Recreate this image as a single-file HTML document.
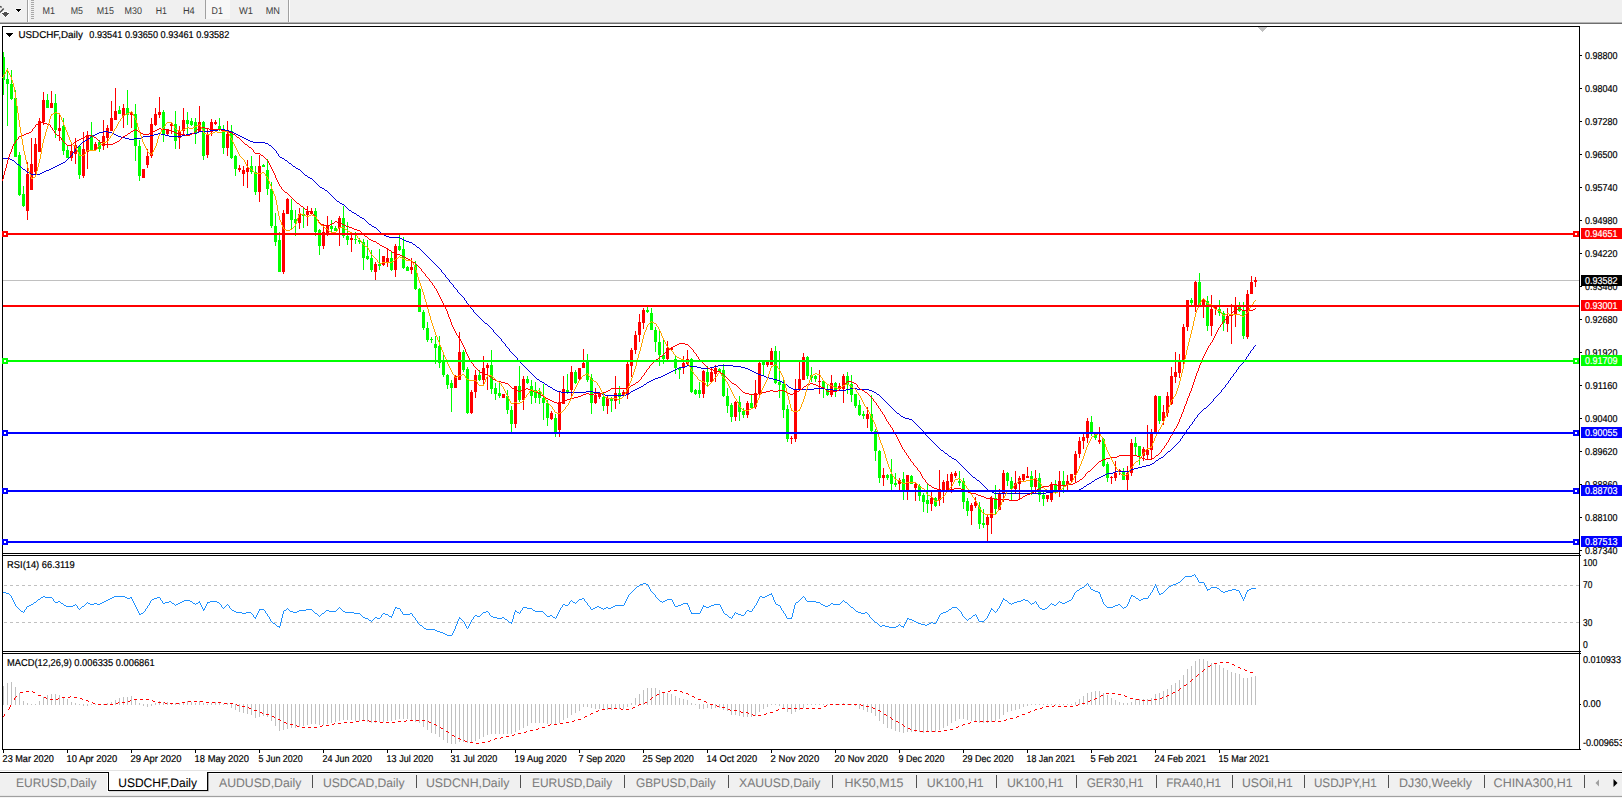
<!DOCTYPE html>
<html><head><meta charset="utf-8"><title>USDCHF,Daily</title>
<style>html,body{margin:0;padding:0;background:#fff;width:1622px;height:798px;overflow:hidden}</style></head>
<body>
<svg width="1622" height="798" viewBox="0 0 1622 798" style="position:absolute;left:0;top:0">
<rect width="1622" height="798" fill="#fff"/>
<g shape-rendering="crispEdges">
<rect x="0" y="0" width="1622" height="22" fill="#f0f0f0"/>
<rect x="0" y="22" width="1622" height="1" fill="#b4b4b4"/>
<rect x="0" y="23" width="1622" height="1" fill="#6e6e6e"/>
<rect x="27" y="0" width="1" height="22" fill="#a0a0a0"/><rect x="28" y="0" width="1" height="22" fill="#fff"/>
<rect x="31" y="0" width="3" height="1" fill="#a8a8a8"/>
<rect x="31" y="2" width="3" height="1" fill="#a8a8a8"/>
<rect x="31" y="4" width="3" height="1" fill="#a8a8a8"/>
<rect x="31" y="6" width="3" height="1" fill="#a8a8a8"/>
<rect x="31" y="8" width="3" height="1" fill="#a8a8a8"/>
<rect x="31" y="10" width="3" height="1" fill="#a8a8a8"/>
<rect x="31" y="12" width="3" height="1" fill="#a8a8a8"/>
<rect x="31" y="14" width="3" height="1" fill="#a8a8a8"/>
<rect x="31" y="16" width="3" height="1" fill="#a8a8a8"/>
<rect x="31" y="18" width="3" height="1" fill="#a8a8a8"/>
<rect x="205" y="0" width="25" height="19" fill="#f7f7f7"/>
<rect x="205" y="0" width="1" height="19" fill="#a0a0a0"/>
<rect x="288" y="0" width="1" height="22" fill="#a0a0a0"/><rect x="289" y="0" width="1" height="22" fill="#fff"/>
<rect x="15" y="9" width="7" height="1" fill="#fafafa"/>
<rect x="16" y="10" width="5" height="1" fill="#fafafa"/>
<rect x="17" y="11" width="3" height="1" fill="#fafafa"/>
<rect x="18" y="12" width="1" height="1" fill="#fafafa"/>
<rect x="16" y="8" width="5" height="1" fill="#fafafa"/>
<rect x="16" y="9" width="5" height="1" fill="#000"/>
<rect x="17" y="10" width="3" height="1" fill="#000"/>
<rect x="18" y="11" width="1" height="1" fill="#000"/>
</g>
<path d="M0 12.6 L3.7 8.6" stroke="#4a4a4a" stroke-width="1.5" fill="none"/><path d="M0 6.4 L1.7 7.4" stroke="#4a4a4a" stroke-width="1.4" fill="none"/>
<g shape-rendering="crispEdges">
<rect x="3" y="11" width="5" height="1" fill="#fbfbfb"/>
<rect x="1" y="12" width="9" height="1" fill="#fbfbfb"/>
<rect x="2" y="14" width="7" height="1" fill="#fbfbfb"/>
<rect x="3" y="15" width="5" height="1" fill="#fbfbfb"/>
<rect x="4" y="16" width="3" height="1" fill="#fbfbfb"/>
<rect x="5" y="17" width="1" height="1" fill="#fbfbfb"/>
<rect x="4" y="12" width="3" height="1" fill="#505050"/>
<rect x="2" y="13" width="7" height="1" fill="#505050"/>
<rect x="3" y="14" width="5" height="1" fill="#505050"/>
<rect x="4" y="15" width="3" height="1" fill="#505050"/>
<rect x="5" y="16" width="1" height="1" fill="#505050"/>
</g>
<text transform="translate(42.5,14) skewX(0.05)" font-family="Liberation Sans, sans-serif" font-size="9.8" fill="#3c3c3c" textLength="12.5" lengthAdjust="spacingAndGlyphs">M1</text>
<text transform="translate(70.7,14) skewX(0.05)" font-family="Liberation Sans, sans-serif" font-size="9.8" fill="#3c3c3c" textLength="12.3" lengthAdjust="spacingAndGlyphs">M5</text>
<text transform="translate(96.7,14) skewX(0.05)" font-family="Liberation Sans, sans-serif" font-size="9.8" fill="#3c3c3c" textLength="17.3" lengthAdjust="spacingAndGlyphs">M15</text>
<text transform="translate(124.6,14) skewX(0.05)" font-family="Liberation Sans, sans-serif" font-size="9.8" fill="#3c3c3c" textLength="17.4" lengthAdjust="spacingAndGlyphs">M30</text>
<text transform="translate(155.8,14) skewX(0.05)" font-family="Liberation Sans, sans-serif" font-size="9.8" fill="#3c3c3c" textLength="11.2" lengthAdjust="spacingAndGlyphs">H1</text>
<text transform="translate(182.9,14) skewX(0.05)" font-family="Liberation Sans, sans-serif" font-size="9.8" fill="#3c3c3c" textLength="11.8" lengthAdjust="spacingAndGlyphs">H4</text>
<text transform="translate(211.5,14) skewX(0.05)" font-family="Liberation Sans, sans-serif" font-size="9.8" fill="#3c3c3c" textLength="11.3" lengthAdjust="spacingAndGlyphs">D1</text>
<text transform="translate(239,14) skewX(0.05)" font-family="Liberation Sans, sans-serif" font-size="9.8" fill="#3c3c3c" textLength="14.0" lengthAdjust="spacingAndGlyphs">W1</text>
<text transform="translate(265.7,14) skewX(0.05)" font-family="Liberation Sans, sans-serif" font-size="9.8" fill="#3c3c3c" textLength="14.3" lengthAdjust="spacingAndGlyphs">MN</text>
<g shape-rendering="crispEdges" fill="#000">
<rect x="2" y="26" width="1578" height="1"/>
<rect x="2" y="26" width="1" height="724"/>
<rect x="1579" y="26" width="1" height="724"/>
<rect x="2" y="553" width="1577" height="1"/>
<rect x="2" y="555" width="1577" height="1"/>
<rect x="2" y="651" width="1577" height="1"/>
<rect x="2" y="653" width="1577" height="1"/>
<rect x="2" y="749" width="1577" height="1"/>
</g>
<rect x="3" y="280" width="1576" height="1" fill="#c0c0c0" shape-rendering="crispEdges"/>
<g shape-rendering="crispEdges">
<rect x="3" y="52" width="1" height="43" fill="#00ff00"/>
<rect x="3" y="57" width="2" height="23" fill="#00ff00"/>
<rect x="7" y="68" width="1" height="58" fill="#00ff00"/>
<rect x="6" y="79" width="3" height="5" fill="#00ff00"/>
<rect x="11" y="70" width="1" height="30" fill="#00ff00"/>
<rect x="10" y="84" width="3" height="15" fill="#00ff00"/>
<rect x="15" y="90" width="1" height="67" fill="#00ff00"/>
<rect x="14" y="98" width="3" height="59" fill="#00ff00"/>
<rect x="19" y="152" width="1" height="44" fill="#00ff00"/>
<rect x="18" y="155" width="3" height="40" fill="#00ff00"/>
<rect x="23" y="186" width="1" height="21" fill="#00ff00"/>
<rect x="22" y="194" width="3" height="12" fill="#00ff00"/>
<rect x="27" y="162" width="1" height="58" fill="#ff0000"/>
<rect x="26" y="174" width="3" height="37" fill="#ff0000"/>
<rect x="31" y="138" width="1" height="52" fill="#ff0000"/>
<rect x="30" y="164" width="3" height="26" fill="#ff0000"/>
<rect x="35" y="138" width="1" height="38" fill="#ff0000"/>
<rect x="34" y="144" width="3" height="28" fill="#ff0000"/>
<rect x="39" y="118" width="1" height="34" fill="#ff0000"/>
<rect x="38" y="121" width="3" height="31" fill="#ff0000"/>
<rect x="43" y="92" width="1" height="33" fill="#ff0000"/>
<rect x="42" y="100" width="3" height="22" fill="#ff0000"/>
<rect x="47" y="94" width="1" height="14" fill="#00ff00"/>
<rect x="46" y="100" width="3" height="8" fill="#00ff00"/>
<rect x="51" y="91" width="1" height="17" fill="#ff0000"/>
<rect x="50" y="103" width="3" height="5" fill="#ff0000"/>
<rect x="55" y="94" width="1" height="44" fill="#00ff00"/>
<rect x="54" y="103" width="3" height="27" fill="#00ff00"/>
<rect x="59" y="115" width="1" height="26" fill="#ff0000"/>
<rect x="58" y="128" width="3" height="3" fill="#ff0000"/>
<rect x="63" y="118" width="1" height="37" fill="#00ff00"/>
<rect x="62" y="126" width="3" height="25" fill="#00ff00"/>
<rect x="67" y="146" width="1" height="12" fill="#00ff00"/>
<rect x="66" y="150" width="3" height="8" fill="#00ff00"/>
<rect x="71" y="144" width="1" height="17" fill="#ff0000"/>
<rect x="70" y="151" width="3" height="7" fill="#ff0000"/>
<rect x="75" y="138" width="1" height="26" fill="#ff0000"/>
<rect x="74" y="145" width="3" height="9" fill="#ff0000"/>
<rect x="79" y="146" width="1" height="33" fill="#00ff00"/>
<rect x="78" y="146" width="3" height="29" fill="#00ff00"/>
<rect x="83" y="132" width="1" height="46" fill="#ff0000"/>
<rect x="82" y="149" width="3" height="27" fill="#ff0000"/>
<rect x="87" y="131" width="1" height="38" fill="#ff0000"/>
<rect x="86" y="135" width="3" height="17" fill="#ff0000"/>
<rect x="91" y="122" width="1" height="29" fill="#00ff00"/>
<rect x="90" y="135" width="3" height="15" fill="#00ff00"/>
<rect x="95" y="142" width="1" height="9" fill="#ff0000"/>
<rect x="94" y="144" width="3" height="6" fill="#ff0000"/>
<rect x="99" y="140" width="1" height="12" fill="#00ff00"/>
<rect x="98" y="142" width="3" height="7" fill="#00ff00"/>
<rect x="103" y="120" width="1" height="30" fill="#ff0000"/>
<rect x="102" y="136" width="3" height="10" fill="#ff0000"/>
<rect x="107" y="125" width="1" height="23" fill="#ff0000"/>
<rect x="106" y="128" width="3" height="10" fill="#ff0000"/>
<rect x="111" y="101" width="1" height="30" fill="#ff0000"/>
<rect x="110" y="118" width="3" height="13" fill="#ff0000"/>
<rect x="115" y="88" width="1" height="32" fill="#ff0000"/>
<rect x="114" y="111" width="3" height="9" fill="#ff0000"/>
<rect x="119" y="106" width="1" height="8" fill="#00ff00"/>
<rect x="118" y="110" width="3" height="4" fill="#00ff00"/>
<rect x="123" y="104" width="1" height="24" fill="#ff0000"/>
<rect x="122" y="108" width="3" height="8" fill="#ff0000"/>
<rect x="127" y="90" width="1" height="35" fill="#00ff00"/>
<rect x="126" y="108" width="3" height="7" fill="#00ff00"/>
<rect x="131" y="111" width="1" height="17" fill="#ff0000"/>
<rect x="130" y="112" width="3" height="3" fill="#ff0000"/>
<rect x="135" y="104" width="1" height="57" fill="#00ff00"/>
<rect x="134" y="114" width="3" height="32" fill="#00ff00"/>
<rect x="139" y="140" width="1" height="41" fill="#00ff00"/>
<rect x="138" y="146" width="3" height="30" fill="#00ff00"/>
<rect x="143" y="169" width="1" height="9" fill="#ff0000"/>
<rect x="142" y="169" width="3" height="9" fill="#ff0000"/>
<rect x="147" y="149" width="1" height="19" fill="#ff0000"/>
<rect x="146" y="156" width="3" height="9" fill="#ff0000"/>
<rect x="151" y="118" width="1" height="40" fill="#ff0000"/>
<rect x="150" y="124" width="3" height="32" fill="#ff0000"/>
<rect x="155" y="108" width="1" height="18" fill="#ff0000"/>
<rect x="154" y="114" width="3" height="11" fill="#ff0000"/>
<rect x="159" y="97" width="1" height="21" fill="#ff0000"/>
<rect x="158" y="112" width="3" height="3" fill="#ff0000"/>
<rect x="163" y="110" width="1" height="32" fill="#00ff00"/>
<rect x="162" y="112" width="3" height="22" fill="#00ff00"/>
<rect x="167" y="129" width="1" height="6" fill="#ff0000"/>
<rect x="166" y="130" width="3" height="4" fill="#ff0000"/>
<rect x="171" y="122" width="1" height="12" fill="#ff0000"/>
<rect x="170" y="124" width="3" height="2" fill="#ff0000"/>
<rect x="175" y="111" width="1" height="38" fill="#00ff00"/>
<rect x="174" y="124" width="3" height="17" fill="#00ff00"/>
<rect x="179" y="126" width="1" height="23" fill="#ff0000"/>
<rect x="178" y="131" width="3" height="7" fill="#ff0000"/>
<rect x="183" y="108" width="1" height="28" fill="#ff0000"/>
<rect x="182" y="120" width="3" height="11" fill="#ff0000"/>
<rect x="187" y="112" width="1" height="24" fill="#00ff00"/>
<rect x="186" y="120" width="3" height="4" fill="#00ff00"/>
<rect x="191" y="118" width="1" height="8" fill="#00ff00"/>
<rect x="190" y="121" width="3" height="4" fill="#00ff00"/>
<rect x="195" y="118" width="1" height="26" fill="#00ff00"/>
<rect x="194" y="122" width="3" height="12" fill="#00ff00"/>
<rect x="199" y="106" width="1" height="26" fill="#ff0000"/>
<rect x="198" y="122" width="3" height="10" fill="#ff0000"/>
<rect x="203" y="121" width="1" height="39" fill="#00ff00"/>
<rect x="202" y="122" width="3" height="34" fill="#00ff00"/>
<rect x="207" y="128" width="1" height="30" fill="#ff0000"/>
<rect x="206" y="134" width="3" height="21" fill="#ff0000"/>
<rect x="211" y="119" width="1" height="17" fill="#ff0000"/>
<rect x="210" y="122" width="3" height="10" fill="#ff0000"/>
<rect x="215" y="120" width="1" height="5" fill="#ff0000"/>
<rect x="214" y="122" width="3" height="2" fill="#ff0000"/>
<rect x="219" y="118" width="1" height="13" fill="#00ff00"/>
<rect x="218" y="126" width="3" height="4" fill="#00ff00"/>
<rect x="223" y="125" width="1" height="29" fill="#00ff00"/>
<rect x="222" y="131" width="3" height="17" fill="#00ff00"/>
<rect x="227" y="121" width="1" height="35" fill="#ff0000"/>
<rect x="226" y="134" width="3" height="14" fill="#ff0000"/>
<rect x="231" y="125" width="1" height="34" fill="#00ff00"/>
<rect x="230" y="131" width="3" height="27" fill="#00ff00"/>
<rect x="235" y="155" width="1" height="21" fill="#00ff00"/>
<rect x="234" y="156" width="3" height="13" fill="#00ff00"/>
<rect x="239" y="165" width="1" height="7" fill="#ff0000"/>
<rect x="238" y="168" width="3" height="2" fill="#ff0000"/>
<rect x="243" y="166" width="1" height="20" fill="#ff0000"/>
<rect x="242" y="170" width="3" height="4" fill="#ff0000"/>
<rect x="247" y="160" width="1" height="28" fill="#ff0000"/>
<rect x="246" y="168" width="3" height="4" fill="#ff0000"/>
<rect x="251" y="156" width="1" height="18" fill="#00ff00"/>
<rect x="250" y="166" width="3" height="6" fill="#00ff00"/>
<rect x="255" y="166" width="1" height="29" fill="#00ff00"/>
<rect x="254" y="172" width="3" height="20" fill="#00ff00"/>
<rect x="259" y="155" width="1" height="47" fill="#ff0000"/>
<rect x="258" y="166" width="3" height="26" fill="#ff0000"/>
<rect x="263" y="164" width="1" height="3" fill="#00ff00"/>
<rect x="262" y="165" width="3" height="2" fill="#00ff00"/>
<rect x="267" y="159" width="1" height="36" fill="#00ff00"/>
<rect x="266" y="170" width="3" height="19" fill="#00ff00"/>
<rect x="271" y="182" width="1" height="46" fill="#00ff00"/>
<rect x="270" y="189" width="3" height="37" fill="#00ff00"/>
<rect x="275" y="213" width="1" height="33" fill="#00ff00"/>
<rect x="274" y="226" width="3" height="16" fill="#00ff00"/>
<rect x="279" y="232" width="1" height="40" fill="#00ff00"/>
<rect x="278" y="240" width="3" height="32" fill="#00ff00"/>
<rect x="283" y="210" width="1" height="64" fill="#ff0000"/>
<rect x="282" y="213" width="3" height="59" fill="#ff0000"/>
<rect x="287" y="198" width="1" height="16" fill="#ff0000"/>
<rect x="286" y="199" width="3" height="15" fill="#ff0000"/>
<rect x="291" y="199" width="1" height="30" fill="#00ff00"/>
<rect x="290" y="210" width="3" height="10" fill="#00ff00"/>
<rect x="295" y="210" width="1" height="26" fill="#00ff00"/>
<rect x="294" y="219" width="3" height="4" fill="#00ff00"/>
<rect x="299" y="208" width="1" height="21" fill="#ff0000"/>
<rect x="298" y="214" width="3" height="9" fill="#ff0000"/>
<rect x="303" y="208" width="1" height="20" fill="#00ff00"/>
<rect x="302" y="214" width="3" height="2" fill="#00ff00"/>
<rect x="307" y="206" width="1" height="20" fill="#ff0000"/>
<rect x="306" y="211" width="3" height="4" fill="#ff0000"/>
<rect x="311" y="208" width="1" height="6" fill="#ff0000"/>
<rect x="310" y="211" width="3" height="3" fill="#ff0000"/>
<rect x="315" y="208" width="1" height="28" fill="#00ff00"/>
<rect x="314" y="211" width="3" height="21" fill="#00ff00"/>
<rect x="319" y="229" width="1" height="26" fill="#00ff00"/>
<rect x="318" y="230" width="3" height="16" fill="#00ff00"/>
<rect x="323" y="224" width="1" height="25" fill="#ff0000"/>
<rect x="322" y="232" width="3" height="14" fill="#ff0000"/>
<rect x="327" y="216" width="1" height="20" fill="#ff0000"/>
<rect x="326" y="226" width="3" height="7" fill="#ff0000"/>
<rect x="331" y="220" width="1" height="12" fill="#00ff00"/>
<rect x="330" y="226" width="3" height="3" fill="#00ff00"/>
<rect x="335" y="226" width="1" height="5" fill="#00ff00"/>
<rect x="334" y="228" width="3" height="3" fill="#00ff00"/>
<rect x="339" y="216" width="1" height="30" fill="#ff0000"/>
<rect x="338" y="218" width="3" height="10" fill="#ff0000"/>
<rect x="343" y="206" width="1" height="32" fill="#00ff00"/>
<rect x="342" y="218" width="3" height="18" fill="#00ff00"/>
<rect x="347" y="222" width="1" height="23" fill="#00ff00"/>
<rect x="346" y="236" width="3" height="4" fill="#00ff00"/>
<rect x="351" y="233" width="1" height="19" fill="#ff0000"/>
<rect x="350" y="238" width="3" height="2" fill="#ff0000"/>
<rect x="355" y="232" width="1" height="12" fill="#00ff00"/>
<rect x="354" y="239" width="3" height="1" fill="#00ff00"/>
<rect x="359" y="238" width="1" height="6" fill="#00ff00"/>
<rect x="358" y="240" width="3" height="2" fill="#00ff00"/>
<rect x="363" y="239" width="1" height="31" fill="#00ff00"/>
<rect x="362" y="242" width="3" height="16" fill="#00ff00"/>
<rect x="367" y="240" width="1" height="20" fill="#00ff00"/>
<rect x="366" y="256" width="3" height="3" fill="#00ff00"/>
<rect x="371" y="250" width="1" height="22" fill="#00ff00"/>
<rect x="370" y="258" width="3" height="12" fill="#00ff00"/>
<rect x="375" y="262" width="1" height="18" fill="#ff0000"/>
<rect x="374" y="264" width="3" height="8" fill="#ff0000"/>
<rect x="379" y="249" width="1" height="21" fill="#00ff00"/>
<rect x="378" y="264" width="3" height="2" fill="#00ff00"/>
<rect x="383" y="256" width="1" height="10" fill="#ff0000"/>
<rect x="382" y="256" width="3" height="9" fill="#ff0000"/>
<rect x="387" y="248" width="1" height="19" fill="#ff0000"/>
<rect x="386" y="258" width="3" height="4" fill="#ff0000"/>
<rect x="391" y="252" width="1" height="19" fill="#00ff00"/>
<rect x="390" y="258" width="3" height="12" fill="#00ff00"/>
<rect x="395" y="244" width="1" height="33" fill="#ff0000"/>
<rect x="394" y="246" width="3" height="24" fill="#ff0000"/>
<rect x="399" y="235" width="1" height="16" fill="#00ff00"/>
<rect x="398" y="246" width="3" height="4" fill="#00ff00"/>
<rect x="403" y="237" width="1" height="32" fill="#00ff00"/>
<rect x="402" y="249" width="3" height="19" fill="#00ff00"/>
<rect x="407" y="266" width="1" height="5" fill="#00ff00"/>
<rect x="406" y="267" width="3" height="4" fill="#00ff00"/>
<rect x="411" y="258" width="1" height="16" fill="#ff0000"/>
<rect x="410" y="267" width="3" height="3" fill="#ff0000"/>
<rect x="415" y="261" width="1" height="29" fill="#00ff00"/>
<rect x="414" y="265" width="3" height="24" fill="#00ff00"/>
<rect x="419" y="288" width="1" height="24" fill="#00ff00"/>
<rect x="418" y="289" width="3" height="23" fill="#00ff00"/>
<rect x="423" y="310" width="1" height="20" fill="#00ff00"/>
<rect x="422" y="312" width="3" height="16" fill="#00ff00"/>
<rect x="427" y="322" width="1" height="20" fill="#00ff00"/>
<rect x="426" y="328" width="3" height="12" fill="#00ff00"/>
<rect x="431" y="337" width="1" height="6" fill="#00ff00"/>
<rect x="430" y="339" width="3" height="1" fill="#00ff00"/>
<rect x="435" y="336" width="1" height="28" fill="#00ff00"/>
<rect x="434" y="344" width="3" height="4" fill="#00ff00"/>
<rect x="439" y="336" width="1" height="32" fill="#00ff00"/>
<rect x="438" y="346" width="3" height="17" fill="#00ff00"/>
<rect x="443" y="355" width="1" height="22" fill="#00ff00"/>
<rect x="442" y="362" width="3" height="13" fill="#00ff00"/>
<rect x="447" y="374" width="1" height="15" fill="#00ff00"/>
<rect x="446" y="375" width="3" height="10" fill="#00ff00"/>
<rect x="451" y="380" width="1" height="32" fill="#00ff00"/>
<rect x="450" y="383" width="3" height="5" fill="#00ff00"/>
<rect x="455" y="375" width="1" height="13" fill="#ff0000"/>
<rect x="454" y="376" width="3" height="12" fill="#ff0000"/>
<rect x="459" y="332" width="1" height="48" fill="#ff0000"/>
<rect x="458" y="352" width="3" height="28" fill="#ff0000"/>
<rect x="463" y="350" width="1" height="22" fill="#00ff00"/>
<rect x="462" y="352" width="3" height="18" fill="#00ff00"/>
<rect x="467" y="367" width="1" height="47" fill="#00ff00"/>
<rect x="466" y="369" width="3" height="44" fill="#00ff00"/>
<rect x="471" y="390" width="1" height="24" fill="#ff0000"/>
<rect x="470" y="392" width="3" height="21" fill="#ff0000"/>
<rect x="475" y="370" width="1" height="28" fill="#ff0000"/>
<rect x="474" y="375" width="3" height="17" fill="#ff0000"/>
<rect x="479" y="370" width="1" height="11" fill="#00ff00"/>
<rect x="478" y="375" width="3" height="5" fill="#00ff00"/>
<rect x="483" y="356" width="1" height="29" fill="#ff0000"/>
<rect x="482" y="368" width="3" height="12" fill="#ff0000"/>
<rect x="487" y="363" width="1" height="27" fill="#ff0000"/>
<rect x="486" y="365" width="3" height="3" fill="#ff0000"/>
<rect x="491" y="350" width="1" height="44" fill="#00ff00"/>
<rect x="490" y="365" width="3" height="24" fill="#00ff00"/>
<rect x="495" y="383" width="1" height="17" fill="#00ff00"/>
<rect x="494" y="388" width="3" height="6" fill="#00ff00"/>
<rect x="499" y="383" width="1" height="15" fill="#00ff00"/>
<rect x="498" y="393" width="3" height="3" fill="#00ff00"/>
<rect x="503" y="394" width="1" height="4" fill="#ff0000"/>
<rect x="502" y="394" width="3" height="4" fill="#ff0000"/>
<rect x="507" y="390" width="1" height="24" fill="#00ff00"/>
<rect x="506" y="396" width="3" height="14" fill="#00ff00"/>
<rect x="511" y="406" width="1" height="26" fill="#00ff00"/>
<rect x="510" y="410" width="3" height="14" fill="#00ff00"/>
<rect x="515" y="386" width="1" height="42" fill="#ff0000"/>
<rect x="514" y="386" width="3" height="38" fill="#ff0000"/>
<rect x="519" y="366" width="1" height="36" fill="#00ff00"/>
<rect x="518" y="386" width="3" height="14" fill="#00ff00"/>
<rect x="523" y="376" width="1" height="34" fill="#ff0000"/>
<rect x="522" y="379" width="3" height="21" fill="#ff0000"/>
<rect x="527" y="376" width="1" height="8" fill="#00ff00"/>
<rect x="526" y="379" width="3" height="4" fill="#00ff00"/>
<rect x="531" y="380" width="1" height="24" fill="#00ff00"/>
<rect x="530" y="386" width="3" height="10" fill="#00ff00"/>
<rect x="535" y="382" width="1" height="21" fill="#00ff00"/>
<rect x="534" y="390" width="3" height="8" fill="#00ff00"/>
<rect x="539" y="388" width="1" height="16" fill="#00ff00"/>
<rect x="538" y="392" width="3" height="6" fill="#00ff00"/>
<rect x="543" y="384" width="1" height="36" fill="#00ff00"/>
<rect x="542" y="398" width="3" height="5" fill="#00ff00"/>
<rect x="547" y="400" width="1" height="26" fill="#00ff00"/>
<rect x="546" y="403" width="3" height="15" fill="#00ff00"/>
<rect x="551" y="411" width="1" height="9" fill="#ff0000"/>
<rect x="550" y="413" width="3" height="6" fill="#ff0000"/>
<rect x="555" y="414" width="1" height="23" fill="#00ff00"/>
<rect x="554" y="418" width="3" height="14" fill="#00ff00"/>
<rect x="559" y="392" width="1" height="45" fill="#ff0000"/>
<rect x="558" y="402" width="3" height="28" fill="#ff0000"/>
<rect x="563" y="376" width="1" height="28" fill="#ff0000"/>
<rect x="562" y="389" width="3" height="15" fill="#ff0000"/>
<rect x="567" y="374" width="1" height="20" fill="#00ff00"/>
<rect x="566" y="390" width="3" height="3" fill="#00ff00"/>
<rect x="571" y="366" width="1" height="32" fill="#ff0000"/>
<rect x="570" y="372" width="3" height="18" fill="#ff0000"/>
<rect x="575" y="370" width="1" height="14" fill="#00ff00"/>
<rect x="574" y="372" width="3" height="11" fill="#00ff00"/>
<rect x="579" y="368" width="1" height="12" fill="#ff0000"/>
<rect x="578" y="368" width="3" height="11" fill="#ff0000"/>
<rect x="583" y="349" width="1" height="19" fill="#ff0000"/>
<rect x="582" y="363" width="3" height="5" fill="#ff0000"/>
<rect x="587" y="354" width="1" height="28" fill="#00ff00"/>
<rect x="586" y="362" width="3" height="18" fill="#00ff00"/>
<rect x="591" y="374" width="1" height="40" fill="#00ff00"/>
<rect x="590" y="378" width="3" height="25" fill="#00ff00"/>
<rect x="595" y="388" width="1" height="16" fill="#ff0000"/>
<rect x="594" y="395" width="3" height="8" fill="#ff0000"/>
<rect x="599" y="392" width="1" height="7" fill="#ff0000"/>
<rect x="598" y="393" width="3" height="4" fill="#ff0000"/>
<rect x="603" y="393" width="1" height="18" fill="#00ff00"/>
<rect x="602" y="397" width="3" height="9" fill="#00ff00"/>
<rect x="607" y="396" width="1" height="18" fill="#ff0000"/>
<rect x="606" y="398" width="3" height="8" fill="#ff0000"/>
<rect x="611" y="397" width="1" height="15" fill="#00ff00"/>
<rect x="610" y="399" width="3" height="2" fill="#00ff00"/>
<rect x="615" y="376" width="1" height="33" fill="#ff0000"/>
<rect x="614" y="393" width="3" height="8" fill="#ff0000"/>
<rect x="619" y="386" width="1" height="18" fill="#00ff00"/>
<rect x="618" y="393" width="3" height="4" fill="#00ff00"/>
<rect x="623" y="390" width="1" height="7" fill="#ff0000"/>
<rect x="622" y="392" width="3" height="4" fill="#ff0000"/>
<rect x="627" y="362" width="1" height="37" fill="#ff0000"/>
<rect x="626" y="364" width="3" height="31" fill="#ff0000"/>
<rect x="631" y="348" width="1" height="29" fill="#ff0000"/>
<rect x="630" y="350" width="3" height="16" fill="#ff0000"/>
<rect x="635" y="331" width="1" height="23" fill="#ff0000"/>
<rect x="634" y="335" width="3" height="15" fill="#ff0000"/>
<rect x="639" y="314" width="1" height="28" fill="#ff0000"/>
<rect x="638" y="322" width="3" height="13" fill="#ff0000"/>
<rect x="643" y="308" width="1" height="21" fill="#ff0000"/>
<rect x="642" y="310" width="3" height="13" fill="#ff0000"/>
<rect x="647" y="307" width="1" height="6" fill="#00ff00"/>
<rect x="646" y="310" width="3" height="2" fill="#00ff00"/>
<rect x="651" y="308" width="1" height="22" fill="#00ff00"/>
<rect x="650" y="313" width="3" height="17" fill="#00ff00"/>
<rect x="655" y="327" width="1" height="25" fill="#00ff00"/>
<rect x="654" y="330" width="3" height="12" fill="#00ff00"/>
<rect x="659" y="330" width="1" height="36" fill="#00ff00"/>
<rect x="658" y="342" width="3" height="13" fill="#00ff00"/>
<rect x="663" y="339" width="1" height="25" fill="#00ff00"/>
<rect x="662" y="355" width="3" height="4" fill="#00ff00"/>
<rect x="667" y="341" width="1" height="19" fill="#ff0000"/>
<rect x="666" y="348" width="3" height="11" fill="#ff0000"/>
<rect x="671" y="347" width="1" height="3" fill="#ff0000"/>
<rect x="670" y="348" width="3" height="2" fill="#ff0000"/>
<rect x="675" y="356" width="1" height="18" fill="#00ff00"/>
<rect x="674" y="359" width="3" height="9" fill="#00ff00"/>
<rect x="679" y="367" width="1" height="12" fill="#00ff00"/>
<rect x="678" y="368" width="3" height="2" fill="#00ff00"/>
<rect x="683" y="356" width="1" height="18" fill="#ff0000"/>
<rect x="682" y="363" width="3" height="5" fill="#ff0000"/>
<rect x="687" y="350" width="1" height="16" fill="#ff0000"/>
<rect x="686" y="359" width="3" height="5" fill="#ff0000"/>
<rect x="691" y="358" width="1" height="35" fill="#00ff00"/>
<rect x="690" y="359" width="3" height="33" fill="#00ff00"/>
<rect x="695" y="389" width="1" height="6" fill="#00ff00"/>
<rect x="694" y="390" width="3" height="4" fill="#00ff00"/>
<rect x="699" y="382" width="1" height="16" fill="#00ff00"/>
<rect x="698" y="390" width="3" height="4" fill="#00ff00"/>
<rect x="703" y="370" width="1" height="28" fill="#ff0000"/>
<rect x="702" y="371" width="3" height="23" fill="#ff0000"/>
<rect x="707" y="366" width="1" height="21" fill="#00ff00"/>
<rect x="706" y="372" width="3" height="10" fill="#00ff00"/>
<rect x="711" y="367" width="1" height="15" fill="#ff0000"/>
<rect x="710" y="372" width="3" height="10" fill="#ff0000"/>
<rect x="715" y="365" width="1" height="17" fill="#ff0000"/>
<rect x="714" y="368" width="3" height="6" fill="#ff0000"/>
<rect x="719" y="368" width="1" height="4" fill="#00ff00"/>
<rect x="718" y="369" width="3" height="3" fill="#00ff00"/>
<rect x="723" y="364" width="1" height="33" fill="#00ff00"/>
<rect x="722" y="370" width="3" height="26" fill="#00ff00"/>
<rect x="727" y="388" width="1" height="25" fill="#00ff00"/>
<rect x="726" y="396" width="3" height="10" fill="#00ff00"/>
<rect x="731" y="403" width="1" height="19" fill="#00ff00"/>
<rect x="730" y="405" width="3" height="12" fill="#00ff00"/>
<rect x="735" y="401" width="1" height="20" fill="#ff0000"/>
<rect x="734" y="402" width="3" height="15" fill="#ff0000"/>
<rect x="739" y="396" width="1" height="25" fill="#00ff00"/>
<rect x="738" y="402" width="3" height="10" fill="#00ff00"/>
<rect x="743" y="408" width="1" height="10" fill="#00ff00"/>
<rect x="742" y="411" width="3" height="4" fill="#00ff00"/>
<rect x="747" y="401" width="1" height="17" fill="#ff0000"/>
<rect x="746" y="403" width="3" height="12" fill="#ff0000"/>
<rect x="751" y="395" width="1" height="14" fill="#00ff00"/>
<rect x="750" y="403" width="3" height="5" fill="#00ff00"/>
<rect x="755" y="380" width="1" height="29" fill="#ff0000"/>
<rect x="754" y="393" width="3" height="14" fill="#ff0000"/>
<rect x="759" y="362" width="1" height="33" fill="#ff0000"/>
<rect x="758" y="363" width="3" height="31" fill="#ff0000"/>
<rect x="763" y="361" width="1" height="14" fill="#00ff00"/>
<rect x="762" y="362" width="3" height="3" fill="#00ff00"/>
<rect x="767" y="361" width="1" height="6" fill="#ff0000"/>
<rect x="766" y="362" width="3" height="3" fill="#ff0000"/>
<rect x="771" y="348" width="1" height="17" fill="#ff0000"/>
<rect x="770" y="351" width="3" height="14" fill="#ff0000"/>
<rect x="775" y="346" width="1" height="38" fill="#00ff00"/>
<rect x="774" y="351" width="3" height="32" fill="#00ff00"/>
<rect x="779" y="351" width="1" height="47" fill="#00ff00"/>
<rect x="778" y="382" width="3" height="3" fill="#00ff00"/>
<rect x="783" y="380" width="1" height="38" fill="#00ff00"/>
<rect x="782" y="384" width="3" height="26" fill="#00ff00"/>
<rect x="787" y="405" width="1" height="37" fill="#00ff00"/>
<rect x="786" y="409" width="3" height="30" fill="#00ff00"/>
<rect x="791" y="436" width="1" height="8" fill="#ff0000"/>
<rect x="790" y="438" width="3" height="1" fill="#ff0000"/>
<rect x="795" y="379" width="1" height="63" fill="#ff0000"/>
<rect x="794" y="389" width="3" height="50" fill="#ff0000"/>
<rect x="799" y="362" width="1" height="27" fill="#ff0000"/>
<rect x="798" y="379" width="3" height="10" fill="#ff0000"/>
<rect x="803" y="353" width="1" height="27" fill="#ff0000"/>
<rect x="802" y="357" width="3" height="23" fill="#ff0000"/>
<rect x="807" y="356" width="1" height="23" fill="#00ff00"/>
<rect x="806" y="357" width="3" height="19" fill="#00ff00"/>
<rect x="811" y="367" width="1" height="15" fill="#00ff00"/>
<rect x="810" y="375" width="3" height="3" fill="#00ff00"/>
<rect x="815" y="375" width="1" height="7" fill="#00ff00"/>
<rect x="814" y="376" width="3" height="3" fill="#00ff00"/>
<rect x="819" y="370" width="1" height="24" fill="#ff0000"/>
<rect x="818" y="381" width="3" height="1" fill="#ff0000"/>
<rect x="823" y="380" width="1" height="18" fill="#00ff00"/>
<rect x="822" y="381" width="3" height="8" fill="#00ff00"/>
<rect x="827" y="385" width="1" height="11" fill="#00ff00"/>
<rect x="826" y="390" width="3" height="5" fill="#00ff00"/>
<rect x="831" y="375" width="1" height="22" fill="#ff0000"/>
<rect x="830" y="383" width="3" height="12" fill="#ff0000"/>
<rect x="835" y="382" width="1" height="15" fill="#00ff00"/>
<rect x="834" y="383" width="3" height="7" fill="#00ff00"/>
<rect x="839" y="383" width="1" height="7" fill="#ff0000"/>
<rect x="838" y="386" width="3" height="3" fill="#ff0000"/>
<rect x="843" y="374" width="1" height="29" fill="#ff0000"/>
<rect x="842" y="376" width="3" height="13" fill="#ff0000"/>
<rect x="847" y="372" width="1" height="22" fill="#00ff00"/>
<rect x="846" y="376" width="3" height="9" fill="#00ff00"/>
<rect x="851" y="375" width="1" height="27" fill="#00ff00"/>
<rect x="850" y="384" width="3" height="11" fill="#00ff00"/>
<rect x="855" y="394" width="1" height="14" fill="#00ff00"/>
<rect x="854" y="394" width="3" height="12" fill="#00ff00"/>
<rect x="859" y="400" width="1" height="16" fill="#00ff00"/>
<rect x="858" y="405" width="3" height="10" fill="#00ff00"/>
<rect x="863" y="411" width="1" height="8" fill="#00ff00"/>
<rect x="862" y="414" width="3" height="2" fill="#00ff00"/>
<rect x="867" y="407" width="1" height="21" fill="#ff0000"/>
<rect x="866" y="414" width="3" height="5" fill="#ff0000"/>
<rect x="871" y="395" width="1" height="37" fill="#00ff00"/>
<rect x="870" y="414" width="3" height="17" fill="#00ff00"/>
<rect x="875" y="429" width="1" height="32" fill="#00ff00"/>
<rect x="874" y="431" width="3" height="20" fill="#00ff00"/>
<rect x="879" y="450" width="1" height="33" fill="#00ff00"/>
<rect x="878" y="451" width="3" height="27" fill="#00ff00"/>
<rect x="883" y="468" width="1" height="18" fill="#ff0000"/>
<rect x="882" y="475" width="3" height="3" fill="#ff0000"/>
<rect x="887" y="474" width="1" height="6" fill="#00ff00"/>
<rect x="886" y="475" width="3" height="3" fill="#00ff00"/>
<rect x="891" y="459" width="1" height="31" fill="#00ff00"/>
<rect x="890" y="474" width="3" height="10" fill="#00ff00"/>
<rect x="895" y="473" width="1" height="14" fill="#00ff00"/>
<rect x="894" y="483" width="3" height="2" fill="#00ff00"/>
<rect x="899" y="478" width="1" height="12" fill="#ff0000"/>
<rect x="898" y="480" width="3" height="4" fill="#ff0000"/>
<rect x="903" y="472" width="1" height="28" fill="#00ff00"/>
<rect x="902" y="479" width="3" height="12" fill="#00ff00"/>
<rect x="907" y="475" width="1" height="25" fill="#ff0000"/>
<rect x="906" y="475" width="3" height="17" fill="#ff0000"/>
<rect x="911" y="475" width="1" height="9" fill="#00ff00"/>
<rect x="910" y="476" width="3" height="8" fill="#00ff00"/>
<rect x="915" y="482" width="1" height="19" fill="#ff0000"/>
<rect x="914" y="484" width="3" height="4" fill="#ff0000"/>
<rect x="919" y="484" width="1" height="17" fill="#00ff00"/>
<rect x="918" y="486" width="3" height="10" fill="#00ff00"/>
<rect x="923" y="493" width="1" height="19" fill="#00ff00"/>
<rect x="922" y="495" width="3" height="7" fill="#00ff00"/>
<rect x="927" y="483" width="1" height="30" fill="#00ff00"/>
<rect x="926" y="500" width="3" height="4" fill="#00ff00"/>
<rect x="931" y="492" width="1" height="19" fill="#ff0000"/>
<rect x="930" y="498" width="3" height="6" fill="#ff0000"/>
<rect x="935" y="497" width="1" height="10" fill="#00ff00"/>
<rect x="934" y="498" width="3" height="8" fill="#00ff00"/>
<rect x="939" y="470" width="1" height="36" fill="#ff0000"/>
<rect x="938" y="490" width="3" height="10" fill="#ff0000"/>
<rect x="943" y="480" width="1" height="23" fill="#ff0000"/>
<rect x="942" y="482" width="3" height="10" fill="#ff0000"/>
<rect x="947" y="474" width="1" height="18" fill="#ff0000"/>
<rect x="946" y="481" width="3" height="9" fill="#ff0000"/>
<rect x="951" y="472" width="1" height="21" fill="#ff0000"/>
<rect x="950" y="474" width="3" height="8" fill="#ff0000"/>
<rect x="955" y="471" width="1" height="7" fill="#ff0000"/>
<rect x="954" y="473" width="3" height="3" fill="#ff0000"/>
<rect x="959" y="471" width="1" height="15" fill="#00ff00"/>
<rect x="958" y="481" width="3" height="2" fill="#00ff00"/>
<rect x="963" y="478" width="1" height="31" fill="#00ff00"/>
<rect x="962" y="481" width="3" height="21" fill="#00ff00"/>
<rect x="967" y="498" width="1" height="18" fill="#00ff00"/>
<rect x="966" y="501" width="3" height="10" fill="#00ff00"/>
<rect x="971" y="503" width="1" height="22" fill="#ff0000"/>
<rect x="970" y="505" width="3" height="6" fill="#ff0000"/>
<rect x="975" y="497" width="1" height="11" fill="#ff0000"/>
<rect x="974" y="502" width="3" height="4" fill="#ff0000"/>
<rect x="979" y="502" width="1" height="27" fill="#00ff00"/>
<rect x="978" y="507" width="3" height="17" fill="#00ff00"/>
<rect x="983" y="509" width="1" height="19" fill="#00ff00"/>
<rect x="982" y="523" width="3" height="2" fill="#00ff00"/>
<rect x="987" y="515" width="1" height="26" fill="#ff0000"/>
<rect x="986" y="517" width="3" height="8" fill="#ff0000"/>
<rect x="991" y="496" width="1" height="38" fill="#ff0000"/>
<rect x="990" y="498" width="3" height="20" fill="#ff0000"/>
<rect x="995" y="485" width="1" height="29" fill="#00ff00"/>
<rect x="994" y="498" width="3" height="11" fill="#00ff00"/>
<rect x="999" y="489" width="1" height="21" fill="#ff0000"/>
<rect x="998" y="494" width="3" height="16" fill="#ff0000"/>
<rect x="1003" y="470" width="1" height="32" fill="#ff0000"/>
<rect x="1002" y="473" width="3" height="21" fill="#ff0000"/>
<rect x="1007" y="472" width="1" height="14" fill="#00ff00"/>
<rect x="1006" y="473" width="3" height="8" fill="#00ff00"/>
<rect x="1011" y="477" width="1" height="23" fill="#00ff00"/>
<rect x="1010" y="481" width="3" height="8" fill="#00ff00"/>
<rect x="1015" y="471" width="1" height="23" fill="#ff0000"/>
<rect x="1014" y="483" width="3" height="6" fill="#ff0000"/>
<rect x="1019" y="476" width="1" height="23" fill="#ff0000"/>
<rect x="1018" y="478" width="3" height="6" fill="#ff0000"/>
<rect x="1023" y="474" width="1" height="7" fill="#ff0000"/>
<rect x="1022" y="474" width="3" height="6" fill="#ff0000"/>
<rect x="1027" y="467" width="1" height="11" fill="#ff0000"/>
<rect x="1026" y="476" width="3" height="2" fill="#ff0000"/>
<rect x="1031" y="471" width="1" height="24" fill="#00ff00"/>
<rect x="1030" y="476" width="3" height="11" fill="#00ff00"/>
<rect x="1035" y="470" width="1" height="23" fill="#ff0000"/>
<rect x="1034" y="478" width="3" height="9" fill="#ff0000"/>
<rect x="1039" y="473" width="1" height="29" fill="#00ff00"/>
<rect x="1038" y="478" width="3" height="17" fill="#00ff00"/>
<rect x="1043" y="491" width="1" height="15" fill="#00ff00"/>
<rect x="1042" y="495" width="3" height="4" fill="#00ff00"/>
<rect x="1047" y="495" width="1" height="7" fill="#ff0000"/>
<rect x="1046" y="495" width="3" height="4" fill="#ff0000"/>
<rect x="1051" y="482" width="1" height="20" fill="#ff0000"/>
<rect x="1050" y="484" width="3" height="16" fill="#ff0000"/>
<rect x="1055" y="480" width="1" height="14" fill="#00ff00"/>
<rect x="1054" y="484" width="3" height="7" fill="#00ff00"/>
<rect x="1059" y="471" width="1" height="26" fill="#ff0000"/>
<rect x="1058" y="481" width="3" height="9" fill="#ff0000"/>
<rect x="1063" y="471" width="1" height="22" fill="#00ff00"/>
<rect x="1062" y="481" width="3" height="4" fill="#00ff00"/>
<rect x="1067" y="475" width="1" height="15" fill="#ff0000"/>
<rect x="1066" y="481" width="3" height="4" fill="#ff0000"/>
<rect x="1071" y="474" width="1" height="9" fill="#ff0000"/>
<rect x="1070" y="474" width="3" height="7" fill="#ff0000"/>
<rect x="1075" y="451" width="1" height="31" fill="#ff0000"/>
<rect x="1074" y="454" width="3" height="21" fill="#ff0000"/>
<rect x="1079" y="437" width="1" height="21" fill="#ff0000"/>
<rect x="1078" y="441" width="3" height="13" fill="#ff0000"/>
<rect x="1083" y="433" width="1" height="16" fill="#ff0000"/>
<rect x="1082" y="437" width="3" height="4" fill="#ff0000"/>
<rect x="1087" y="418" width="1" height="25" fill="#ff0000"/>
<rect x="1086" y="421" width="3" height="17" fill="#ff0000"/>
<rect x="1091" y="416" width="1" height="20" fill="#00ff00"/>
<rect x="1090" y="422" width="3" height="12" fill="#00ff00"/>
<rect x="1095" y="434" width="1" height="6" fill="#00ff00"/>
<rect x="1094" y="434" width="3" height="4" fill="#00ff00"/>
<rect x="1099" y="427" width="1" height="17" fill="#ff0000"/>
<rect x="1098" y="440" width="3" height="2" fill="#ff0000"/>
<rect x="1103" y="438" width="1" height="29" fill="#00ff00"/>
<rect x="1102" y="439" width="3" height="27" fill="#00ff00"/>
<rect x="1107" y="462" width="1" height="20" fill="#00ff00"/>
<rect x="1106" y="464" width="3" height="14" fill="#00ff00"/>
<rect x="1111" y="476" width="1" height="8" fill="#ff0000"/>
<rect x="1110" y="477" width="3" height="1" fill="#ff0000"/>
<rect x="1115" y="461" width="1" height="20" fill="#ff0000"/>
<rect x="1114" y="473" width="3" height="5" fill="#ff0000"/>
<rect x="1119" y="469" width="1" height="6" fill="#ff0000"/>
<rect x="1118" y="470" width="3" height="2" fill="#ff0000"/>
<rect x="1123" y="468" width="1" height="12" fill="#00ff00"/>
<rect x="1122" y="472" width="3" height="8" fill="#00ff00"/>
<rect x="1127" y="466" width="1" height="24" fill="#ff0000"/>
<rect x="1126" y="473" width="3" height="7" fill="#ff0000"/>
<rect x="1131" y="439" width="1" height="37" fill="#ff0000"/>
<rect x="1130" y="443" width="3" height="30" fill="#ff0000"/>
<rect x="1135" y="437" width="1" height="18" fill="#00ff00"/>
<rect x="1134" y="443" width="3" height="4" fill="#00ff00"/>
<rect x="1139" y="446" width="1" height="19" fill="#00ff00"/>
<rect x="1138" y="446" width="3" height="10" fill="#00ff00"/>
<rect x="1143" y="447" width="1" height="14" fill="#ff0000"/>
<rect x="1142" y="449" width="3" height="7" fill="#ff0000"/>
<rect x="1147" y="425" width="1" height="34" fill="#ff0000"/>
<rect x="1146" y="450" width="3" height="5" fill="#ff0000"/>
<rect x="1151" y="429" width="1" height="31" fill="#ff0000"/>
<rect x="1150" y="434" width="3" height="16" fill="#ff0000"/>
<rect x="1155" y="395" width="1" height="39" fill="#ff0000"/>
<rect x="1154" y="396" width="3" height="38" fill="#ff0000"/>
<rect x="1159" y="396" width="1" height="28" fill="#00ff00"/>
<rect x="1158" y="396" width="3" height="25" fill="#00ff00"/>
<rect x="1163" y="405" width="1" height="20" fill="#ff0000"/>
<rect x="1162" y="412" width="3" height="9" fill="#ff0000"/>
<rect x="1167" y="392" width="1" height="25" fill="#ff0000"/>
<rect x="1166" y="396" width="3" height="17" fill="#ff0000"/>
<rect x="1171" y="367" width="1" height="38" fill="#ff0000"/>
<rect x="1170" y="376" width="3" height="28" fill="#ff0000"/>
<rect x="1175" y="352" width="1" height="31" fill="#ff0000"/>
<rect x="1174" y="372" width="3" height="5" fill="#ff0000"/>
<rect x="1179" y="354" width="1" height="24" fill="#ff0000"/>
<rect x="1178" y="362" width="3" height="11" fill="#ff0000"/>
<rect x="1183" y="324" width="1" height="40" fill="#ff0000"/>
<rect x="1182" y="327" width="3" height="35" fill="#ff0000"/>
<rect x="1187" y="300" width="1" height="31" fill="#ff0000"/>
<rect x="1186" y="300" width="3" height="27" fill="#ff0000"/>
<rect x="1191" y="298" width="1" height="7" fill="#00ff00"/>
<rect x="1190" y="300" width="3" height="3" fill="#00ff00"/>
<rect x="1195" y="281" width="1" height="31" fill="#ff0000"/>
<rect x="1194" y="282" width="3" height="24" fill="#ff0000"/>
<rect x="1199" y="273" width="1" height="34" fill="#00ff00"/>
<rect x="1198" y="282" width="3" height="24" fill="#00ff00"/>
<rect x="1203" y="298" width="1" height="20" fill="#ff0000"/>
<rect x="1202" y="300" width="3" height="6" fill="#ff0000"/>
<rect x="1207" y="296" width="1" height="35" fill="#00ff00"/>
<rect x="1206" y="301" width="3" height="25" fill="#00ff00"/>
<rect x="1211" y="295" width="1" height="41" fill="#ff0000"/>
<rect x="1210" y="309" width="3" height="17" fill="#ff0000"/>
<rect x="1215" y="306" width="1" height="9" fill="#ff0000"/>
<rect x="1214" y="307" width="3" height="2" fill="#ff0000"/>
<rect x="1219" y="300" width="1" height="16" fill="#00ff00"/>
<rect x="1218" y="309" width="3" height="4" fill="#00ff00"/>
<rect x="1223" y="311" width="1" height="20" fill="#00ff00"/>
<rect x="1222" y="313" width="3" height="10" fill="#00ff00"/>
<rect x="1227" y="308" width="1" height="24" fill="#ff0000"/>
<rect x="1226" y="316" width="3" height="8" fill="#ff0000"/>
<rect x="1231" y="304" width="1" height="40" fill="#ff0000"/>
<rect x="1230" y="315" width="3" height="1" fill="#ff0000"/>
<rect x="1235" y="297" width="1" height="30" fill="#ff0000"/>
<rect x="1234" y="306" width="3" height="9" fill="#ff0000"/>
<rect x="1239" y="302" width="1" height="10" fill="#00ff00"/>
<rect x="1238" y="307" width="3" height="4" fill="#00ff00"/>
<rect x="1243" y="302" width="1" height="37" fill="#00ff00"/>
<rect x="1242" y="310" width="3" height="26" fill="#00ff00"/>
<rect x="1247" y="290" width="1" height="49" fill="#ff0000"/>
<rect x="1246" y="294" width="3" height="43" fill="#ff0000"/>
<rect x="1251" y="276" width="1" height="18" fill="#ff0000"/>
<rect x="1250" y="282" width="3" height="12" fill="#ff0000"/>
<rect x="1255" y="277" width="1" height="10" fill="#ff0000"/>
<rect x="1254" y="280" width="3" height="2" fill="#ff0000"/>
</g>
<path d="M218 129.5h7M210 130.5h8M225 130.5h4M103 131.5h5M199 131.5h11M229 131.5h3M99 132.5h4M108 132.5h4M197 132.5h2M232 132.5h2M97 133.5h2M112 133.5h2M158 133.5h3M190 133.5h7M234 133.5h2M95 134.5h2M114 134.5h2M154 134.5h4M161 134.5h4M186 134.5h4M236 134.5h2M93 135.5h2M116 135.5h2M150 135.5h4M165 135.5h4M182 135.5h4M238 135.5h2M91 136.5h2M118 136.5h3M143 136.5h7M169 136.5h13M240 136.5h2M90 137.5h1M121 137.5h4M141 137.5h2M242 137.5h2M88 138.5h2M125 138.5h4M134 138.5h7M244 138.5h2M87 139.5h1M129 139.5h5M246 139.5h2M85 140.5h2M248 140.5h2M83 141.5h2M250 141.5h3M82 142.5h1M253 142.5h12M81 143.5h1M265 143.5h3M80 144.5h1M268 144.5h1M79 145.5h1M269 145.5h2M78 146.5h1M271 146.5h1M77 147.5h1M272 147.5h1M76 148.5h1M273 148.5h1M75 149.5h1M274 149.5h1M75 150.5h1M275 150.5h1M74 151.5h1M276 151.5h1M73 152.5h1M276 152.5h1M72 153.5h1M277 153.5h1M72 154.5h1M278 154.5h1M71 155.5h1M278 155.5h1M70 156.5h1M279 156.5h1M69 157.5h1M280 157.5h2M3 158.5h7M68 158.5h1M282 158.5h2M10 159.5h2M67 159.5h1M284 159.5h1M12 160.5h2M66 160.5h1M285 160.5h2M14 161.5h1M65 161.5h1M287 161.5h1M15 162.5h1M63 162.5h2M288 162.5h1M16 163.5h1M61 163.5h2M289 163.5h2M17 164.5h2M59 164.5h2M291 164.5h1M19 165.5h1M57 165.5h2M292 165.5h1M20 166.5h1M55 166.5h2M293 166.5h2M21 167.5h1M53 167.5h2M295 167.5h1M22 168.5h1M51 168.5h2M296 168.5h2M23 169.5h2M49 169.5h2M298 169.5h2M25 170.5h1M46 170.5h3M300 170.5h1M26 171.5h1M44 171.5h2M301 171.5h1M27 172.5h2M42 172.5h2M302 172.5h1M29 173.5h2M40 173.5h2M303 173.5h1M31 174.5h9M304 174.5h1M305 175.5h2M307 176.5h1M308 177.5h2M310 178.5h2M312 179.5h1M313 180.5h1M314 181.5h1M315 182.5h1M316 183.5h1M317 184.5h1M318 185.5h1M319 186.5h1M320 187.5h2M322 188.5h2M324 189.5h1M325 190.5h2M327 191.5h1M328 192.5h1M329 193.5h1M330 194.5h1M331 195.5h1M332 196.5h1M333 197.5h1M334 198.5h1M335 199.5h1M336 200.5h1M337 201.5h2M339 202.5h1M340 203.5h2M342 204.5h2M344 205.5h1M345 206.5h1M346 207.5h1M347 208.5h1M348 209.5h1M349 210.5h2M351 211.5h1M352 212.5h2M354 213.5h2M356 214.5h1M357 215.5h2M359 216.5h1M360 217.5h2M362 218.5h2M364 219.5h1M365 220.5h1M366 221.5h1M367 222.5h1M368 223.5h1M369 224.5h2M371 225.5h1M372 226.5h2M374 227.5h2M376 228.5h1M377 229.5h1M378 230.5h1M379 231.5h1M380 232.5h1M381 233.5h2M383 234.5h1M384 235.5h2M386 236.5h3M389 237.5h11M400 238.5h2M402 239.5h2M404 240.5h2M406 241.5h3M409 242.5h3M412 243.5h1M413 244.5h2M415 245.5h1M416 246.5h1M417 247.5h2M419 248.5h1M420 249.5h1M421 250.5h1M422 251.5h1M423 252.5h1M424 253.5h1M425 254.5h1M426 255.5h1M427 256.5h1M428 257.5h1M429 258.5h1M430 259.5h1M431 260.5h1M432 261.5h1M433 262.5h1M434 263.5h1M435 264.5h1M436 265.5h1M437 266.5h1M438 267.5h1M439 268.5h1M440 269.5h1M441 270.5h1M441 271.5h1M442 272.5h1M443 273.5h1M444 274.5h1M445 275.5h1M445 276.5h1M446 277.5h1M447 278.5h1M448 279.5h1M449 280.5h1M449 281.5h1M450 282.5h1M451 283.5h1M452 284.5h1M453 285.5h1M453 286.5h1M454 287.5h1M455 288.5h1M456 289.5h1M457 290.5h1M457 291.5h1M458 292.5h1M459 293.5h1M460 294.5h1M461 295.5h1M462 296.5h1M463 297.5h1M464 298.5h1M464 299.5h1M465 300.5h1M466 301.5h1M466 302.5h1M467 303.5h1M468 304.5h1M469 305.5h1M469 306.5h1M470 307.5h1M471 308.5h1M472 309.5h1M473 310.5h1M473 311.5h1M474 312.5h1M475 313.5h1M476 314.5h1M477 315.5h1M478 316.5h1M479 317.5h1M480 318.5h1M481 319.5h1M482 320.5h1M483 321.5h1M484 322.5h1M485 323.5h2M487 324.5h1M488 325.5h1M489 326.5h1M490 327.5h1M491 328.5h1M492 329.5h1M493 330.5h1M493 331.5h1M494 332.5h1M495 333.5h1M496 334.5h1M497 335.5h1M498 336.5h1M499 337.5h1M500 338.5h1M501 339.5h1M501 340.5h1M502 341.5h1M503 342.5h1M504 343.5h1M505 344.5h1M505 345.5h1M1255 345.5h1M506 346.5h1M1254 346.5h1M507 347.5h1M1253 347.5h1M508 348.5h1M1253 348.5h1M509 349.5h1M1252 349.5h1M509 350.5h1M1251 350.5h1M510 351.5h1M1250 351.5h1M511 352.5h1M1250 352.5h1M512 353.5h1M1249 353.5h1M513 354.5h1M1248 354.5h1M514 355.5h1M1248 355.5h1M515 356.5h1M1247 356.5h1M516 357.5h1M1246 357.5h1M517 358.5h1M1246 358.5h1M517 359.5h1M1245 359.5h1M518 360.5h1M1244 360.5h1M519 361.5h1M1244 361.5h1M520 362.5h1M1243 362.5h1M521 363.5h1M1242 363.5h1M522 364.5h1M1241 364.5h1M523 365.5h1M687 365.5h2M718 365.5h15M1240 365.5h1M524 366.5h1M685 366.5h2M689 366.5h8M714 366.5h4M733 366.5h8M1239 366.5h1M525 367.5h1M679 367.5h6M697 367.5h4M710 367.5h4M741 367.5h4M1238 367.5h1M526 368.5h1M677 368.5h2M701 368.5h9M745 368.5h3M1238 368.5h1M527 369.5h1M675 369.5h2M748 369.5h2M1237 369.5h1M528 370.5h1M673 370.5h2M750 370.5h2M1236 370.5h1M529 371.5h1M671 371.5h2M752 371.5h2M1236 371.5h1M530 372.5h1M669 372.5h2M754 372.5h2M1235 372.5h1M531 373.5h1M667 373.5h2M756 373.5h2M1234 373.5h1M532 374.5h1M665 374.5h2M758 374.5h3M1233 374.5h1M533 375.5h1M663 375.5h2M761 375.5h3M1233 375.5h1M534 376.5h1M661 376.5h2M764 376.5h2M1232 376.5h1M535 377.5h1M658 377.5h3M766 377.5h3M1231 377.5h1M536 378.5h1M655 378.5h3M769 378.5h4M1230 378.5h1M537 379.5h2M653 379.5h2M773 379.5h4M1230 379.5h1M539 380.5h1M651 380.5h2M777 380.5h3M1229 380.5h1M540 381.5h2M649 381.5h2M780 381.5h2M1228 381.5h1M542 382.5h2M647 382.5h2M782 382.5h2M1228 382.5h1M544 383.5h1M646 383.5h1M784 383.5h1M1227 383.5h1M545 384.5h2M644 384.5h2M785 384.5h2M1226 384.5h1M547 385.5h1M643 385.5h1M787 385.5h1M1225 385.5h1M548 386.5h2M641 386.5h2M788 386.5h1M1225 386.5h1M550 387.5h2M639 387.5h2M789 387.5h2M1224 387.5h1M552 388.5h1M637 388.5h2M791 388.5h2M814 388.5h11M850 388.5h7M1223 388.5h1M553 389.5h2M635 389.5h2M793 389.5h21M825 389.5h8M846 389.5h4M857 389.5h12M1222 389.5h1M555 390.5h2M633 390.5h2M833 390.5h13M869 390.5h3M1221 390.5h1M557 391.5h4M586 391.5h7M631 391.5h2M872 391.5h2M1221 391.5h1M561 392.5h25M593 392.5h7M630 392.5h1M874 392.5h2M1220 392.5h1M600 393.5h2M628 393.5h2M876 393.5h1M1219 393.5h1M602 394.5h3M626 394.5h2M877 394.5h2M1218 394.5h1M605 395.5h21M879 395.5h1M1217 395.5h1M880 396.5h1M1216 396.5h1M881 397.5h1M1215 397.5h1M882 398.5h1M1214 398.5h1M883 399.5h1M1213 399.5h1M884 400.5h1M1213 400.5h1M885 401.5h1M1212 401.5h1M886 402.5h1M1211 402.5h1M887 403.5h1M1210 403.5h1M888 404.5h1M1209 404.5h1M889 405.5h1M1208 405.5h1M890 406.5h1M1207 406.5h1M891 407.5h1M1206 407.5h1M892 408.5h1M1204 408.5h2M893 409.5h1M1203 409.5h1M894 410.5h1M1202 410.5h1M895 411.5h1M1201 411.5h1M896 412.5h1M1200 412.5h1M897 413.5h2M1199 413.5h1M899 414.5h1M1198 414.5h1M900 415.5h1M1197 415.5h1M901 416.5h2M1197 416.5h1M903 417.5h2M1196 417.5h1M905 418.5h4M1195 418.5h1M909 419.5h3M1194 419.5h1M912 420.5h1M1194 420.5h1M913 421.5h1M1193 421.5h1M914 422.5h1M1192 422.5h1M915 423.5h1M1192 423.5h1M916 424.5h1M1191 424.5h1M917 425.5h1M1190 425.5h1M918 426.5h1M1189 426.5h1M919 427.5h1M1189 427.5h1M920 428.5h1M1188 428.5h1M921 429.5h1M1187 429.5h1M922 430.5h1M1186 430.5h1M923 431.5h1M1186 431.5h1M924 432.5h1M1185 432.5h1M925 433.5h1M1184 433.5h1M925 434.5h1M1184 434.5h1M926 435.5h1M1183 435.5h1M927 436.5h1M1182 436.5h1M928 437.5h1M1182 437.5h1M929 438.5h1M1181 438.5h1M930 439.5h1M1180 439.5h1M931 440.5h1M1180 440.5h1M932 441.5h1M1179 441.5h1M933 442.5h1M1178 442.5h1M934 443.5h1M1177 443.5h1M935 444.5h1M1176 444.5h1M936 445.5h1M1175 445.5h1M937 446.5h1M1174 446.5h1M938 447.5h1M1173 447.5h1M939 448.5h1M1172 448.5h1M940 449.5h1M1171 449.5h1M941 450.5h2M1170 450.5h1M943 451.5h1M1168 451.5h2M944 452.5h1M1167 452.5h1M945 453.5h2M1166 453.5h1M947 454.5h1M1165 454.5h1M948 455.5h1M1164 455.5h1M949 456.5h2M1163 456.5h1M951 457.5h1M1161 457.5h2M952 458.5h2M1159 458.5h2M954 459.5h2M1158 459.5h1M956 460.5h1M1156 460.5h2M957 461.5h1M1155 461.5h1M958 462.5h1M1154 462.5h1M959 463.5h1M1152 463.5h2M960 464.5h1M1150 464.5h2M961 465.5h1M1146 465.5h4M962 466.5h1M1142 466.5h4M963 467.5h1M1138 467.5h4M964 468.5h1M1134 468.5h4M965 469.5h1M1131 469.5h3M966 470.5h1M1129 470.5h2M967 471.5h1M1115 471.5h14M968 472.5h1M1113 472.5h2M969 473.5h1M1107 473.5h6M970 474.5h1M1105 474.5h2M971 475.5h1M1103 475.5h2M972 476.5h1M1101 476.5h2M973 477.5h2M1099 477.5h2M975 478.5h1M1097 478.5h2M976 479.5h1M1095 479.5h2M977 480.5h2M1094 480.5h1M979 481.5h1M1092 481.5h2M980 482.5h1M1091 482.5h1M981 483.5h1M1089 483.5h2M982 484.5h1M1087 484.5h2M983 485.5h1M1086 485.5h1M984 486.5h1M1084 486.5h2M985 487.5h1M1083 487.5h1M986 488.5h1M1081 488.5h2M987 489.5h1M1079 489.5h2M988 490.5h2M1077 490.5h2M990 491.5h2M1054 491.5h23M992 492.5h2M1046 492.5h8M994 493.5h52" stroke="#0000dc" stroke-width="1" fill="none" shape-rendering="crispEdges"/>
<path d="M40 122.5h3M38 123.5h2M43 123.5h4M36 124.5h2M47 124.5h3M35 125.5h1M50 125.5h1M35 126.5h1M50 126.5h1M34 127.5h1M51 127.5h1M199 127.5h6M33 128.5h1M52 128.5h1M159 128.5h2M198 128.5h1M205 128.5h4M32 129.5h1M52 129.5h1M135 129.5h1M157 129.5h2M161 129.5h8M197 129.5h1M209 129.5h12M32 130.5h1M53 130.5h1M133 130.5h2M136 130.5h2M155 130.5h2M169 130.5h3M196 130.5h1M221 130.5h4M31 131.5h1M54 131.5h1M131 131.5h2M138 131.5h2M153 131.5h2M172 131.5h2M195 131.5h1M225 131.5h4M29 132.5h2M54 132.5h1M130 132.5h1M140 132.5h1M151 132.5h2M174 132.5h2M194 132.5h1M229 132.5h3M26 133.5h3M55 133.5h1M128 133.5h2M141 133.5h2M149 133.5h2M176 133.5h2M192 133.5h2M232 133.5h1M24 134.5h2M56 134.5h1M127 134.5h1M143 134.5h6M178 134.5h7M190 134.5h2M233 134.5h2M21 135.5h3M57 135.5h2M87 135.5h5M125 135.5h2M185 135.5h5M235 135.5h1M19 136.5h2M59 136.5h1M85 136.5h2M92 136.5h2M123 136.5h2M236 136.5h1M18 137.5h1M60 137.5h1M83 137.5h2M94 137.5h2M122 137.5h1M237 137.5h2M18 138.5h1M61 138.5h1M81 138.5h2M96 138.5h1M121 138.5h1M239 138.5h1M17 139.5h1M61 139.5h1M79 139.5h2M97 139.5h1M120 139.5h1M240 139.5h1M16 140.5h1M62 140.5h1M77 140.5h2M98 140.5h1M119 140.5h1M241 140.5h1M15 141.5h1M63 141.5h1M75 141.5h2M99 141.5h1M117 141.5h2M242 141.5h1M15 142.5h1M64 142.5h1M74 142.5h1M100 142.5h2M115 142.5h2M243 142.5h1M14 143.5h1M65 143.5h1M73 143.5h1M102 143.5h3M113 143.5h2M244 143.5h1M13 144.5h1M66 144.5h1M72 144.5h1M105 144.5h8M245 144.5h2M13 145.5h1M67 145.5h5M247 145.5h1M12 146.5h1M248 146.5h1M12 147.5h1M249 147.5h2M12 148.5h1M251 148.5h1M11 149.5h1M252 149.5h1M11 150.5h1M253 150.5h1M11 151.5h1M253 151.5h1M10 152.5h1M254 152.5h1M10 153.5h1M255 153.5h5M9 154.5h1M260 154.5h1M9 155.5h1M261 155.5h2M9 156.5h1M263 156.5h1M8 157.5h1M264 157.5h1M8 158.5h1M265 158.5h1M8 159.5h1M266 159.5h1M7 160.5h1M267 160.5h1M7 161.5h1M268 161.5h1M7 162.5h1M268 162.5h1M7 163.5h1M269 163.5h1M6 164.5h1M269 164.5h1M6 165.5h1M270 165.5h1M6 166.5h1M270 166.5h1M6 167.5h1M271 167.5h1M5 168.5h1M271 168.5h1M5 169.5h1M272 169.5h1M5 170.5h1M272 170.5h1M4 171.5h1M273 171.5h1M4 172.5h1M273 172.5h1M4 173.5h1M274 173.5h1M4 174.5h1M274 174.5h1M3 175.5h1M275 175.5h1M3 176.5h1M275 176.5h1M3 177.5h1M275 177.5h1M3 178.5h1M276 178.5h1M2 179.5h1M276 179.5h1M2 180.5h1M277 180.5h1M277 181.5h1M278 182.5h1M278 183.5h1M279 184.5h1M279 185.5h1M280 186.5h1M281 187.5h1M281 188.5h1M282 189.5h1M283 190.5h1M284 191.5h1M285 192.5h2M287 193.5h1M288 194.5h1M289 195.5h1M290 196.5h1M291 197.5h1M292 198.5h1M293 199.5h1M294 200.5h1M295 201.5h1M296 202.5h1M297 203.5h2M299 204.5h1M300 205.5h1M301 206.5h2M303 207.5h1M304 208.5h1M305 209.5h2M307 210.5h1M308 211.5h2M310 212.5h2M312 213.5h1M313 214.5h1M314 215.5h1M315 216.5h1M316 217.5h1M316 218.5h1M317 219.5h1M318 220.5h1M318 221.5h1M335 221.5h2M319 222.5h1M334 222.5h1M337 222.5h3M320 223.5h1M332 223.5h2M340 223.5h2M321 224.5h2M330 224.5h2M342 224.5h2M323 225.5h7M344 225.5h2M346 226.5h3M349 227.5h3M352 228.5h2M354 229.5h3M357 230.5h3M360 231.5h1M361 232.5h1M362 233.5h1M363 234.5h1M364 235.5h1M365 236.5h2M367 237.5h1M368 238.5h1M369 239.5h2M371 240.5h2M373 241.5h3M376 242.5h1M377 243.5h2M379 244.5h1M380 245.5h2M382 246.5h2M384 247.5h2M386 248.5h2M388 249.5h1M389 250.5h2M391 251.5h1M392 252.5h2M394 253.5h3M397 254.5h3M400 255.5h2M402 256.5h2M404 257.5h2M406 258.5h2M408 259.5h2M410 260.5h2M412 261.5h1M413 262.5h2M415 263.5h1M416 264.5h1M417 265.5h1M418 266.5h1M419 267.5h1M420 268.5h1M421 269.5h1M421 270.5h1M422 271.5h1M423 272.5h1M424 273.5h1M425 274.5h1M425 275.5h1M426 276.5h1M427 277.5h1M428 278.5h1M429 279.5h1M429 280.5h1M430 281.5h1M431 282.5h1M432 283.5h1M432 284.5h1M433 285.5h1M434 286.5h1M434 287.5h1M435 288.5h1M436 289.5h1M436 290.5h1M437 291.5h1M437 292.5h1M438 293.5h1M438 294.5h1M439 295.5h1M439 296.5h1M440 297.5h1M440 298.5h1M441 299.5h1M441 300.5h1M442 301.5h1M442 302.5h1M443 303.5h1M443 304.5h1M444 305.5h1M444 306.5h1M445 307.5h1M445 308.5h1M1238 308.5h2M1255 308.5h1M446 309.5h1M1235 309.5h3M1240 309.5h2M1253 309.5h2M446 310.5h1M1234 310.5h1M1242 310.5h11M447 311.5h1M1233 311.5h1M447 312.5h1M1232 312.5h1M447 313.5h1M1231 313.5h1M448 314.5h1M1230 314.5h1M448 315.5h1M1229 315.5h1M448 316.5h1M1228 316.5h1M449 317.5h1M1227 317.5h1M449 318.5h1M1226 318.5h1M450 319.5h1M1225 319.5h1M450 320.5h1M1224 320.5h1M450 321.5h1M1223 321.5h1M451 322.5h1M1222 322.5h1M451 323.5h1M1222 323.5h1M451 324.5h1M1221 324.5h1M452 325.5h1M1220 325.5h1M452 326.5h1M1220 326.5h1M453 327.5h1M1219 327.5h1M453 328.5h1M1218 328.5h1M454 329.5h1M1218 329.5h1M454 330.5h1M1217 330.5h1M455 331.5h1M1217 331.5h1M455 332.5h1M1216 332.5h1M456 333.5h1M1216 333.5h1M456 334.5h1M1215 334.5h1M457 335.5h1M1215 335.5h1M458 336.5h1M1214 336.5h1M458 337.5h1M1214 337.5h1M459 338.5h1M1213 338.5h1M460 339.5h1M1213 339.5h1M460 340.5h1M1212 340.5h1M461 341.5h1M1212 341.5h1M461 342.5h1M1211 342.5h1M462 343.5h1M679 343.5h6M1210 343.5h1M462 344.5h1M677 344.5h2M685 344.5h3M1210 344.5h1M463 345.5h1M675 345.5h2M688 345.5h1M1209 345.5h1M463 346.5h1M673 346.5h2M689 346.5h1M1208 346.5h1M464 347.5h1M671 347.5h2M690 347.5h1M1208 347.5h1M464 348.5h1M670 348.5h1M691 348.5h1M1207 348.5h1M465 349.5h1M668 349.5h2M692 349.5h1M1207 349.5h1M465 350.5h1M667 350.5h1M693 350.5h1M1206 350.5h1M465 351.5h1M666 351.5h1M693 351.5h1M1206 351.5h1M466 352.5h1M665 352.5h1M694 352.5h1M1205 352.5h1M466 353.5h1M664 353.5h1M695 353.5h1M1205 353.5h1M467 354.5h1M663 354.5h1M696 354.5h1M1204 354.5h1M467 355.5h1M662 355.5h1M696 355.5h1M1204 355.5h1M468 356.5h1M660 356.5h2M697 356.5h1M1203 356.5h1M468 357.5h1M659 357.5h1M698 357.5h1M1203 357.5h1M469 358.5h1M658 358.5h1M698 358.5h1M1202 358.5h1M469 359.5h1M656 359.5h2M699 359.5h1M1202 359.5h1M470 360.5h1M655 360.5h1M700 360.5h1M1201 360.5h1M470 361.5h1M654 361.5h1M701 361.5h1M1201 361.5h1M471 362.5h1M653 362.5h1M702 362.5h1M1201 362.5h1M472 363.5h1M652 363.5h1M703 363.5h1M1200 363.5h1M473 364.5h1M651 364.5h1M704 364.5h1M1200 364.5h1M473 365.5h1M650 365.5h1M705 365.5h1M1199 365.5h1M474 366.5h1M649 366.5h1M706 366.5h1M1199 366.5h1M475 367.5h1M649 367.5h1M707 367.5h1M1199 367.5h1M476 368.5h1M648 368.5h1M708 368.5h2M1198 368.5h1M477 369.5h1M647 369.5h1M710 369.5h3M1198 369.5h1M478 370.5h1M646 370.5h1M713 370.5h4M1198 370.5h1M479 371.5h1M646 371.5h1M717 371.5h3M1197 371.5h1M480 372.5h2M645 372.5h1M720 372.5h1M1197 372.5h1M482 373.5h3M644 373.5h1M721 373.5h2M1196 373.5h1M485 374.5h3M644 374.5h1M723 374.5h1M1196 374.5h1M488 375.5h1M643 375.5h1M724 375.5h1M1196 375.5h1M489 376.5h2M642 376.5h1M725 376.5h1M1195 376.5h1M491 377.5h1M641 377.5h1M726 377.5h1M1195 377.5h1M492 378.5h1M641 378.5h1M727 378.5h1M1195 378.5h1M493 379.5h2M640 379.5h1M728 379.5h1M1194 379.5h1M495 380.5h2M639 380.5h1M729 380.5h1M1194 380.5h1M497 381.5h4M638 381.5h1M730 381.5h1M847 381.5h5M1194 381.5h1M501 382.5h4M636 382.5h2M731 382.5h1M846 382.5h1M852 382.5h2M1193 382.5h1M505 383.5h3M635 383.5h1M732 383.5h2M810 383.5h3M845 383.5h1M854 383.5h2M1193 383.5h1M508 384.5h1M633 384.5h2M734 384.5h2M807 384.5h3M813 384.5h3M844 384.5h1M856 384.5h1M1193 384.5h1M509 385.5h1M631 385.5h2M736 385.5h1M806 385.5h1M816 385.5h2M843 385.5h1M857 385.5h1M1192 385.5h1M510 386.5h1M630 386.5h1M737 386.5h1M804 386.5h2M818 386.5h3M842 386.5h1M857 386.5h1M1192 386.5h1M511 387.5h1M628 387.5h2M738 387.5h1M803 387.5h1M821 387.5h3M841 387.5h1M858 387.5h1M1192 387.5h1M512 388.5h2M526 388.5h2M611 388.5h17M739 388.5h1M802 388.5h1M824 388.5h1M840 388.5h1M859 388.5h1M1191 388.5h1M514 389.5h2M523 389.5h3M528 389.5h2M610 389.5h1M740 389.5h1M800 389.5h2M825 389.5h1M839 389.5h1M860 389.5h2M1191 389.5h1M516 390.5h2M521 390.5h2M530 390.5h3M608 390.5h2M741 390.5h1M770 390.5h3M778 390.5h6M799 390.5h1M826 390.5h1M837 390.5h2M862 390.5h2M1191 390.5h1M518 391.5h3M533 391.5h3M606 391.5h2M742 391.5h1M766 391.5h4M773 391.5h5M784 391.5h2M797 391.5h2M827 391.5h10M864 391.5h1M1190 391.5h1M536 392.5h2M602 392.5h4M743 392.5h2M762 392.5h4M786 392.5h2M795 392.5h2M865 392.5h2M1190 392.5h1M538 393.5h2M586 393.5h3M594 393.5h8M745 393.5h4M758 393.5h4M788 393.5h2M793 393.5h2M867 393.5h1M1189 393.5h1M540 394.5h1M583 394.5h3M589 394.5h5M749 394.5h9M790 394.5h3M868 394.5h1M1189 394.5h1M541 395.5h2M581 395.5h2M869 395.5h1M1189 395.5h1M543 396.5h1M578 396.5h3M870 396.5h1M1188 396.5h1M544 397.5h2M574 397.5h4M871 397.5h1M1188 397.5h1M546 398.5h2M570 398.5h4M872 398.5h1M1187 398.5h1M548 399.5h2M567 399.5h3M873 399.5h1M1187 399.5h1M550 400.5h2M565 400.5h2M873 400.5h1M1187 400.5h1M552 401.5h2M563 401.5h2M874 401.5h1M1186 401.5h1M554 402.5h3M561 402.5h2M875 402.5h1M1186 402.5h1M557 403.5h4M876 403.5h1M1186 403.5h1M876 404.5h1M1185 404.5h1M877 405.5h1M1185 405.5h1M878 406.5h1M1184 406.5h1M878 407.5h1M1184 407.5h1M879 408.5h1M1184 408.5h1M880 409.5h1M1183 409.5h1M880 410.5h1M1183 410.5h1M881 411.5h1M1183 411.5h1M882 412.5h1M1182 412.5h1M882 413.5h1M1182 413.5h1M883 414.5h1M1181 414.5h1M884 415.5h1M1181 415.5h1M884 416.5h1M1181 416.5h1M885 417.5h1M1180 417.5h1M885 418.5h1M1180 418.5h1M886 419.5h1M1179 419.5h1M886 420.5h1M1179 420.5h1M887 421.5h1M1179 421.5h1M888 422.5h1M1178 422.5h1M888 423.5h1M1178 423.5h1M889 424.5h1M1177 424.5h1M890 425.5h1M1177 425.5h1M890 426.5h1M1176 426.5h1M891 427.5h1M1176 427.5h1M892 428.5h1M1175 428.5h1M892 429.5h1M1174 429.5h1M893 430.5h1M1174 430.5h1M893 431.5h1M1173 431.5h1M894 432.5h1M1173 432.5h1M894 433.5h1M1172 433.5h1M895 434.5h1M1172 434.5h1M896 435.5h1M1171 435.5h1M896 436.5h1M1170 436.5h1M897 437.5h1M1170 437.5h1M897 438.5h1M1169 438.5h1M898 439.5h1M1169 439.5h1M898 440.5h1M1168 440.5h1M899 441.5h1M1168 441.5h1M899 442.5h1M1167 442.5h1M900 443.5h1M1166 443.5h1M900 444.5h1M1166 444.5h1M901 445.5h1M1165 445.5h1M901 446.5h1M1164 446.5h1M902 447.5h1M1164 447.5h1M902 448.5h1M1163 448.5h1M903 449.5h1M1162 449.5h1M904 450.5h1M1161 450.5h1M904 451.5h1M1161 451.5h1M905 452.5h1M1160 452.5h1M906 453.5h1M1159 453.5h1M906 454.5h1M1130 454.5h3M1158 454.5h1M907 455.5h1M1119 455.5h11M1133 455.5h4M1156 455.5h2M908 456.5h1M1117 456.5h2M1137 456.5h3M1155 456.5h1M908 457.5h1M1110 457.5h7M1140 457.5h2M1154 457.5h1M909 458.5h1M1106 458.5h4M1142 458.5h3M1152 458.5h2M910 459.5h1M1103 459.5h3M1145 459.5h7M910 460.5h1M1101 460.5h2M911 461.5h1M1099 461.5h2M912 462.5h1M1098 462.5h1M913 463.5h1M1097 463.5h1M913 464.5h1M1096 464.5h1M914 465.5h1M1095 465.5h1M915 466.5h1M1094 466.5h1M916 467.5h1M1093 467.5h1M917 468.5h1M1092 468.5h1M917 469.5h1M1091 469.5h1M918 470.5h1M1090 470.5h1M919 471.5h1M1088 471.5h2M920 472.5h1M1087 472.5h1M920 473.5h1M1086 473.5h1M921 474.5h1M1085 474.5h1M921 475.5h1M1085 475.5h1M922 476.5h1M1084 476.5h1M922 477.5h1M1083 477.5h1M923 478.5h1M1082 478.5h1M924 479.5h1M1080 479.5h2M925 480.5h1M1079 480.5h1M925 481.5h1M1077 481.5h2M926 482.5h1M1075 482.5h2M927 483.5h1M1073 483.5h2M928 484.5h1M1051 484.5h6M1066 484.5h7M929 485.5h2M1049 485.5h2M1057 485.5h9M931 486.5h1M1043 486.5h6M932 487.5h2M1041 487.5h2M934 488.5h3M954 488.5h7M1039 488.5h2M937 489.5h4M946 489.5h8M961 489.5h3M1037 489.5h2M941 490.5h5M964 490.5h2M1035 490.5h2M966 491.5h2M1034 491.5h1M968 492.5h2M1032 492.5h2M970 493.5h6M1030 493.5h2M976 494.5h2M1027 494.5h3M978 495.5h3M1025 495.5h2M981 496.5h3M1023 496.5h2M984 497.5h2M990 497.5h2M1022 497.5h1M986 498.5h4M992 498.5h2M1020 498.5h2M994 499.5h15M1018 499.5h2M1009 500.5h9" stroke="#ff0000" stroke-width="1" fill="none" shape-rendering="crispEdges"/>
<path d="M7 69.5h1M6 70.5h2M6 71.5h1M8 71.5h1M5 72.5h1M8 72.5h1M5 73.5h1M9 73.5h1M4 74.5h1M9 74.5h1M3 75.5h1M10 75.5h1M3 76.5h1M10 76.5h1M2 77.5h1M11 77.5h1M11 78.5h1M11 79.5h1M12 80.5h1M12 81.5h1M12 82.5h1M13 83.5h1M13 84.5h1M13 85.5h1M13 86.5h1M14 87.5h1M14 88.5h1M14 89.5h1M14 90.5h1M14 91.5h1M15 92.5h1M15 93.5h1M15 94.5h1M15 95.5h1M15 96.5h1M15 97.5h1M15 98.5h1M16 99.5h1M16 100.5h1M16 101.5h1M16 102.5h1M16 103.5h1M16 104.5h1M16 105.5h1M17 106.5h1M17 107.5h1M17 108.5h1M17 109.5h1M17 110.5h1M17 111.5h1M131 111.5h1M17 112.5h1M55 112.5h2M129 112.5h2M132 112.5h1M18 113.5h1M53 113.5h2M57 113.5h3M127 113.5h2M132 113.5h1M18 114.5h1M51 114.5h2M59 114.5h1M125 114.5h2M133 114.5h1M18 115.5h1M51 115.5h1M60 115.5h1M123 115.5h2M133 115.5h1M18 116.5h1M50 116.5h1M60 116.5h1M122 116.5h1M134 116.5h1M18 117.5h1M50 117.5h1M61 117.5h1M122 117.5h1M134 117.5h1M18 118.5h1M50 118.5h1M61 118.5h1M121 118.5h1M135 118.5h1M18 119.5h1M49 119.5h1M61 119.5h1M120 119.5h1M135 119.5h1M19 120.5h1M49 120.5h1M62 120.5h1M120 120.5h1M136 120.5h1M19 121.5h1M49 121.5h1M62 121.5h1M119 121.5h1M136 121.5h1M19 122.5h1M49 122.5h1M63 122.5h1M118 122.5h1M136 122.5h1M167 122.5h5M19 123.5h1M48 123.5h1M63 123.5h1M118 123.5h1M137 123.5h1M166 123.5h1M172 123.5h1M19 124.5h1M48 124.5h1M63 124.5h1M117 124.5h1M137 124.5h1M165 124.5h1M172 124.5h1M199 124.5h1M19 125.5h1M48 125.5h1M64 125.5h1M117 125.5h1M137 125.5h1M165 125.5h1M173 125.5h1M197 125.5h2M200 125.5h1M19 126.5h1M47 126.5h1M64 126.5h1M116 126.5h1M137 126.5h1M164 126.5h1M174 126.5h1M195 126.5h2M200 126.5h1M20 127.5h1M47 127.5h1M65 127.5h1M116 127.5h1M138 127.5h1M163 127.5h1M174 127.5h1M187 127.5h2M193 127.5h2M201 127.5h1M20 128.5h1M47 128.5h1M65 128.5h1M115 128.5h1M138 128.5h1M162 128.5h1M175 128.5h1M185 128.5h2M189 128.5h4M201 128.5h1M20 129.5h1M46 129.5h1M65 129.5h1M114 129.5h1M138 129.5h1M162 129.5h1M176 129.5h1M183 129.5h2M202 129.5h1M20 130.5h1M46 130.5h1M66 130.5h1M114 130.5h1M139 130.5h1M161 130.5h1M177 130.5h2M181 130.5h2M202 130.5h1M20 131.5h1M46 131.5h1M66 131.5h1M113 131.5h1M139 131.5h1M161 131.5h1M179 131.5h2M203 131.5h1M215 131.5h2M222 131.5h6M20 132.5h1M45 132.5h1M67 132.5h1M113 132.5h1M139 132.5h1M160 132.5h1M203 132.5h1M213 132.5h2M217 132.5h5M228 132.5h1M21 133.5h1M45 133.5h1M67 133.5h1M112 133.5h1M140 133.5h1M160 133.5h1M204 133.5h2M210 133.5h3M228 133.5h1M21 134.5h1M45 134.5h1M67 134.5h1M112 134.5h1M140 134.5h1M159 134.5h1M206 134.5h4M229 134.5h1M21 135.5h1M45 135.5h1M68 135.5h1M111 135.5h1M140 135.5h1M159 135.5h1M229 135.5h1M21 136.5h1M44 136.5h1M68 136.5h1M110 136.5h1M141 136.5h1M158 136.5h1M230 136.5h1M21 137.5h1M44 137.5h1M69 137.5h1M110 137.5h1M141 137.5h1M158 137.5h1M230 137.5h1M21 138.5h1M44 138.5h1M69 138.5h1M109 138.5h1M141 138.5h1M158 138.5h1M231 138.5h1M22 139.5h1M43 139.5h1M69 139.5h1M108 139.5h1M142 139.5h1M157 139.5h1M231 139.5h1M22 140.5h1M43 140.5h1M70 140.5h1M108 140.5h1M142 140.5h1M157 140.5h1M232 140.5h1M22 141.5h1M43 141.5h1M70 141.5h1M106 141.5h2M142 141.5h1M157 141.5h1M232 141.5h1M22 142.5h1M43 142.5h1M71 142.5h1M103 142.5h3M143 142.5h1M157 142.5h1M233 142.5h1M22 143.5h1M42 143.5h1M71 143.5h1M102 143.5h1M143 143.5h1M156 143.5h1M233 143.5h1M22 144.5h1M42 144.5h1M72 144.5h1M100 144.5h2M144 144.5h1M156 144.5h1M234 144.5h1M23 145.5h1M42 145.5h1M73 145.5h2M99 145.5h1M144 145.5h1M156 145.5h1M234 145.5h1M23 146.5h1M42 146.5h1M75 146.5h1M98 146.5h1M145 146.5h1M155 146.5h1M235 146.5h1M23 147.5h1M42 147.5h1M75 147.5h1M97 147.5h1M145 147.5h1M155 147.5h1M235 147.5h1M23 148.5h1M41 148.5h1M76 148.5h1M97 148.5h1M146 148.5h1M154 148.5h1M236 148.5h1M23 149.5h1M41 149.5h1M76 149.5h1M96 149.5h1M146 149.5h1M154 149.5h1M236 149.5h1M23 150.5h1M41 150.5h1M77 150.5h1M87 150.5h9M147 150.5h1M153 150.5h1M237 150.5h1M24 151.5h1M41 151.5h1M77 151.5h1M86 151.5h1M147 151.5h1M153 151.5h1M237 151.5h1M24 152.5h1M41 152.5h1M78 152.5h1M85 152.5h1M148 152.5h1M152 152.5h1M238 152.5h1M24 153.5h1M41 153.5h1M78 153.5h1M85 153.5h1M149 153.5h2M152 153.5h1M238 153.5h1M24 154.5h1M40 154.5h1M79 154.5h1M84 154.5h1M151 154.5h1M239 154.5h1M25 155.5h1M40 155.5h1M79 155.5h5M239 155.5h1M25 156.5h1M40 156.5h1M240 156.5h1M25 157.5h1M40 157.5h1M241 157.5h1M25 158.5h1M40 158.5h1M242 158.5h1M25 159.5h1M39 159.5h1M243 159.5h1M26 160.5h1M39 160.5h1M244 160.5h1M26 161.5h1M39 161.5h1M244 161.5h1M26 162.5h1M39 162.5h1M245 162.5h1M26 163.5h1M38 163.5h1M245 163.5h1M27 164.5h1M38 164.5h1M246 164.5h1M27 165.5h1M38 165.5h1M246 165.5h1M27 166.5h1M38 166.5h1M247 166.5h1M27 167.5h1M37 167.5h1M248 167.5h1M28 168.5h1M37 168.5h1M249 168.5h2M28 169.5h1M37 169.5h1M251 169.5h1M28 170.5h1M37 170.5h1M252 170.5h1M29 171.5h1M36 171.5h1M253 171.5h1M29 172.5h1M36 172.5h1M254 172.5h1M262 172.5h2M29 173.5h1M36 173.5h1M255 173.5h7M264 173.5h1M30 174.5h1M36 174.5h1M265 174.5h1M30 175.5h1M35 175.5h1M265 175.5h1M30 176.5h1M35 176.5h1M266 176.5h1M31 177.5h1M33 177.5h2M267 177.5h1M31 178.5h2M267 178.5h1M268 179.5h1M268 180.5h1M269 181.5h1M269 182.5h1M269 183.5h1M270 184.5h1M270 185.5h1M271 186.5h1M271 187.5h1M271 188.5h1M272 189.5h1M272 190.5h1M273 191.5h1M273 192.5h1M273 193.5h1M274 194.5h1M274 195.5h1M275 196.5h1M275 197.5h1M275 198.5h1M275 199.5h1M276 200.5h1M276 201.5h1M276 202.5h1M276 203.5h1M276 204.5h1M277 205.5h1M277 206.5h1M277 207.5h1M277 208.5h1M277 209.5h1M277 210.5h1M278 211.5h1M278 212.5h1M278 213.5h1M299 213.5h2M278 214.5h1M299 214.5h1M301 214.5h3M311 214.5h1M278 215.5h1M298 215.5h1M304 215.5h2M309 215.5h2M312 215.5h2M279 216.5h1M298 216.5h1M306 216.5h3M314 216.5h2M279 217.5h1M298 217.5h1M316 217.5h1M279 218.5h1M297 218.5h1M316 218.5h1M279 219.5h1M297 219.5h1M317 219.5h1M280 220.5h1M297 220.5h1M317 220.5h1M280 221.5h1M296 221.5h1M318 221.5h1M281 222.5h1M296 222.5h1M318 222.5h1M281 223.5h1M296 223.5h1M319 223.5h1M281 224.5h1M295 224.5h1M320 224.5h1M282 225.5h1M295 225.5h1M321 225.5h2M282 226.5h1M294 226.5h1M323 226.5h1M283 227.5h1M293 227.5h1M324 227.5h1M339 227.5h5M283 228.5h1M292 228.5h1M325 228.5h2M338 228.5h1M344 228.5h1M284 229.5h2M290 229.5h2M327 229.5h1M337 229.5h1M345 229.5h2M286 230.5h4M328 230.5h1M337 230.5h1M347 230.5h1M329 231.5h2M336 231.5h1M348 231.5h2M331 232.5h5M350 232.5h2M352 233.5h2M354 234.5h2M356 235.5h1M357 236.5h1M357 237.5h1M358 238.5h1M359 239.5h1M360 240.5h1M361 241.5h1M361 242.5h1M362 243.5h1M363 244.5h1M364 245.5h1M365 246.5h2M367 247.5h1M368 248.5h1M368 249.5h1M369 250.5h1M369 251.5h1M370 252.5h1M370 253.5h1M371 254.5h1M372 255.5h1M373 256.5h1M399 256.5h1M374 257.5h1M398 257.5h1M400 257.5h2M375 258.5h1M396 258.5h2M402 258.5h2M376 259.5h1M395 259.5h1M404 259.5h2M377 260.5h1M394 260.5h1M406 260.5h6M377 261.5h1M392 261.5h2M412 261.5h1M378 262.5h1M382 262.5h10M412 262.5h1M379 263.5h3M413 263.5h1M413 264.5h1M414 265.5h1M414 266.5h1M415 267.5h1M415 268.5h1M415 269.5h1M416 270.5h1M416 271.5h1M416 272.5h1M417 273.5h1M417 274.5h1M417 275.5h1M417 276.5h1M418 277.5h1M418 278.5h1M418 279.5h1M419 280.5h1M419 281.5h1M419 282.5h1M420 283.5h1M420 284.5h1M420 285.5h1M421 286.5h1M421 287.5h1M421 288.5h1M422 289.5h1M422 290.5h1M422 291.5h1M423 292.5h1M423 293.5h1M423 294.5h1M424 295.5h1M424 296.5h1M424 297.5h1M424 298.5h1M1203 298.5h1M425 299.5h1M1202 299.5h1M1204 299.5h1M425 300.5h1M1201 300.5h1M1205 300.5h1M1255 300.5h1M425 301.5h1M1201 301.5h1M1205 301.5h1M1254 301.5h1M426 302.5h1M1200 302.5h1M1206 302.5h1M1253 302.5h1M426 303.5h1M1199 303.5h1M1207 303.5h2M1253 303.5h1M426 304.5h1M1199 304.5h1M1209 304.5h3M1252 304.5h1M426 305.5h1M1198 305.5h1M1212 305.5h1M1251 305.5h1M427 306.5h1M1198 306.5h1M1213 306.5h1M1250 306.5h1M427 307.5h1M1198 307.5h1M1213 307.5h1M1250 307.5h1M427 308.5h1M1197 308.5h1M1214 308.5h1M1249 308.5h1M428 309.5h1M1197 309.5h1M1215 309.5h2M1249 309.5h1M428 310.5h1M1196 310.5h1M1217 310.5h3M1248 310.5h1M428 311.5h1M1196 311.5h1M1220 311.5h1M1248 311.5h1M428 312.5h1M1196 312.5h1M1221 312.5h1M1247 312.5h1M429 313.5h1M1195 313.5h1M1221 313.5h1M1227 313.5h2M1246 313.5h1M429 314.5h1M1195 314.5h1M1222 314.5h1M1225 314.5h2M1229 314.5h11M1245 314.5h1M429 315.5h1M1195 315.5h1M1223 315.5h2M1240 315.5h2M1244 315.5h1M430 316.5h1M1195 316.5h1M1242 316.5h2M430 317.5h1M1194 317.5h1M430 318.5h1M1194 318.5h1M430 319.5h1M1194 319.5h1M431 320.5h1M1194 320.5h1M431 321.5h1M651 321.5h1M1193 321.5h1M431 322.5h1M650 322.5h1M652 322.5h2M1193 322.5h1M432 323.5h1M649 323.5h1M654 323.5h2M1193 323.5h1M432 324.5h1M648 324.5h1M656 324.5h1M1193 324.5h1M432 325.5h1M647 325.5h1M656 325.5h1M1193 325.5h1M433 326.5h1M647 326.5h1M657 326.5h1M1192 326.5h1M433 327.5h1M646 327.5h1M658 327.5h1M1192 327.5h1M433 328.5h1M646 328.5h1M658 328.5h1M1192 328.5h1M434 329.5h1M646 329.5h1M659 329.5h1M1192 329.5h1M434 330.5h1M645 330.5h1M659 330.5h1M1191 330.5h1M434 331.5h1M645 331.5h1M660 331.5h1M1191 331.5h1M435 332.5h1M644 332.5h1M660 332.5h1M1191 332.5h1M435 333.5h1M644 333.5h1M661 333.5h1M1191 333.5h1M435 334.5h1M644 334.5h1M661 334.5h1M1190 334.5h1M436 335.5h1M643 335.5h1M661 335.5h1M1190 335.5h1M436 336.5h1M643 336.5h1M662 336.5h1M1190 336.5h1M437 337.5h1M643 337.5h1M662 337.5h1M1190 337.5h1M437 338.5h1M643 338.5h1M663 338.5h1M1189 338.5h1M437 339.5h1M642 339.5h1M663 339.5h1M1189 339.5h1M438 340.5h1M642 340.5h1M664 340.5h1M1189 340.5h1M438 341.5h1M642 341.5h1M664 341.5h1M1189 341.5h1M439 342.5h1M642 342.5h1M665 342.5h1M1188 342.5h1M439 343.5h1M641 343.5h1M665 343.5h1M1188 343.5h1M439 344.5h1M641 344.5h1M666 344.5h1M1188 344.5h1M440 345.5h1M641 345.5h1M666 345.5h1M1188 345.5h1M440 346.5h1M641 346.5h1M667 346.5h1M1187 346.5h1M441 347.5h1M640 347.5h1M668 347.5h1M1187 347.5h1M441 348.5h1M640 348.5h1M669 348.5h1M1187 348.5h1M441 349.5h1M640 349.5h1M670 349.5h1M1187 349.5h1M442 350.5h1M640 350.5h1M671 350.5h1M1186 350.5h1M442 351.5h1M639 351.5h1M672 351.5h1M1186 351.5h1M443 352.5h1M639 352.5h1M673 352.5h1M1186 352.5h1M443 353.5h1M639 353.5h1M673 353.5h1M1186 353.5h1M443 354.5h1M638 354.5h1M674 354.5h1M1186 354.5h1M444 355.5h1M638 355.5h1M675 355.5h1M1185 355.5h1M444 356.5h1M638 356.5h1M676 356.5h1M1185 356.5h1M445 357.5h1M638 357.5h1M677 357.5h2M1185 357.5h1M445 358.5h1M637 358.5h1M679 358.5h2M1185 358.5h1M446 359.5h1M637 359.5h1M681 359.5h3M1184 359.5h1M446 360.5h1M637 360.5h1M684 360.5h2M1184 360.5h1M447 361.5h1M637 361.5h1M686 361.5h2M1184 361.5h1M447 362.5h1M636 362.5h1M687 362.5h1M1184 362.5h1M447 363.5h1M636 363.5h1M688 363.5h1M1184 363.5h1M448 364.5h1M636 364.5h1M688 364.5h1M775 364.5h1M1183 364.5h1M448 365.5h1M636 365.5h1M689 365.5h1M773 365.5h2M776 365.5h1M1183 365.5h1M449 366.5h1M635 366.5h1M689 366.5h1M771 366.5h2M777 366.5h1M1183 366.5h1M449 367.5h1M635 367.5h1M690 367.5h1M771 367.5h1M777 367.5h1M1183 367.5h1M450 368.5h1M635 368.5h1M690 368.5h1M770 368.5h1M778 368.5h1M1183 368.5h1M450 369.5h1M634 369.5h1M691 369.5h1M770 369.5h1M779 369.5h1M1182 369.5h1M451 370.5h1M634 370.5h1M691 370.5h1M770 370.5h1M779 370.5h1M1182 370.5h1M451 371.5h1M634 371.5h1M692 371.5h1M769 371.5h1M780 371.5h1M1182 371.5h1M452 372.5h1M633 372.5h1M693 372.5h1M719 372.5h1M769 372.5h1M780 372.5h1M1182 372.5h1M452 373.5h1M587 373.5h1M633 373.5h1M693 373.5h1M718 373.5h1M720 373.5h1M769 373.5h1M781 373.5h1M815 373.5h2M1181 373.5h1M453 374.5h1M462 374.5h2M585 374.5h2M588 374.5h1M633 374.5h1M694 374.5h1M717 374.5h1M721 374.5h1M768 374.5h1M781 374.5h1M813 374.5h2M817 374.5h3M1181 374.5h1M454 375.5h1M459 375.5h3M464 375.5h1M487 375.5h5M583 375.5h2M588 375.5h1M632 375.5h1M695 375.5h1M717 375.5h1M721 375.5h1M768 375.5h1M782 375.5h1M811 375.5h2M820 375.5h1M1181 375.5h1M454 376.5h1M457 376.5h2M465 376.5h1M487 376.5h1M492 376.5h1M582 376.5h1M589 376.5h1M632 376.5h1M696 376.5h1M716 376.5h1M722 376.5h1M768 376.5h1M782 376.5h1M811 376.5h1M820 376.5h1M1181 376.5h1M455 377.5h2M465 377.5h1M486 377.5h1M493 377.5h1M581 377.5h1M590 377.5h1M632 377.5h1M697 377.5h1M715 377.5h1M723 377.5h1M767 377.5h1M783 377.5h1M810 377.5h1M821 377.5h1M1180 377.5h1M466 378.5h1M486 378.5h1M494 378.5h1M581 378.5h1M590 378.5h1M631 378.5h1M697 378.5h1M714 378.5h1M724 378.5h1M767 378.5h1M783 378.5h1M810 378.5h1M822 378.5h1M1180 378.5h1M467 379.5h2M485 379.5h1M495 379.5h1M580 379.5h1M591 379.5h1M631 379.5h1M698 379.5h1M713 379.5h1M725 379.5h1M767 379.5h1M783 379.5h1M810 379.5h1M822 379.5h1M1180 379.5h1M469 380.5h7M485 380.5h1M496 380.5h1M579 380.5h1M592 380.5h2M631 380.5h1M699 380.5h2M713 380.5h1M725 380.5h1M766 380.5h1M784 380.5h1M809 380.5h1M823 380.5h1M1180 380.5h1M476 381.5h1M485 381.5h1M497 381.5h2M578 381.5h1M594 381.5h2M630 381.5h1M701 381.5h3M712 381.5h1M726 381.5h1M766 381.5h1M784 381.5h1M809 381.5h1M824 381.5h1M1179 381.5h1M477 382.5h1M484 382.5h1M499 382.5h1M578 382.5h1M596 382.5h1M630 382.5h1M704 382.5h1M711 382.5h1M727 382.5h1M765 382.5h1M784 382.5h1M809 382.5h1M825 382.5h1M1179 382.5h1M477 383.5h1M484 383.5h1M500 383.5h1M577 383.5h1M597 383.5h1M629 383.5h1M705 383.5h1M710 383.5h1M727 383.5h1M765 383.5h1M784 383.5h1M808 383.5h1M826 383.5h1M847 383.5h1M1179 383.5h1M478 384.5h1M483 384.5h1M501 384.5h1M577 384.5h1M597 384.5h1M629 384.5h1M705 384.5h1M709 384.5h1M728 384.5h1M764 384.5h1M785 384.5h1M808 384.5h1M827 384.5h2M845 384.5h2M848 384.5h1M1179 384.5h1M479 385.5h5M501 385.5h1M576 385.5h1M598 385.5h1M629 385.5h1M706 385.5h1M708 385.5h1M728 385.5h1M764 385.5h1M785 385.5h1M808 385.5h1M829 385.5h3M843 385.5h2M849 385.5h2M1178 385.5h1M502 386.5h1M576 386.5h1M599 386.5h1M628 386.5h1M707 386.5h1M729 386.5h1M763 386.5h1M785 386.5h1M807 386.5h1M832 386.5h2M842 386.5h1M851 386.5h1M1178 386.5h1M503 387.5h1M575 387.5h1M599 387.5h1M628 387.5h1M729 387.5h1M763 387.5h1M785 387.5h1M807 387.5h1M834 387.5h3M840 387.5h2M852 387.5h1M1178 387.5h1M503 388.5h1M575 388.5h1M600 388.5h1M627 388.5h1M730 388.5h1M762 388.5h1M786 388.5h1M807 388.5h1M837 388.5h3M853 388.5h2M1177 388.5h1M504 389.5h1M531 389.5h1M574 389.5h1M600 389.5h1M627 389.5h1M730 389.5h1M762 389.5h1M786 389.5h1M806 389.5h1M855 389.5h1M1177 389.5h1M504 390.5h1M530 390.5h1M532 390.5h2M538 390.5h2M574 390.5h1M601 390.5h1M626 390.5h1M731 390.5h1M761 390.5h1M786 390.5h1M806 390.5h1M856 390.5h1M1177 390.5h1M505 391.5h1M529 391.5h1M534 391.5h4M540 391.5h1M573 391.5h1M601 391.5h1M626 391.5h1M731 391.5h1M761 391.5h1M786 391.5h1M806 391.5h1M856 391.5h1M1176 391.5h1M505 392.5h1M529 392.5h1M541 392.5h1M573 392.5h1M602 392.5h1M625 392.5h1M732 392.5h1M761 392.5h1M787 392.5h1M805 392.5h1M857 392.5h1M1176 392.5h1M506 393.5h1M528 393.5h1M541 393.5h1M573 393.5h1M602 393.5h1M625 393.5h1M732 393.5h1M760 393.5h1M787 393.5h1M805 393.5h1M858 393.5h1M1176 393.5h1M506 394.5h1M527 394.5h1M542 394.5h1M572 394.5h1M603 394.5h1M624 394.5h1M733 394.5h1M760 394.5h1M787 394.5h1M805 394.5h1M858 394.5h1M1175 394.5h1M507 395.5h1M526 395.5h1M543 395.5h1M572 395.5h1M603 395.5h1M624 395.5h1M733 395.5h1M759 395.5h1M787 395.5h1M805 395.5h1M859 395.5h1M1175 395.5h1M507 396.5h1M526 396.5h1M544 396.5h1M571 396.5h1M604 396.5h1M623 396.5h1M734 396.5h1M759 396.5h1M788 396.5h1M804 396.5h1M860 396.5h1M1174 396.5h1M508 397.5h1M525 397.5h1M544 397.5h1M571 397.5h1M605 397.5h2M622 397.5h1M734 397.5h1M759 397.5h1M788 397.5h1M804 397.5h1M860 397.5h1M1173 397.5h1M508 398.5h1M524 398.5h1M545 398.5h1M571 398.5h1M607 398.5h10M620 398.5h2M735 398.5h1M758 398.5h1M788 398.5h1M804 398.5h1M861 398.5h1M1173 398.5h1M509 399.5h1M524 399.5h1M545 399.5h1M570 399.5h1M617 399.5h3M736 399.5h1M758 399.5h1M788 399.5h1M803 399.5h1M861 399.5h1M1172 399.5h1M509 400.5h1M523 400.5h1M546 400.5h1M570 400.5h1M736 400.5h1M757 400.5h1M789 400.5h1M803 400.5h1M862 400.5h1M1171 400.5h1M510 401.5h1M522 401.5h1M546 401.5h1M569 401.5h1M737 401.5h1M757 401.5h1M789 401.5h1M803 401.5h1M862 401.5h1M1171 401.5h1M510 402.5h1M514 402.5h3M520 402.5h2M547 402.5h1M569 402.5h1M737 402.5h1M757 402.5h1M789 402.5h1M802 402.5h1M863 402.5h1M1170 402.5h1M511 403.5h3M517 403.5h3M548 403.5h1M568 403.5h1M738 403.5h1M756 403.5h1M789 403.5h1M802 403.5h1M863 403.5h1M1170 403.5h1M549 404.5h1M568 404.5h1M738 404.5h1M756 404.5h1M790 404.5h1M801 404.5h1M864 404.5h1M1170 404.5h1M550 405.5h1M567 405.5h1M739 405.5h1M755 405.5h1M790 405.5h1M801 405.5h1M864 405.5h1M1169 405.5h1M551 406.5h1M566 406.5h1M739 406.5h1M755 406.5h1M790 406.5h1M801 406.5h1M865 406.5h1M1169 406.5h1M552 407.5h1M565 407.5h1M740 407.5h1M753 407.5h2M790 407.5h1M800 407.5h1M866 407.5h1M1168 407.5h1M552 408.5h1M565 408.5h1M741 408.5h1M751 408.5h2M791 408.5h1M800 408.5h1M866 408.5h1M1168 408.5h1M553 409.5h1M564 409.5h1M742 409.5h1M749 409.5h2M791 409.5h1M799 409.5h1M867 409.5h1M1168 409.5h1M554 410.5h1M563 410.5h1M743 410.5h6M791 410.5h2M798 410.5h2M868 410.5h1M1167 410.5h1M554 411.5h1M562 411.5h1M793 411.5h5M868 411.5h1M1167 411.5h1M555 412.5h2M560 412.5h2M869 412.5h1M1167 412.5h1M557 413.5h3M869 413.5h1M1166 413.5h1M870 414.5h1M1166 414.5h1M870 415.5h1M1166 415.5h1M871 416.5h1M1165 416.5h1M871 417.5h1M1165 417.5h1M872 418.5h1M1164 418.5h1M872 419.5h1M1164 419.5h1M873 420.5h1M1164 420.5h1M873 421.5h1M1163 421.5h1M874 422.5h1M1163 422.5h1M874 423.5h1M1162 423.5h1M875 424.5h1M1162 424.5h1M875 425.5h1M1161 425.5h1M875 426.5h1M1161 426.5h1M876 427.5h1M1160 427.5h1M876 428.5h1M1160 428.5h1M876 429.5h1M1159 429.5h1M877 430.5h1M1158 430.5h1M877 431.5h1M1158 431.5h1M877 432.5h1M1157 432.5h1M877 433.5h1M1098 433.5h2M1157 433.5h1M878 434.5h1M1095 434.5h3M1100 434.5h1M1156 434.5h1M878 435.5h1M1094 435.5h1M1100 435.5h1M1156 435.5h1M878 436.5h1M1092 436.5h2M1101 436.5h1M1155 436.5h1M879 437.5h1M1091 437.5h1M1102 437.5h1M1155 437.5h1M879 438.5h1M1091 438.5h1M1102 438.5h1M1154 438.5h1M879 439.5h1M1090 439.5h1M1103 439.5h1M1154 439.5h1M880 440.5h1M1090 440.5h1M1103 440.5h1M1154 440.5h1M880 441.5h1M1089 441.5h1M1104 441.5h1M1153 441.5h1M880 442.5h1M1089 442.5h1M1104 442.5h1M1153 442.5h1M881 443.5h1M1088 443.5h1M1104 443.5h1M1152 443.5h1M881 444.5h1M1088 444.5h1M1105 444.5h1M1152 444.5h1M882 445.5h1M1087 445.5h1M1105 445.5h1M1152 445.5h1M882 446.5h1M1087 446.5h1M1105 446.5h1M1151 446.5h1M882 447.5h1M1086 447.5h1M1106 447.5h1M1150 447.5h2M883 448.5h1M1086 448.5h1M1106 448.5h1M1147 448.5h3M883 449.5h1M1086 449.5h1M1106 449.5h1M1146 449.5h1M883 450.5h1M1085 450.5h1M1107 450.5h1M1145 450.5h1M884 451.5h1M1085 451.5h1M1107 451.5h1M1145 451.5h1M884 452.5h1M1085 452.5h1M1108 452.5h1M1144 452.5h1M884 453.5h1M1084 453.5h1M1108 453.5h1M1143 453.5h1M885 454.5h1M1084 454.5h1M1109 454.5h1M1142 454.5h1M885 455.5h1M1084 455.5h1M1109 455.5h1M1142 455.5h1M885 456.5h1M1083 456.5h1M1110 456.5h1M1141 456.5h1M885 457.5h1M1083 457.5h1M1110 457.5h1M1140 457.5h1M886 458.5h1M1083 458.5h1M1111 458.5h1M1140 458.5h1M886 459.5h1M1082 459.5h1M1111 459.5h1M1139 459.5h1M886 460.5h1M1082 460.5h1M1112 460.5h1M1138 460.5h1M887 461.5h1M1081 461.5h1M1112 461.5h1M1136 461.5h2M887 462.5h1M1081 462.5h1M1113 462.5h1M1135 462.5h1M887 463.5h1M1081 463.5h1M1113 463.5h1M1134 463.5h1M888 464.5h1M1080 464.5h1M1114 464.5h1M1133 464.5h1M888 465.5h1M1080 465.5h1M1114 465.5h1M1133 465.5h1M888 466.5h1M1079 466.5h1M1115 466.5h1M1132 466.5h1M889 467.5h1M1079 467.5h1M1116 467.5h1M1131 467.5h1M889 468.5h1M1079 468.5h1M1116 468.5h1M1130 468.5h1M890 469.5h1M1078 469.5h1M1117 469.5h1M1130 469.5h1M890 470.5h1M1078 470.5h1M1118 470.5h1M1129 470.5h1M890 471.5h1M1077 471.5h1M1118 471.5h1M1129 471.5h1M891 472.5h1M1077 472.5h1M1119 472.5h1M1128 472.5h1M891 473.5h1M1076 473.5h1M1120 473.5h1M1128 473.5h1M892 474.5h1M1076 474.5h1M1121 474.5h2M1126 474.5h2M892 475.5h1M1075 475.5h1M1123 475.5h3M893 476.5h1M1074 476.5h1M894 477.5h1M1074 477.5h1M894 478.5h1M958 478.5h2M1034 478.5h2M1073 478.5h1M895 479.5h2M955 479.5h3M960 479.5h1M1030 479.5h4M1036 479.5h1M1073 479.5h1M897 480.5h3M954 480.5h1M961 480.5h1M1019 480.5h2M1026 480.5h4M1037 480.5h1M1072 480.5h1M900 481.5h1M954 481.5h1M962 481.5h1M1018 481.5h1M1021 481.5h5M1038 481.5h1M1072 481.5h1M901 482.5h2M906 482.5h10M953 482.5h1M963 482.5h1M1017 482.5h1M1039 482.5h1M1071 482.5h1M903 483.5h3M916 483.5h1M953 483.5h1M964 483.5h1M1016 483.5h1M1040 483.5h1M1069 483.5h2M917 484.5h1M952 484.5h1M964 484.5h1M1015 484.5h1M1041 484.5h1M1067 484.5h2M918 485.5h1M952 485.5h1M965 485.5h1M1014 485.5h1M1041 485.5h1M1066 485.5h1M919 486.5h1M951 486.5h1M966 486.5h1M1013 486.5h1M1042 486.5h1M1064 486.5h2M920 487.5h2M950 487.5h1M966 487.5h1M1013 487.5h1M1043 487.5h1M1063 487.5h1M922 488.5h2M949 488.5h1M967 488.5h1M1012 488.5h1M1044 488.5h1M1062 488.5h1M924 489.5h1M949 489.5h1M968 489.5h1M1011 489.5h1M1045 489.5h2M1060 489.5h2M924 490.5h1M948 490.5h1M968 490.5h1M1009 490.5h2M1047 490.5h5M1059 490.5h1M925 491.5h1M947 491.5h1M969 491.5h1M1007 491.5h2M1052 491.5h1M1058 491.5h1M926 492.5h1M946 492.5h1M970 492.5h1M1006 492.5h1M1053 492.5h2M1056 492.5h2M926 493.5h1M945 493.5h1M970 493.5h1M1006 493.5h1M1055 493.5h1M927 494.5h1M945 494.5h1M971 494.5h1M1005 494.5h1M928 495.5h2M944 495.5h1M972 495.5h1M1005 495.5h1M930 496.5h2M943 496.5h1M972 496.5h1M1004 496.5h1M932 497.5h1M942 497.5h1M973 497.5h1M1004 497.5h1M933 498.5h1M940 498.5h2M974 498.5h1M1003 498.5h1M933 499.5h1M939 499.5h1M974 499.5h1M1003 499.5h1M934 500.5h1M937 500.5h2M975 500.5h1M1002 500.5h1M935 501.5h2M976 501.5h1M1002 501.5h1M976 502.5h1M1001 502.5h1M977 503.5h1M1001 503.5h1M977 504.5h1M1001 504.5h1M978 505.5h1M1000 505.5h1M978 506.5h1M1000 506.5h1M979 507.5h1M999 507.5h1M979 508.5h1M999 508.5h1M980 509.5h1M998 509.5h1M981 510.5h1M998 510.5h1M981 511.5h1M997 511.5h1M982 512.5h1M996 512.5h1M983 513.5h2M990 513.5h3M996 513.5h1M985 514.5h5M993 514.5h3" stroke="#ffa500" stroke-width="1" fill="none" shape-rendering="crispEdges"/>
<g shape-rendering="crispEdges">
<rect x="3" y="233" width="1576" height="2" fill="#ff0000"/>
<rect x="3" y="305" width="1576" height="2" fill="#ff0000"/>
<rect x="3" y="360" width="1576" height="2" fill="#00ff00"/>
<rect x="3" y="432" width="1576" height="2" fill="#0000ff"/>
<rect x="3" y="490" width="1576" height="2" fill="#0000ff"/>
<rect x="3" y="541" width="1576" height="2" fill="#0000ff"/>
</g>
<g shape-rendering="crispEdges">
<rect x="2" y="231" width="6" height="6" fill="#ff0000"/><rect x="4" y="233" width="2" height="2" fill="#fff"/>
<rect x="1573" y="231" width="6" height="6" fill="#ff0000"/><rect x="1575" y="233" width="2" height="2" fill="#fff"/>
<rect x="2" y="358" width="6" height="6" fill="#00ff00"/><rect x="4" y="360" width="2" height="2" fill="#fff"/>
<rect x="1573" y="358" width="6" height="6" fill="#00ff00"/><rect x="1575" y="360" width="2" height="2" fill="#fff"/>
<rect x="2" y="430" width="6" height="6" fill="#0000ff"/><rect x="4" y="432" width="2" height="2" fill="#fff"/>
<rect x="1573" y="430" width="6" height="6" fill="#0000ff"/><rect x="1575" y="432" width="2" height="2" fill="#fff"/>
<rect x="2" y="488" width="6" height="6" fill="#0000ff"/><rect x="4" y="490" width="2" height="2" fill="#fff"/>
<rect x="1573" y="488" width="6" height="6" fill="#0000ff"/><rect x="1575" y="490" width="2" height="2" fill="#fff"/>
<rect x="2" y="539" width="6" height="6" fill="#0000ff"/><rect x="4" y="541" width="2" height="2" fill="#fff"/>
<rect x="1573" y="539" width="6" height="6" fill="#0000ff"/><rect x="1575" y="541" width="2" height="2" fill="#fff"/>
</g>
<path d="M4 585.5h3M10 585.5h3M16 585.5h3M22 585.5h3M28 585.5h3M34 585.5h3M40 585.5h3M46 585.5h3M52 585.5h3M58 585.5h3M64 585.5h3M70 585.5h3M76 585.5h3M82 585.5h3M88 585.5h3M94 585.5h3M100 585.5h3M106 585.5h3M112 585.5h3M118 585.5h3M124 585.5h3M130 585.5h3M136 585.5h3M142 585.5h3M148 585.5h3M154 585.5h3M160 585.5h3M166 585.5h3M172 585.5h3M178 585.5h3M184 585.5h3M190 585.5h3M196 585.5h3M202 585.5h3M208 585.5h3M214 585.5h3M220 585.5h3M226 585.5h3M232 585.5h3M238 585.5h3M244 585.5h3M250 585.5h3M256 585.5h3M262 585.5h3M268 585.5h3M274 585.5h3M280 585.5h3M286 585.5h3M292 585.5h3M298 585.5h3M304 585.5h3M310 585.5h3M316 585.5h3M322 585.5h3M328 585.5h3M334 585.5h3M340 585.5h3M346 585.5h3M352 585.5h3M358 585.5h3M364 585.5h3M370 585.5h3M376 585.5h3M382 585.5h3M388 585.5h3M394 585.5h3M400 585.5h3M406 585.5h3M412 585.5h3M418 585.5h3M424 585.5h3M430 585.5h3M436 585.5h3M442 585.5h3M448 585.5h3M454 585.5h3M460 585.5h3M466 585.5h3M472 585.5h3M478 585.5h3M484 585.5h3M490 585.5h3M496 585.5h3M502 585.5h3M508 585.5h3M514 585.5h3M520 585.5h3M526 585.5h3M532 585.5h3M538 585.5h3M544 585.5h3M550 585.5h3M556 585.5h3M562 585.5h3M568 585.5h3M574 585.5h3M580 585.5h3M586 585.5h3M592 585.5h3M598 585.5h3M604 585.5h3M610 585.5h3M616 585.5h3M622 585.5h3M628 585.5h3M634 585.5h3M640 585.5h3M646 585.5h3M652 585.5h3M658 585.5h3M664 585.5h3M670 585.5h3M676 585.5h3M682 585.5h3M688 585.5h3M694 585.5h3M700 585.5h3M706 585.5h3M712 585.5h3M718 585.5h3M724 585.5h3M730 585.5h3M736 585.5h3M742 585.5h3M748 585.5h3M754 585.5h3M760 585.5h3M766 585.5h3M772 585.5h3M778 585.5h3M784 585.5h3M790 585.5h3M796 585.5h3M802 585.5h3M808 585.5h3M814 585.5h3M820 585.5h3M826 585.5h3M832 585.5h3M838 585.5h3M844 585.5h3M850 585.5h3M856 585.5h3M862 585.5h3M868 585.5h3M874 585.5h3M880 585.5h3M886 585.5h3M892 585.5h3M898 585.5h3M904 585.5h3M910 585.5h3M916 585.5h3M922 585.5h3M928 585.5h3M934 585.5h3M940 585.5h3M946 585.5h3M952 585.5h3M958 585.5h3M964 585.5h3M970 585.5h3M976 585.5h3M982 585.5h3M988 585.5h3M994 585.5h3M1000 585.5h3M1006 585.5h3M1012 585.5h3M1018 585.5h3M1024 585.5h3M1030 585.5h3M1036 585.5h3M1042 585.5h3M1048 585.5h3M1054 585.5h3M1060 585.5h3M1066 585.5h3M1072 585.5h3M1078 585.5h3M1084 585.5h3M1090 585.5h3M1096 585.5h3M1102 585.5h3M1108 585.5h3M1114 585.5h3M1120 585.5h3M1126 585.5h3M1132 585.5h3M1138 585.5h3M1144 585.5h3M1150 585.5h3M1156 585.5h3M1162 585.5h3M1168 585.5h3M1174 585.5h3M1180 585.5h3M1186 585.5h3M1192 585.5h3M1198 585.5h3M1204 585.5h3M1210 585.5h3M1216 585.5h3M1222 585.5h3M1228 585.5h3M1234 585.5h3M1240 585.5h3M1246 585.5h3M1252 585.5h3M1258 585.5h3M1264 585.5h3M1270 585.5h3M1276 585.5h3M1282 585.5h3M1288 585.5h3M1294 585.5h3M1300 585.5h3M1306 585.5h3M1312 585.5h3M1318 585.5h3M1324 585.5h3M1330 585.5h3M1336 585.5h3M1342 585.5h3M1348 585.5h3M1354 585.5h3M1360 585.5h3M1366 585.5h3M1372 585.5h3M1378 585.5h3M1384 585.5h3M1390 585.5h3M1396 585.5h3M1402 585.5h3M1408 585.5h3M1414 585.5h3M1420 585.5h3M1426 585.5h3M1432 585.5h3M1438 585.5h3M1444 585.5h3M1450 585.5h3M1456 585.5h3M1462 585.5h3M1468 585.5h3M1474 585.5h3M1480 585.5h3M1486 585.5h3M1492 585.5h3M1498 585.5h3M1504 585.5h3M1510 585.5h3M1516 585.5h3M1522 585.5h3M1528 585.5h3M1534 585.5h3M1540 585.5h3M1546 585.5h3M1552 585.5h3M1558 585.5h3M1564 585.5h3M1570 585.5h3M1576 585.5h3" stroke="#c0c0c0" stroke-width="1" fill="none" shape-rendering="crispEdges"/>
<path d="M4 622.5h3M10 622.5h3M16 622.5h3M22 622.5h3M28 622.5h3M34 622.5h3M40 622.5h3M46 622.5h3M52 622.5h3M58 622.5h3M64 622.5h3M70 622.5h3M76 622.5h3M82 622.5h3M88 622.5h3M94 622.5h3M100 622.5h3M106 622.5h3M112 622.5h3M118 622.5h3M124 622.5h3M130 622.5h3M136 622.5h3M142 622.5h3M148 622.5h3M154 622.5h3M160 622.5h3M166 622.5h3M172 622.5h3M178 622.5h3M184 622.5h3M190 622.5h3M196 622.5h3M202 622.5h3M208 622.5h3M214 622.5h3M220 622.5h3M226 622.5h3M232 622.5h3M238 622.5h3M244 622.5h3M250 622.5h3M256 622.5h3M262 622.5h3M268 622.5h3M274 622.5h3M280 622.5h3M286 622.5h3M292 622.5h3M298 622.5h3M304 622.5h3M310 622.5h3M316 622.5h3M322 622.5h3M328 622.5h3M334 622.5h3M340 622.5h3M346 622.5h3M352 622.5h3M358 622.5h3M364 622.5h3M370 622.5h3M376 622.5h3M382 622.5h3M388 622.5h3M394 622.5h3M400 622.5h3M406 622.5h3M412 622.5h3M418 622.5h3M424 622.5h3M430 622.5h3M436 622.5h3M442 622.5h3M448 622.5h3M454 622.5h3M460 622.5h3M466 622.5h3M472 622.5h3M478 622.5h3M484 622.5h3M490 622.5h3M496 622.5h3M502 622.5h3M508 622.5h3M514 622.5h3M520 622.5h3M526 622.5h3M532 622.5h3M538 622.5h3M544 622.5h3M550 622.5h3M556 622.5h3M562 622.5h3M568 622.5h3M574 622.5h3M580 622.5h3M586 622.5h3M592 622.5h3M598 622.5h3M604 622.5h3M610 622.5h3M616 622.5h3M622 622.5h3M628 622.5h3M634 622.5h3M640 622.5h3M646 622.5h3M652 622.5h3M658 622.5h3M664 622.5h3M670 622.5h3M676 622.5h3M682 622.5h3M688 622.5h3M694 622.5h3M700 622.5h3M706 622.5h3M712 622.5h3M718 622.5h3M724 622.5h3M730 622.5h3M736 622.5h3M742 622.5h3M748 622.5h3M754 622.5h3M760 622.5h3M766 622.5h3M772 622.5h3M778 622.5h3M784 622.5h3M790 622.5h3M796 622.5h3M802 622.5h3M808 622.5h3M814 622.5h3M820 622.5h3M826 622.5h3M832 622.5h3M838 622.5h3M844 622.5h3M850 622.5h3M856 622.5h3M862 622.5h3M868 622.5h3M874 622.5h3M880 622.5h3M886 622.5h3M892 622.5h3M898 622.5h3M904 622.5h3M910 622.5h3M916 622.5h3M922 622.5h3M928 622.5h3M934 622.5h3M940 622.5h3M946 622.5h3M952 622.5h3M958 622.5h3M964 622.5h3M970 622.5h3M976 622.5h3M982 622.5h3M988 622.5h3M994 622.5h3M1000 622.5h3M1006 622.5h3M1012 622.5h3M1018 622.5h3M1024 622.5h3M1030 622.5h3M1036 622.5h3M1042 622.5h3M1048 622.5h3M1054 622.5h3M1060 622.5h3M1066 622.5h3M1072 622.5h3M1078 622.5h3M1084 622.5h3M1090 622.5h3M1096 622.5h3M1102 622.5h3M1108 622.5h3M1114 622.5h3M1120 622.5h3M1126 622.5h3M1132 622.5h3M1138 622.5h3M1144 622.5h3M1150 622.5h3M1156 622.5h3M1162 622.5h3M1168 622.5h3M1174 622.5h3M1180 622.5h3M1186 622.5h3M1192 622.5h3M1198 622.5h3M1204 622.5h3M1210 622.5h3M1216 622.5h3M1222 622.5h3M1228 622.5h3M1234 622.5h3M1240 622.5h3M1246 622.5h3M1252 622.5h3M1258 622.5h3M1264 622.5h3M1270 622.5h3M1276 622.5h3M1282 622.5h3M1288 622.5h3M1294 622.5h3M1300 622.5h3M1306 622.5h3M1312 622.5h3M1318 622.5h3M1324 622.5h3M1330 622.5h3M1336 622.5h3M1342 622.5h3M1348 622.5h3M1354 622.5h3M1360 622.5h3M1366 622.5h3M1372 622.5h3M1378 622.5h3M1384 622.5h3M1390 622.5h3M1396 622.5h3M1402 622.5h3M1408 622.5h3M1414 622.5h3M1420 622.5h3M1426 622.5h3M1432 622.5h3M1438 622.5h3M1444 622.5h3M1450 622.5h3M1456 622.5h3M1462 622.5h3M1468 622.5h3M1474 622.5h3M1480 622.5h3M1486 622.5h3M1492 622.5h3M1498 622.5h3M1504 622.5h3M1510 622.5h3M1516 622.5h3M1522 622.5h3M1528 622.5h3M1534 622.5h3M1540 622.5h3M1546 622.5h3M1552 622.5h3M1558 622.5h3M1564 622.5h3M1570 622.5h3M1576 622.5h3" stroke="#c0c0c0" stroke-width="1" fill="none" shape-rendering="crispEdges"/>
<path d="M1194 574.5h1M1192 575.5h2M1195 575.5h1M1185 576.5h7M1195 576.5h1M1184 577.5h1M1196 577.5h1M1183 578.5h1M1197 578.5h1M1182 579.5h1M1197 579.5h1M1181 580.5h1M1198 580.5h1M1180 581.5h1M1198 581.5h1M1178 582.5h2M1199 582.5h5M643 583.5h3M1087 583.5h1M1176 583.5h2M1204 583.5h1M640 584.5h3M646 584.5h2M1086 584.5h1M1088 584.5h1M1155 584.5h1M1173 584.5h3M1204 584.5h1M639 585.5h1M648 585.5h1M1085 585.5h1M1088 585.5h1M1155 585.5h1M1171 585.5h2M1205 585.5h1M637 586.5h2M648 586.5h1M1084 586.5h1M1089 586.5h1M1154 586.5h1M1156 586.5h1M1169 586.5h2M1205 586.5h1M636 587.5h1M649 587.5h1M1082 587.5h2M1090 587.5h1M1154 587.5h1M1156 587.5h1M1168 587.5h1M1206 587.5h1M1211 587.5h6M635 588.5h1M649 588.5h1M1080 588.5h2M1090 588.5h1M1153 588.5h1M1157 588.5h1M1167 588.5h1M1206 588.5h1M1210 588.5h1M1217 588.5h2M1251 588.5h5M634 589.5h1M650 589.5h1M1079 589.5h1M1091 589.5h2M1153 589.5h1M1157 589.5h1M1166 589.5h1M1207 589.5h3M1219 589.5h1M1232 589.5h4M1249 589.5h2M633 590.5h1M650 590.5h1M1077 590.5h2M1093 590.5h2M1152 590.5h1M1157 590.5h1M1165 590.5h1M1207 590.5h1M1220 590.5h1M1228 590.5h4M1236 590.5h3M1247 590.5h2M632 591.5h1M651 591.5h1M1076 591.5h1M1095 591.5h3M1152 591.5h1M1158 591.5h1M1164 591.5h1M1221 591.5h2M1225 591.5h3M1239 591.5h1M1247 591.5h1M3 592.5h3M631 592.5h1M652 592.5h1M1075 592.5h1M1098 592.5h2M1151 592.5h1M1158 592.5h1M1163 592.5h1M1223 592.5h2M1239 592.5h1M1246 592.5h1M6 593.5h3M630 593.5h1M653 593.5h1M771 593.5h1M1074 593.5h1M1099 593.5h1M1150 593.5h1M1159 593.5h1M1161 593.5h2M1240 593.5h1M1246 593.5h1M9 594.5h1M629 594.5h1M654 594.5h1M769 594.5h3M1074 594.5h1M1100 594.5h1M1150 594.5h1M1159 594.5h2M1240 594.5h1M1245 594.5h1M10 595.5h1M628 595.5h1M655 595.5h1M767 595.5h2M772 595.5h1M1073 595.5h1M1100 595.5h1M1131 595.5h2M1149 595.5h1M1241 595.5h1M1245 595.5h1M11 596.5h1M43 596.5h2M114 596.5h11M628 596.5h1M655 596.5h1M760 596.5h2M765 596.5h2M772 596.5h1M803 596.5h1M1073 596.5h1M1100 596.5h1M1131 596.5h1M1133 596.5h2M1148 596.5h1M1241 596.5h1M1245 596.5h1M11 597.5h1M41 597.5h2M45 597.5h7M112 597.5h2M125 597.5h2M130 597.5h2M157 597.5h3M627 597.5h1M656 597.5h1M759 597.5h1M762 597.5h3M773 597.5h1M802 597.5h1M804 597.5h1M1072 597.5h1M1101 597.5h1M1130 597.5h1M1135 597.5h1M1148 597.5h1M1242 597.5h1M1244 597.5h1M12 598.5h1M40 598.5h1M52 598.5h1M110 598.5h2M127 598.5h3M131 598.5h1M154 598.5h3M160 598.5h1M582 598.5h2M627 598.5h1M657 598.5h1M759 598.5h1M773 598.5h1M801 598.5h1M805 598.5h1M1003 598.5h1M1072 598.5h1M1101 598.5h1M1130 598.5h1M1136 598.5h2M1143 598.5h5M1242 598.5h1M1244 598.5h1M12 599.5h1M38 599.5h2M53 599.5h1M108 599.5h2M132 599.5h1M152 599.5h2M160 599.5h1M579 599.5h3M584 599.5h1M626 599.5h1M658 599.5h1M667 599.5h5M758 599.5h1M773 599.5h1M800 599.5h1M805 599.5h1M1003 599.5h2M1023 599.5h2M1071 599.5h1M1102 599.5h1M1129 599.5h1M1138 599.5h1M1141 599.5h2M1243 599.5h1M13 600.5h1M37 600.5h1M53 600.5h1M106 600.5h2M132 600.5h1M151 600.5h1M161 600.5h1M184 600.5h6M571 600.5h1M578 600.5h1M584 600.5h1M626 600.5h1M659 600.5h1M665 600.5h2M672 600.5h1M758 600.5h1M774 600.5h1M799 600.5h1M806 600.5h1M843 600.5h1M1002 600.5h1M1005 600.5h2M1021 600.5h2M1025 600.5h3M1069 600.5h2M1102 600.5h1M1129 600.5h1M1139 600.5h2M1243 600.5h1M13 601.5h1M36 601.5h1M54 601.5h1M58 601.5h2M104 601.5h2M133 601.5h1M150 601.5h1M162 601.5h1M169 601.5h2M182 601.5h2M190 601.5h2M199 601.5h1M210 601.5h7M570 601.5h1M572 601.5h1M577 601.5h1M585 601.5h1M625 601.5h1M660 601.5h2M663 601.5h2M672 601.5h1M757 601.5h1M774 601.5h1M798 601.5h1M807 601.5h9M842 601.5h1M844 601.5h1M1002 601.5h1M1007 601.5h1M1017 601.5h4M1028 601.5h1M1035 601.5h1M1059 601.5h1M1067 601.5h2M1102 601.5h1M1129 601.5h1M14 602.5h1M34 602.5h2M55 602.5h3M60 602.5h1M87 602.5h1M102 602.5h2M133 602.5h1M150 602.5h1M162 602.5h1M165 602.5h4M171 602.5h1M180 602.5h2M192 602.5h1M198 602.5h2M207 602.5h3M217 602.5h2M569 602.5h1M573 602.5h2M576 602.5h1M586 602.5h1M625 602.5h1M662 602.5h1M673 602.5h1M757 602.5h1M775 602.5h1M796 602.5h2M816 602.5h4M841 602.5h1M845 602.5h2M1001 602.5h1M1008 602.5h1M1014 602.5h3M1029 602.5h1M1034 602.5h1M1036 602.5h1M1058 602.5h1M1060 602.5h2M1065 602.5h2M1103 602.5h1M1128 602.5h1M14 603.5h1M33 603.5h1M61 603.5h2M86 603.5h1M88 603.5h2M94 603.5h3M100 603.5h2M134 603.5h1M149 603.5h1M163 603.5h2M172 603.5h2M178 603.5h2M193 603.5h2M196 603.5h2M200 603.5h1M207 603.5h1M219 603.5h1M569 603.5h1M575 603.5h1M587 603.5h1M624 603.5h1M673 603.5h1M683 603.5h5M756 603.5h1M775 603.5h1M795 603.5h1M820 603.5h1M831 603.5h2M840 603.5h1M847 603.5h1M1001 603.5h1M1009 603.5h2M1012 603.5h2M1030 603.5h1M1032 603.5h2M1036 603.5h1M1051 603.5h1M1057 603.5h1M1062 603.5h3M1103 603.5h1M1128 603.5h1M15 604.5h1M31 604.5h2M63 604.5h1M75 604.5h1M85 604.5h1M90 604.5h4M97 604.5h3M134 604.5h1M149 604.5h1M174 604.5h1M176 604.5h2M195 604.5h1M200 604.5h1M206 604.5h1M220 604.5h1M227 604.5h1M563 604.5h2M568 604.5h1M587 604.5h1M624 604.5h1M674 604.5h1M681 604.5h2M687 604.5h1M714 604.5h6M756 604.5h1M776 604.5h2M795 604.5h1M821 604.5h2M830 604.5h1M833 604.5h7M848 604.5h1M1000 604.5h1M1011 604.5h1M1031 604.5h1M1037 604.5h1M1050 604.5h1M1052 604.5h2M1056 604.5h1M1104 604.5h1M1118 604.5h2M1127 604.5h1M15 605.5h1M29 605.5h2M64 605.5h2M73 605.5h2M76 605.5h1M84 605.5h1M135 605.5h1M148 605.5h1M175 605.5h1M201 605.5h1M206 605.5h1M221 605.5h1M226 605.5h1M228 605.5h1M562 605.5h1M565 605.5h3M588 605.5h1M615 605.5h9M674 605.5h1M678 605.5h3M688 605.5h1M703 605.5h1M711 605.5h3M720 605.5h1M755 605.5h1M778 605.5h2M794 605.5h1M823 605.5h2M828 605.5h2M849 605.5h1M1000 605.5h1M1038 605.5h1M1049 605.5h1M1054 605.5h2M1105 605.5h1M1115 605.5h3M1120 605.5h1M1127 605.5h1M16 606.5h1M27 606.5h2M66 606.5h7M77 606.5h1M82 606.5h2M135 606.5h1M147 606.5h1M201 606.5h1M205 606.5h1M221 606.5h1M225 606.5h1M229 606.5h1M562 606.5h1M589 606.5h1M597 606.5h2M613 606.5h2M675 606.5h3M688 606.5h1M703 606.5h3M709 606.5h2M720 606.5h1M754 606.5h1M780 606.5h1M794 606.5h1M825 606.5h3M850 606.5h1M999 606.5h1M1038 606.5h1M1048 606.5h1M1106 606.5h1M1113 606.5h2M1121 606.5h1M1126 606.5h1M17 607.5h1M26 607.5h1M77 607.5h1M81 607.5h1M136 607.5h1M147 607.5h1M202 607.5h1M205 607.5h1M222 607.5h1M224 607.5h1M229 607.5h1M339 607.5h1M395 607.5h2M523 607.5h4M561 607.5h1M590 607.5h1M595 607.5h2M599 607.5h2M606 607.5h2M611 607.5h2M689 607.5h1M702 607.5h1M706 607.5h3M721 607.5h1M754 607.5h1M780 607.5h1M794 607.5h1M851 607.5h2M952 607.5h5M999 607.5h1M1039 607.5h1M1047 607.5h1M1107 607.5h6M1122 607.5h1M1124 607.5h2M18 608.5h1M26 608.5h1M78 608.5h1M80 608.5h1M136 608.5h1M146 608.5h1M202 608.5h1M204 608.5h1M223 608.5h1M230 608.5h1M287 608.5h1M338 608.5h1M340 608.5h1M395 608.5h1M397 608.5h3M522 608.5h1M527 608.5h5M560 608.5h1M590 608.5h1M593 608.5h2M601 608.5h2M604 608.5h2M608 608.5h3M689 608.5h1M702 608.5h1M721 608.5h1M753 608.5h1M781 608.5h1M794 608.5h1M853 608.5h1M951 608.5h1M957 608.5h1M991 608.5h1M998 608.5h1M1040 608.5h2M1045 608.5h2M1123 608.5h1M19 609.5h1M25 609.5h1M79 609.5h1M137 609.5h1M145 609.5h1M203 609.5h2M231 609.5h1M259 609.5h5M286 609.5h1M288 609.5h1M306 609.5h6M337 609.5h1M341 609.5h1M394 609.5h1M400 609.5h1M522 609.5h1M532 609.5h1M560 609.5h1M591 609.5h2M603 609.5h1M689 609.5h1M701 609.5h1M722 609.5h1M752 609.5h1M781 609.5h1M793 609.5h1M854 609.5h1M949 609.5h2M958 609.5h1M991 609.5h2M997 609.5h1M1042 609.5h3M20 610.5h1M24 610.5h1M137 610.5h1M145 610.5h1M203 610.5h1M232 610.5h2M259 610.5h1M264 610.5h1M284 610.5h2M289 610.5h1M299 610.5h7M312 610.5h1M326 610.5h3M336 610.5h1M342 610.5h1M394 610.5h1M400 610.5h1M515 610.5h1M521 610.5h1M533 610.5h2M559 610.5h1M690 610.5h1M701 610.5h1M722 610.5h1M747 610.5h2M752 610.5h1M782 610.5h1M793 610.5h1M855 610.5h1M948 610.5h1M959 610.5h1M990 610.5h1M993 610.5h1M997 610.5h1M21 611.5h2M24 611.5h1M138 611.5h1M144 611.5h1M234 611.5h2M258 611.5h1M265 611.5h1M283 611.5h1M290 611.5h3M297 611.5h2M313 611.5h1M325 611.5h1M329 611.5h7M343 611.5h2M393 611.5h1M401 611.5h1M486 611.5h2M515 611.5h2M520 611.5h1M535 611.5h8M559 611.5h1M690 611.5h1M700 611.5h1M723 611.5h1M746 611.5h1M749 611.5h3M783 611.5h1M793 611.5h1M856 611.5h2M946 611.5h2M960 611.5h1M990 611.5h1M994 611.5h1M996 611.5h1M23 612.5h1M138 612.5h1M143 612.5h1M236 612.5h6M246 612.5h5M258 612.5h1M265 612.5h1M283 612.5h1M293 612.5h4M314 612.5h1M324 612.5h1M345 612.5h9M393 612.5h1M402 612.5h1M483 612.5h3M488 612.5h1M514 612.5h1M517 612.5h2M520 612.5h1M543 612.5h1M558 612.5h1M691 612.5h1M700 612.5h1M723 612.5h1M735 612.5h1M745 612.5h1M783 612.5h1M793 612.5h1M858 612.5h3M865 612.5h2M943 612.5h3M961 612.5h1M989 612.5h1M995 612.5h1M139 613.5h1M141 613.5h2M242 613.5h4M251 613.5h1M257 613.5h1M266 613.5h1M283 613.5h1M315 613.5h2M322 613.5h2M354 613.5h6M383 613.5h2M393 613.5h1M402 613.5h1M410 613.5h2M482 613.5h1M489 613.5h1M514 613.5h1M519 613.5h1M544 613.5h1M558 613.5h1M691 613.5h9M724 613.5h1M734 613.5h1M736 613.5h2M745 613.5h1M784 613.5h1M792 613.5h1M861 613.5h4M867 613.5h1M941 613.5h2M961 613.5h1M989 613.5h1M139 614.5h2M252 614.5h1M257 614.5h1M267 614.5h1M282 614.5h1M317 614.5h1M321 614.5h1M360 614.5h1M382 614.5h1M385 614.5h3M392 614.5h1M403 614.5h7M412 614.5h1M481 614.5h1M489 614.5h1M514 614.5h1M545 614.5h1M557 614.5h1M725 614.5h2M734 614.5h1M738 614.5h3M744 614.5h1M785 614.5h1M792 614.5h1M868 614.5h1M940 614.5h1M962 614.5h1M975 614.5h1M988 614.5h1M253 615.5h1M256 615.5h1M267 615.5h1M282 615.5h1M318 615.5h1M320 615.5h1M361 615.5h1M381 615.5h1M388 615.5h1M392 615.5h1M412 615.5h1M475 615.5h2M480 615.5h1M490 615.5h1M513 615.5h1M546 615.5h1M550 615.5h2M557 615.5h1M727 615.5h1M733 615.5h1M741 615.5h3M785 615.5h1M792 615.5h1M869 615.5h1M939 615.5h1M962 615.5h1M973 615.5h2M976 615.5h1M988 615.5h1M253 616.5h1M256 616.5h1M268 616.5h1M282 616.5h1M319 616.5h1M362 616.5h1M381 616.5h1M389 616.5h3M413 616.5h1M474 616.5h1M477 616.5h3M491 616.5h2M513 616.5h1M547 616.5h3M552 616.5h1M556 616.5h1M728 616.5h1M732 616.5h1M786 616.5h1M792 616.5h1M869 616.5h1M939 616.5h1M963 616.5h1M972 616.5h1M976 616.5h1M987 616.5h1M254 617.5h2M269 617.5h1M282 617.5h1M363 617.5h2M375 617.5h2M380 617.5h1M391 617.5h1M414 617.5h1M459 617.5h1M473 617.5h1M493 617.5h4M502 617.5h2M513 617.5h1M553 617.5h2M556 617.5h1M729 617.5h2M732 617.5h1M786 617.5h1M791 617.5h1M870 617.5h1M938 617.5h1M964 617.5h1M971 617.5h1M977 617.5h1M987 617.5h1M255 618.5h1M269 618.5h1M281 618.5h1M365 618.5h3M374 618.5h1M377 618.5h3M415 618.5h1M459 618.5h2M473 618.5h1M497 618.5h5M504 618.5h1M513 618.5h1M555 618.5h1M731 618.5h1M787 618.5h5M871 618.5h1M907 618.5h2M938 618.5h1M965 618.5h1M969 618.5h2M977 618.5h1M986 618.5h1M270 619.5h1M281 619.5h1M368 619.5h1M373 619.5h1M415 619.5h1M458 619.5h1M461 619.5h1M472 619.5h1M505 619.5h2M512 619.5h1M872 619.5h1M907 619.5h1M909 619.5h3M937 619.5h1M966 619.5h1M968 619.5h1M978 619.5h1M985 619.5h1M270 620.5h1M281 620.5h1M369 620.5h2M372 620.5h1M416 620.5h1M458 620.5h1M462 620.5h1M471 620.5h1M507 620.5h1M512 620.5h1M873 620.5h1M906 620.5h1M912 620.5h2M937 620.5h1M967 620.5h1M978 620.5h1M984 620.5h1M271 621.5h1M281 621.5h1M371 621.5h1M417 621.5h1M457 621.5h1M463 621.5h1M471 621.5h1M508 621.5h1M512 621.5h1M874 621.5h1M906 621.5h1M914 621.5h2M936 621.5h1M979 621.5h5M272 622.5h1M280 622.5h1M417 622.5h1M457 622.5h1M464 622.5h1M470 622.5h1M509 622.5h3M875 622.5h2M905 622.5h1M916 622.5h2M931 622.5h2M936 622.5h1M273 623.5h2M280 623.5h1M418 623.5h1M457 623.5h1M464 623.5h1M470 623.5h1M511 623.5h1M877 623.5h1M905 623.5h1M918 623.5h3M929 623.5h2M933 623.5h3M275 624.5h1M280 624.5h1M419 624.5h1M456 624.5h1M465 624.5h1M469 624.5h1M878 624.5h1M899 624.5h1M904 624.5h1M921 624.5h4M927 624.5h2M276 625.5h1M280 625.5h1M420 625.5h2M456 625.5h1M465 625.5h1M469 625.5h1M879 625.5h1M882 625.5h3M898 625.5h1M900 625.5h1M904 625.5h1M925 625.5h2M277 626.5h3M422 626.5h1M455 626.5h1M466 626.5h1M468 626.5h1M880 626.5h2M885 626.5h4M896 626.5h2M901 626.5h3M279 627.5h1M423 627.5h1M455 627.5h1M466 627.5h1M468 627.5h1M889 627.5h7M903 627.5h1M424 628.5h2M455 628.5h1M467 628.5h1M426 629.5h9M454 629.5h1M435 630.5h2M454 630.5h1M437 631.5h3M453 631.5h1M440 632.5h3M453 632.5h1M443 633.5h2M452 633.5h1M445 634.5h2M452 634.5h1M447 635.5h5" stroke="#1e90ff" stroke-width="1" fill="none" shape-rendering="crispEdges"/>
<g shape-rendering="crispEdges">
<rect x="3" y="686" width="1" height="19" fill="#c0c0c0"/>
<rect x="7" y="683" width="1" height="22" fill="#c0c0c0"/>
<rect x="11" y="682" width="1" height="23" fill="#c0c0c0"/>
<rect x="15" y="687" width="1" height="18" fill="#c0c0c0"/>
<rect x="19" y="693" width="1" height="12" fill="#c0c0c0"/>
<rect x="23" y="701" width="1" height="4" fill="#c0c0c0"/>
<rect x="27" y="703" width="1" height="2" fill="#c0c0c0"/>
<rect x="31" y="704" width="1" height="1" fill="#c0c0c0"/>
<rect x="35" y="704" width="1" height="1" fill="#c0c0c0"/>
<rect x="39" y="701" width="1" height="4" fill="#c0c0c0"/>
<rect x="43" y="697" width="1" height="8" fill="#c0c0c0"/>
<rect x="47" y="695" width="1" height="10" fill="#c0c0c0"/>
<rect x="51" y="694" width="1" height="11" fill="#c0c0c0"/>
<rect x="55" y="694" width="1" height="11" fill="#c0c0c0"/>
<rect x="59" y="695" width="1" height="10" fill="#c0c0c0"/>
<rect x="63" y="697" width="1" height="8" fill="#c0c0c0"/>
<rect x="67" y="699" width="1" height="6" fill="#c0c0c0"/>
<rect x="71" y="702" width="1" height="3" fill="#c0c0c0"/>
<rect x="75" y="703" width="1" height="2" fill="#c0c0c0"/>
<rect x="79" y="704" width="1" height="1" fill="#c0c0c0"/>
<rect x="83" y="704" width="1" height="2" fill="#c0c0c0"/>
<rect x="87" y="704" width="1" height="2" fill="#c0c0c0"/>
<rect x="91" y="704" width="1" height="1" fill="#c0c0c0"/>
<rect x="95" y="704" width="1" height="1" fill="#c0c0c0"/>
<rect x="99" y="704" width="1" height="1" fill="#c0c0c0"/>
<rect x="103" y="704" width="1" height="1" fill="#c0c0c0"/>
<rect x="107" y="703" width="1" height="2" fill="#c0c0c0"/>
<rect x="111" y="702" width="1" height="3" fill="#c0c0c0"/>
<rect x="115" y="700" width="1" height="5" fill="#c0c0c0"/>
<rect x="119" y="698" width="1" height="7" fill="#c0c0c0"/>
<rect x="123" y="697" width="1" height="8" fill="#c0c0c0"/>
<rect x="127" y="697" width="1" height="8" fill="#c0c0c0"/>
<rect x="131" y="696" width="1" height="9" fill="#c0c0c0"/>
<rect x="135" y="699" width="1" height="6" fill="#c0c0c0"/>
<rect x="139" y="703" width="1" height="2" fill="#c0c0c0"/>
<rect x="143" y="704" width="1" height="2" fill="#c0c0c0"/>
<rect x="147" y="704" width="1" height="3" fill="#c0c0c0"/>
<rect x="151" y="704" width="1" height="2" fill="#c0c0c0"/>
<rect x="155" y="703" width="1" height="2" fill="#c0c0c0"/>
<rect x="159" y="701" width="1" height="4" fill="#c0c0c0"/>
<rect x="163" y="702" width="1" height="3" fill="#c0c0c0"/>
<rect x="167" y="702" width="1" height="3" fill="#c0c0c0"/>
<rect x="171" y="703" width="1" height="2" fill="#c0c0c0"/>
<rect x="175" y="703" width="1" height="2" fill="#c0c0c0"/>
<rect x="179" y="703" width="1" height="2" fill="#c0c0c0"/>
<rect x="183" y="702" width="1" height="3" fill="#c0c0c0"/>
<rect x="187" y="701" width="1" height="4" fill="#c0c0c0"/>
<rect x="191" y="702" width="1" height="3" fill="#c0c0c0"/>
<rect x="195" y="703" width="1" height="2" fill="#c0c0c0"/>
<rect x="199" y="701" width="1" height="4" fill="#c0c0c0"/>
<rect x="203" y="703" width="1" height="2" fill="#c0c0c0"/>
<rect x="207" y="704" width="1" height="1" fill="#c0c0c0"/>
<rect x="211" y="703" width="1" height="2" fill="#c0c0c0"/>
<rect x="215" y="702" width="1" height="3" fill="#c0c0c0"/>
<rect x="219" y="702" width="1" height="3" fill="#c0c0c0"/>
<rect x="223" y="704" width="1" height="1" fill="#c0c0c0"/>
<rect x="227" y="703" width="1" height="2" fill="#c0c0c0"/>
<rect x="231" y="704" width="1" height="4" fill="#c0c0c0"/>
<rect x="235" y="704" width="1" height="6" fill="#c0c0c0"/>
<rect x="239" y="704" width="1" height="8" fill="#c0c0c0"/>
<rect x="243" y="704" width="1" height="9" fill="#c0c0c0"/>
<rect x="247" y="704" width="1" height="10" fill="#c0c0c0"/>
<rect x="251" y="704" width="1" height="11" fill="#c0c0c0"/>
<rect x="255" y="704" width="1" height="14" fill="#c0c0c0"/>
<rect x="259" y="704" width="1" height="13" fill="#c0c0c0"/>
<rect x="263" y="704" width="1" height="12" fill="#c0c0c0"/>
<rect x="267" y="704" width="1" height="13" fill="#c0c0c0"/>
<rect x="271" y="704" width="1" height="17" fill="#c0c0c0"/>
<rect x="275" y="704" width="1" height="22" fill="#c0c0c0"/>
<rect x="279" y="704" width="1" height="27" fill="#c0c0c0"/>
<rect x="283" y="704" width="1" height="26" fill="#c0c0c0"/>
<rect x="287" y="704" width="1" height="25" fill="#c0c0c0"/>
<rect x="291" y="704" width="1" height="24" fill="#c0c0c0"/>
<rect x="295" y="704" width="1" height="24" fill="#c0c0c0"/>
<rect x="299" y="704" width="1" height="23" fill="#c0c0c0"/>
<rect x="303" y="704" width="1" height="22" fill="#c0c0c0"/>
<rect x="307" y="704" width="1" height="21" fill="#c0c0c0"/>
<rect x="311" y="704" width="1" height="20" fill="#c0c0c0"/>
<rect x="315" y="704" width="1" height="20" fill="#c0c0c0"/>
<rect x="319" y="704" width="1" height="21" fill="#c0c0c0"/>
<rect x="323" y="704" width="1" height="21" fill="#c0c0c0"/>
<rect x="327" y="704" width="1" height="20" fill="#c0c0c0"/>
<rect x="331" y="704" width="1" height="19" fill="#c0c0c0"/>
<rect x="335" y="704" width="1" height="18" fill="#c0c0c0"/>
<rect x="339" y="704" width="1" height="17" fill="#c0c0c0"/>
<rect x="343" y="704" width="1" height="16" fill="#c0c0c0"/>
<rect x="347" y="704" width="1" height="16" fill="#c0c0c0"/>
<rect x="351" y="704" width="1" height="16" fill="#c0c0c0"/>
<rect x="355" y="704" width="1" height="17" fill="#c0c0c0"/>
<rect x="359" y="704" width="1" height="17" fill="#c0c0c0"/>
<rect x="363" y="704" width="1" height="17" fill="#c0c0c0"/>
<rect x="367" y="704" width="1" height="18" fill="#c0c0c0"/>
<rect x="371" y="704" width="1" height="19" fill="#c0c0c0"/>
<rect x="375" y="704" width="1" height="19" fill="#c0c0c0"/>
<rect x="379" y="704" width="1" height="18" fill="#c0c0c0"/>
<rect x="383" y="704" width="1" height="18" fill="#c0c0c0"/>
<rect x="387" y="704" width="1" height="17" fill="#c0c0c0"/>
<rect x="391" y="704" width="1" height="17" fill="#c0c0c0"/>
<rect x="395" y="704" width="1" height="16" fill="#c0c0c0"/>
<rect x="399" y="704" width="1" height="15" fill="#c0c0c0"/>
<rect x="403" y="704" width="1" height="15" fill="#c0c0c0"/>
<rect x="407" y="704" width="1" height="15" fill="#c0c0c0"/>
<rect x="411" y="704" width="1" height="16" fill="#c0c0c0"/>
<rect x="415" y="704" width="1" height="18" fill="#c0c0c0"/>
<rect x="419" y="704" width="1" height="19" fill="#c0c0c0"/>
<rect x="423" y="704" width="1" height="23" fill="#c0c0c0"/>
<rect x="427" y="704" width="1" height="26" fill="#c0c0c0"/>
<rect x="431" y="704" width="1" height="29" fill="#c0c0c0"/>
<rect x="435" y="704" width="1" height="30" fill="#c0c0c0"/>
<rect x="439" y="704" width="1" height="33" fill="#c0c0c0"/>
<rect x="443" y="704" width="1" height="36" fill="#c0c0c0"/>
<rect x="447" y="704" width="1" height="39" fill="#c0c0c0"/>
<rect x="451" y="704" width="1" height="40" fill="#c0c0c0"/>
<rect x="455" y="704" width="1" height="40" fill="#c0c0c0"/>
<rect x="459" y="704" width="1" height="38" fill="#c0c0c0"/>
<rect x="463" y="704" width="1" height="38" fill="#c0c0c0"/>
<rect x="467" y="704" width="1" height="39" fill="#c0c0c0"/>
<rect x="471" y="704" width="1" height="38" fill="#c0c0c0"/>
<rect x="475" y="704" width="1" height="37" fill="#c0c0c0"/>
<rect x="479" y="704" width="1" height="35" fill="#c0c0c0"/>
<rect x="483" y="704" width="1" height="33" fill="#c0c0c0"/>
<rect x="487" y="704" width="1" height="31" fill="#c0c0c0"/>
<rect x="491" y="704" width="1" height="30" fill="#c0c0c0"/>
<rect x="495" y="704" width="1" height="30" fill="#c0c0c0"/>
<rect x="499" y="704" width="1" height="30" fill="#c0c0c0"/>
<rect x="503" y="704" width="1" height="30" fill="#c0c0c0"/>
<rect x="507" y="704" width="1" height="30" fill="#c0c0c0"/>
<rect x="511" y="704" width="1" height="30" fill="#c0c0c0"/>
<rect x="515" y="704" width="1" height="28" fill="#c0c0c0"/>
<rect x="519" y="704" width="1" height="26" fill="#c0c0c0"/>
<rect x="523" y="704" width="1" height="24" fill="#c0c0c0"/>
<rect x="527" y="704" width="1" height="22" fill="#c0c0c0"/>
<rect x="531" y="704" width="1" height="19" fill="#c0c0c0"/>
<rect x="535" y="704" width="1" height="19" fill="#c0c0c0"/>
<rect x="539" y="704" width="1" height="19" fill="#c0c0c0"/>
<rect x="543" y="704" width="1" height="19" fill="#c0c0c0"/>
<rect x="547" y="704" width="1" height="20" fill="#c0c0c0"/>
<rect x="551" y="704" width="1" height="20" fill="#c0c0c0"/>
<rect x="555" y="704" width="1" height="21" fill="#c0c0c0"/>
<rect x="559" y="704" width="1" height="19" fill="#c0c0c0"/>
<rect x="563" y="704" width="1" height="16" fill="#c0c0c0"/>
<rect x="567" y="704" width="1" height="14" fill="#c0c0c0"/>
<rect x="571" y="704" width="1" height="11" fill="#c0c0c0"/>
<rect x="575" y="704" width="1" height="9" fill="#c0c0c0"/>
<rect x="579" y="704" width="1" height="7" fill="#c0c0c0"/>
<rect x="583" y="704" width="1" height="3" fill="#c0c0c0"/>
<rect x="587" y="704" width="1" height="3" fill="#c0c0c0"/>
<rect x="591" y="704" width="1" height="4" fill="#c0c0c0"/>
<rect x="595" y="704" width="1" height="5" fill="#c0c0c0"/>
<rect x="599" y="704" width="1" height="5" fill="#c0c0c0"/>
<rect x="603" y="704" width="1" height="5" fill="#c0c0c0"/>
<rect x="607" y="704" width="1" height="6" fill="#c0c0c0"/>
<rect x="611" y="704" width="1" height="6" fill="#c0c0c0"/>
<rect x="615" y="704" width="1" height="5" fill="#c0c0c0"/>
<rect x="619" y="704" width="1" height="5" fill="#c0c0c0"/>
<rect x="623" y="704" width="1" height="5" fill="#c0c0c0"/>
<rect x="627" y="704" width="1" height="3" fill="#c0c0c0"/>
<rect x="631" y="703" width="1" height="2" fill="#c0c0c0"/>
<rect x="635" y="698" width="1" height="7" fill="#c0c0c0"/>
<rect x="639" y="694" width="1" height="11" fill="#c0c0c0"/>
<rect x="643" y="690" width="1" height="15" fill="#c0c0c0"/>
<rect x="647" y="688" width="1" height="17" fill="#c0c0c0"/>
<rect x="651" y="688" width="1" height="17" fill="#c0c0c0"/>
<rect x="655" y="688" width="1" height="17" fill="#c0c0c0"/>
<rect x="659" y="690" width="1" height="15" fill="#c0c0c0"/>
<rect x="663" y="692" width="1" height="13" fill="#c0c0c0"/>
<rect x="667" y="693" width="1" height="12" fill="#c0c0c0"/>
<rect x="671" y="694" width="1" height="11" fill="#c0c0c0"/>
<rect x="675" y="696" width="1" height="9" fill="#c0c0c0"/>
<rect x="679" y="698" width="1" height="7" fill="#c0c0c0"/>
<rect x="683" y="699" width="1" height="6" fill="#c0c0c0"/>
<rect x="687" y="700" width="1" height="5" fill="#c0c0c0"/>
<rect x="691" y="703" width="1" height="2" fill="#c0c0c0"/>
<rect x="695" y="704" width="1" height="1" fill="#c0c0c0"/>
<rect x="699" y="704" width="1" height="5" fill="#c0c0c0"/>
<rect x="703" y="704" width="1" height="5" fill="#c0c0c0"/>
<rect x="707" y="704" width="1" height="4" fill="#c0c0c0"/>
<rect x="711" y="704" width="1" height="5" fill="#c0c0c0"/>
<rect x="715" y="704" width="1" height="4" fill="#c0c0c0"/>
<rect x="719" y="704" width="1" height="4" fill="#c0c0c0"/>
<rect x="723" y="704" width="1" height="6" fill="#c0c0c0"/>
<rect x="727" y="704" width="1" height="7" fill="#c0c0c0"/>
<rect x="731" y="704" width="1" height="11" fill="#c0c0c0"/>
<rect x="735" y="704" width="1" height="11" fill="#c0c0c0"/>
<rect x="739" y="704" width="1" height="12" fill="#c0c0c0"/>
<rect x="743" y="704" width="1" height="13" fill="#c0c0c0"/>
<rect x="747" y="704" width="1" height="13" fill="#c0c0c0"/>
<rect x="751" y="704" width="1" height="13" fill="#c0c0c0"/>
<rect x="755" y="704" width="1" height="12" fill="#c0c0c0"/>
<rect x="759" y="704" width="1" height="8" fill="#c0c0c0"/>
<rect x="763" y="704" width="1" height="5" fill="#c0c0c0"/>
<rect x="767" y="704" width="1" height="3" fill="#c0c0c0"/>
<rect x="771" y="704" width="1" height="1" fill="#c0c0c0"/>
<rect x="775" y="704" width="1" height="1" fill="#c0c0c0"/>
<rect x="779" y="704" width="1" height="2" fill="#c0c0c0"/>
<rect x="783" y="704" width="1" height="4" fill="#c0c0c0"/>
<rect x="787" y="704" width="1" height="8" fill="#c0c0c0"/>
<rect x="791" y="704" width="1" height="10" fill="#c0c0c0"/>
<rect x="795" y="704" width="1" height="8" fill="#c0c0c0"/>
<rect x="799" y="704" width="1" height="6" fill="#c0c0c0"/>
<rect x="803" y="704" width="1" height="4" fill="#c0c0c0"/>
<rect x="807" y="704" width="1" height="1" fill="#c0c0c0"/>
<rect x="811" y="704" width="1" height="1" fill="#c0c0c0"/>
<rect x="815" y="704" width="1" height="1" fill="#c0c0c0"/>
<rect x="819" y="704" width="1" height="1" fill="#c0c0c0"/>
<rect x="823" y="704" width="1" height="1" fill="#c0c0c0"/>
<rect x="827" y="704" width="1" height="1" fill="#c0c0c0"/>
<rect x="831" y="704" width="1" height="1" fill="#c0c0c0"/>
<rect x="835" y="704" width="1" height="1" fill="#c0c0c0"/>
<rect x="839" y="704" width="1" height="1" fill="#c0c0c0"/>
<rect x="843" y="703" width="1" height="2" fill="#c0c0c0"/>
<rect x="847" y="704" width="1" height="1" fill="#c0c0c0"/>
<rect x="851" y="704" width="1" height="1" fill="#c0c0c0"/>
<rect x="855" y="704" width="1" height="2" fill="#c0c0c0"/>
<rect x="859" y="704" width="1" height="5" fill="#c0c0c0"/>
<rect x="863" y="704" width="1" height="6" fill="#c0c0c0"/>
<rect x="867" y="704" width="1" height="8" fill="#c0c0c0"/>
<rect x="871" y="704" width="1" height="9" fill="#c0c0c0"/>
<rect x="875" y="704" width="1" height="12" fill="#c0c0c0"/>
<rect x="879" y="704" width="1" height="17" fill="#c0c0c0"/>
<rect x="883" y="704" width="1" height="20" fill="#c0c0c0"/>
<rect x="887" y="704" width="1" height="24" fill="#c0c0c0"/>
<rect x="891" y="704" width="1" height="25" fill="#c0c0c0"/>
<rect x="895" y="704" width="1" height="27" fill="#c0c0c0"/>
<rect x="899" y="704" width="1" height="28" fill="#c0c0c0"/>
<rect x="903" y="704" width="1" height="29" fill="#c0c0c0"/>
<rect x="907" y="704" width="1" height="28" fill="#c0c0c0"/>
<rect x="911" y="704" width="1" height="28" fill="#c0c0c0"/>
<rect x="915" y="704" width="1" height="28" fill="#c0c0c0"/>
<rect x="919" y="704" width="1" height="28" fill="#c0c0c0"/>
<rect x="923" y="704" width="1" height="29" fill="#c0c0c0"/>
<rect x="927" y="704" width="1" height="28" fill="#c0c0c0"/>
<rect x="931" y="704" width="1" height="28" fill="#c0c0c0"/>
<rect x="935" y="704" width="1" height="28" fill="#c0c0c0"/>
<rect x="939" y="704" width="1" height="26" fill="#c0c0c0"/>
<rect x="943" y="704" width="1" height="24" fill="#c0c0c0"/>
<rect x="947" y="704" width="1" height="22" fill="#c0c0c0"/>
<rect x="951" y="704" width="1" height="19" fill="#c0c0c0"/>
<rect x="955" y="704" width="1" height="17" fill="#c0c0c0"/>
<rect x="959" y="704" width="1" height="15" fill="#c0c0c0"/>
<rect x="963" y="704" width="1" height="15" fill="#c0c0c0"/>
<rect x="967" y="704" width="1" height="16" fill="#c0c0c0"/>
<rect x="971" y="704" width="1" height="17" fill="#c0c0c0"/>
<rect x="975" y="704" width="1" height="18" fill="#c0c0c0"/>
<rect x="979" y="704" width="1" height="19" fill="#c0c0c0"/>
<rect x="983" y="704" width="1" height="19" fill="#c0c0c0"/>
<rect x="987" y="704" width="1" height="19" fill="#c0c0c0"/>
<rect x="991" y="704" width="1" height="18" fill="#c0c0c0"/>
<rect x="995" y="704" width="1" height="17" fill="#c0c0c0"/>
<rect x="999" y="704" width="1" height="15" fill="#c0c0c0"/>
<rect x="1003" y="704" width="1" height="11" fill="#c0c0c0"/>
<rect x="1007" y="704" width="1" height="8" fill="#c0c0c0"/>
<rect x="1011" y="704" width="1" height="7" fill="#c0c0c0"/>
<rect x="1015" y="704" width="1" height="6" fill="#c0c0c0"/>
<rect x="1019" y="704" width="1" height="5" fill="#c0c0c0"/>
<rect x="1023" y="704" width="1" height="3" fill="#c0c0c0"/>
<rect x="1027" y="704" width="1" height="2" fill="#c0c0c0"/>
<rect x="1031" y="704" width="1" height="1" fill="#c0c0c0"/>
<rect x="1035" y="704" width="1" height="1" fill="#c0c0c0"/>
<rect x="1039" y="704" width="1" height="1" fill="#c0c0c0"/>
<rect x="1043" y="704" width="1" height="1" fill="#c0c0c0"/>
<rect x="1047" y="704" width="1" height="1" fill="#c0c0c0"/>
<rect x="1051" y="704" width="1" height="1" fill="#c0c0c0"/>
<rect x="1055" y="704" width="1" height="1" fill="#c0c0c0"/>
<rect x="1059" y="704" width="1" height="1" fill="#c0c0c0"/>
<rect x="1063" y="704" width="1" height="1" fill="#c0c0c0"/>
<rect x="1067" y="704" width="1" height="1" fill="#c0c0c0"/>
<rect x="1071" y="704" width="1" height="1" fill="#c0c0c0"/>
<rect x="1075" y="702" width="1" height="3" fill="#c0c0c0"/>
<rect x="1079" y="699" width="1" height="6" fill="#c0c0c0"/>
<rect x="1083" y="696" width="1" height="9" fill="#c0c0c0"/>
<rect x="1087" y="693" width="1" height="12" fill="#c0c0c0"/>
<rect x="1091" y="692" width="1" height="13" fill="#c0c0c0"/>
<rect x="1095" y="691" width="1" height="14" fill="#c0c0c0"/>
<rect x="1099" y="691" width="1" height="14" fill="#c0c0c0"/>
<rect x="1103" y="693" width="1" height="12" fill="#c0c0c0"/>
<rect x="1107" y="695" width="1" height="10" fill="#c0c0c0"/>
<rect x="1111" y="698" width="1" height="7" fill="#c0c0c0"/>
<rect x="1115" y="700" width="1" height="5" fill="#c0c0c0"/>
<rect x="1119" y="702" width="1" height="3" fill="#c0c0c0"/>
<rect x="1123" y="703" width="1" height="2" fill="#c0c0c0"/>
<rect x="1127" y="703" width="1" height="2" fill="#c0c0c0"/>
<rect x="1131" y="702" width="1" height="3" fill="#c0c0c0"/>
<rect x="1135" y="699" width="1" height="6" fill="#c0c0c0"/>
<rect x="1139" y="699" width="1" height="6" fill="#c0c0c0"/>
<rect x="1143" y="699" width="1" height="6" fill="#c0c0c0"/>
<rect x="1147" y="699" width="1" height="6" fill="#c0c0c0"/>
<rect x="1151" y="698" width="1" height="7" fill="#c0c0c0"/>
<rect x="1155" y="694" width="1" height="11" fill="#c0c0c0"/>
<rect x="1159" y="693" width="1" height="12" fill="#c0c0c0"/>
<rect x="1163" y="691" width="1" height="14" fill="#c0c0c0"/>
<rect x="1167" y="689" width="1" height="16" fill="#c0c0c0"/>
<rect x="1171" y="685" width="1" height="20" fill="#c0c0c0"/>
<rect x="1175" y="683" width="1" height="22" fill="#c0c0c0"/>
<rect x="1179" y="680" width="1" height="25" fill="#c0c0c0"/>
<rect x="1183" y="675" width="1" height="30" fill="#c0c0c0"/>
<rect x="1187" y="669" width="1" height="36" fill="#c0c0c0"/>
<rect x="1191" y="666" width="1" height="39" fill="#c0c0c0"/>
<rect x="1195" y="661" width="1" height="44" fill="#c0c0c0"/>
<rect x="1199" y="659" width="1" height="46" fill="#c0c0c0"/>
<rect x="1203" y="659" width="1" height="46" fill="#c0c0c0"/>
<rect x="1207" y="661" width="1" height="44" fill="#c0c0c0"/>
<rect x="1211" y="663" width="1" height="42" fill="#c0c0c0"/>
<rect x="1215" y="664" width="1" height="41" fill="#c0c0c0"/>
<rect x="1219" y="665" width="1" height="40" fill="#c0c0c0"/>
<rect x="1223" y="668" width="1" height="37" fill="#c0c0c0"/>
<rect x="1227" y="670" width="1" height="35" fill="#c0c0c0"/>
<rect x="1231" y="672" width="1" height="33" fill="#c0c0c0"/>
<rect x="1235" y="673" width="1" height="32" fill="#c0c0c0"/>
<rect x="1239" y="674" width="1" height="31" fill="#c0c0c0"/>
<rect x="1243" y="678" width="1" height="27" fill="#c0c0c0"/>
<rect x="1247" y="678" width="1" height="27" fill="#c0c0c0"/>
<rect x="1251" y="677" width="1" height="28" fill="#c0c0c0"/>
<rect x="1255" y="676" width="1" height="29" fill="#c0c0c0"/>
</g>
<path d="M1220 662.5h3M1226 662.5h3M1214 663.5h3M1232 664.5h2M1210 665.5h1M1234 665.5h1M1208 666.5h2M1238 667.5h2M1240 668.5h1M1204 669.5h1M1244 669.5h1M1203 670.5h1M1245 670.5h2M1202 671.5h1M1250 672.5h3M1198 674.5h1M1197 675.5h1M1196 676.5h1M1192 679.5h1M1191 680.5h1M1190 681.5h1M1186 684.5h1M1184 685.5h2M1180 688.5h1M1179 689.5h1M670 690.5h1M674 690.5h3M1178 690.5h1M26 691.5h3M32 691.5h1M668 691.5h2M680 691.5h2M20 692.5h3M33 692.5h2M662 692.5h3M682 692.5h1M1173 692.5h2M686 693.5h2M1106 693.5h3M1112 693.5h3M1172 693.5h1M657 694.5h2M688 694.5h1M1118 694.5h3M38 695.5h3M656 695.5h1M1101 695.5h2M1124 695.5h1M1167 695.5h2M16 696.5h1M70 696.5h1M692 696.5h2M1100 696.5h1M1125 696.5h2M1166 696.5h1M15 697.5h1M44 697.5h2M62 697.5h3M68 697.5h2M74 697.5h3M652 697.5h1M694 697.5h1M1162 697.5h1M14 698.5h1M46 698.5h1M58 698.5h1M80 698.5h2M651 698.5h1M1095 698.5h2M1130 698.5h3M1160 698.5h2M14 699.5h1M50 699.5h3M56 699.5h2M82 699.5h1M134 699.5h3M140 699.5h3M146 699.5h3M650 699.5h1M698 699.5h3M1094 699.5h1M1136 699.5h3M1154 699.5h3M86 700.5h2M130 700.5h1M152 700.5h1M1090 700.5h1M1142 700.5h3M1148 700.5h3M88 701.5h1M128 701.5h2M153 701.5h2M188 701.5h3M194 701.5h3M200 701.5h3M704 701.5h2M1088 701.5h2M92 702.5h1M118 702.5h1M122 702.5h3M158 702.5h3M164 702.5h1M182 702.5h3M206 702.5h3M212 702.5h3M218 702.5h3M645 702.5h2M706 702.5h1M93 703.5h2M116 703.5h2M165 703.5h2M170 703.5h3M176 703.5h3M224 703.5h3M230 703.5h3M644 703.5h1M1082 703.5h3M98 704.5h3M104 704.5h3M110 704.5h3M236 704.5h1M639 704.5h2M710 704.5h3M830 704.5h3M836 704.5h3M842 704.5h3M848 704.5h3M854 704.5h3M860 704.5h1M1078 704.5h1M10 705.5h1M237 705.5h2M638 705.5h1M716 705.5h1M826 705.5h1M861 705.5h2M1054 705.5h1M1076 705.5h2M10 706.5h1M242 706.5h3M717 706.5h2M824 706.5h2M866 706.5h3M1046 706.5h3M1052 706.5h2M1058 706.5h3M1064 706.5h3M1070 706.5h3M9 707.5h1M248 707.5h1M633 707.5h2M722 707.5h3M872 707.5h1M1042 707.5h1M9 708.5h1M249 708.5h2M608 708.5h3M614 708.5h3M620 708.5h1M632 708.5h1M782 708.5h3M788 708.5h3M794 708.5h3M800 708.5h3M806 708.5h3M812 708.5h3M818 708.5h3M873 708.5h2M1040 708.5h2M8 709.5h1M602 709.5h3M621 709.5h2M626 709.5h3M728 709.5h2M778 709.5h1M1035 709.5h2M254 710.5h3M598 710.5h1M730 710.5h1M734 710.5h3M776 710.5h2M878 710.5h2M1034 710.5h1M596 711.5h2M740 711.5h1M880 711.5h1M1030 711.5h1M260 712.5h2M741 712.5h2M746 712.5h2M770 712.5h3M1028 712.5h2M262 713.5h1M591 713.5h2M748 713.5h1M766 713.5h1M4 714.5h1M266 714.5h3M590 714.5h1M752 714.5h1M764 714.5h2M884 714.5h2M1022 714.5h3M4 715.5h1M753 715.5h2M758 715.5h3M886 715.5h1M3 716.5h1M272 716.5h2M585 716.5h2M1017 716.5h2M274 717.5h1M584 717.5h1M890 717.5h1M1016 717.5h1M891 718.5h1M1010 718.5h3M278 719.5h2M578 719.5h3M892 719.5h1M1006 719.5h1M280 720.5h1M362 720.5h3M368 720.5h1M406 720.5h1M410 720.5h3M416 720.5h3M422 720.5h3M574 720.5h1M1004 720.5h2M356 721.5h3M369 721.5h2M374 721.5h3M398 721.5h3M404 721.5h2M428 721.5h1M572 721.5h2M896 721.5h2M974 721.5h3M980 721.5h3M986 721.5h3M992 721.5h3M998 721.5h3M284 722.5h2M344 722.5h3M350 722.5h3M380 722.5h3M386 722.5h3M392 722.5h3M429 722.5h2M566 722.5h3M898 722.5h1M970 722.5h1M286 723.5h1M334 723.5h1M338 723.5h3M560 723.5h3M968 723.5h2M290 724.5h3M332 724.5h2M434 724.5h2M550 724.5h1M554 724.5h3M902 724.5h1M963 724.5h2M296 725.5h1M322 725.5h1M326 725.5h3M436 725.5h1M548 725.5h2M903 725.5h1M962 725.5h1M297 726.5h2M320 726.5h2M904 726.5h1M958 726.5h1M302 727.5h3M308 727.5h3M314 727.5h3M440 727.5h1M542 727.5h3M956 727.5h2M441 728.5h2M538 728.5h1M908 728.5h2M536 729.5h2M910 729.5h1M950 729.5h3M530 730.5h3M914 730.5h3M944 730.5h3M446 731.5h2M526 731.5h1M920 731.5h3M926 731.5h3M932 731.5h3M938 731.5h3M448 732.5h1M524 732.5h2M518 733.5h3M514 734.5h1M452 735.5h2M512 735.5h2M454 736.5h1M506 736.5h3M501 737.5h2M458 738.5h2M495 738.5h2M500 738.5h1M460 739.5h1M494 739.5h1M464 740.5h1M490 740.5h1M465 741.5h2M488 741.5h2M470 742.5h3M482 742.5h3M476 743.5h3" stroke="#ff0000" stroke-width="1" fill="none" shape-rendering="crispEdges"/>
<g shape-rendering="crispEdges" fill="#000">
<rect x="1580" y="55" width="2" height="1"/>
<rect x="1580" y="88" width="2" height="1"/>
<rect x="1580" y="121" width="2" height="1"/>
<rect x="1580" y="154" width="2" height="1"/>
<rect x="1580" y="187" width="2" height="1"/>
<rect x="1580" y="220" width="2" height="1"/>
<rect x="1580" y="253" width="2" height="1"/>
<rect x="1580" y="286" width="2" height="1"/>
<rect x="1580" y="319" width="2" height="1"/>
<rect x="1580" y="352" width="2" height="1"/>
<rect x="1580" y="385" width="2" height="1"/>
<rect x="1580" y="418" width="2" height="1"/>
<rect x="1580" y="451" width="2" height="1"/>
<rect x="1580" y="484" width="2" height="1"/>
<rect x="1580" y="517" width="2" height="1"/>
<rect x="1580" y="550" width="2" height="1"/>
<rect x="1580" y="555" width="1" height="1"/>
<rect x="1580" y="651" width="1" height="1"/>
<rect x="1580" y="653" width="1" height="1"/>
<rect x="1580" y="704" width="1" height="1"/>
<rect x="1580" y="749" width="1" height="1"/>
</g>
<text transform="translate(1585,59) skewX(0.05)" font-family="Liberation Sans, sans-serif" font-size="10.0" fill="#000" stroke="#000" stroke-width="0.2" textLength="32.4" lengthAdjust="spacingAndGlyphs">0.98800</text>
<text transform="translate(1585,92) skewX(0.05)" font-family="Liberation Sans, sans-serif" font-size="10.0" fill="#000" stroke="#000" stroke-width="0.2" textLength="32.4" lengthAdjust="spacingAndGlyphs">0.98040</text>
<text transform="translate(1585,125) skewX(0.05)" font-family="Liberation Sans, sans-serif" font-size="10.0" fill="#000" stroke="#000" stroke-width="0.2" textLength="32.4" lengthAdjust="spacingAndGlyphs">0.97280</text>
<text transform="translate(1585,158) skewX(0.05)" font-family="Liberation Sans, sans-serif" font-size="10.0" fill="#000" stroke="#000" stroke-width="0.2" textLength="32.4" lengthAdjust="spacingAndGlyphs">0.96500</text>
<text transform="translate(1585,191) skewX(0.05)" font-family="Liberation Sans, sans-serif" font-size="10.0" fill="#000" stroke="#000" stroke-width="0.2" textLength="32.4" lengthAdjust="spacingAndGlyphs">0.95740</text>
<text transform="translate(1585,224) skewX(0.05)" font-family="Liberation Sans, sans-serif" font-size="10.0" fill="#000" stroke="#000" stroke-width="0.2" textLength="32.4" lengthAdjust="spacingAndGlyphs">0.94980</text>
<text transform="translate(1585,257) skewX(0.05)" font-family="Liberation Sans, sans-serif" font-size="10.0" fill="#000" stroke="#000" stroke-width="0.2" textLength="32.4" lengthAdjust="spacingAndGlyphs">0.94220</text>
<text transform="translate(1585,290) skewX(0.05)" font-family="Liberation Sans, sans-serif" font-size="10.0" fill="#000" stroke="#000" stroke-width="0.2" textLength="32.4" lengthAdjust="spacingAndGlyphs">0.93460</text>
<text transform="translate(1585,323) skewX(0.05)" font-family="Liberation Sans, sans-serif" font-size="10.0" fill="#000" stroke="#000" stroke-width="0.2" textLength="32.4" lengthAdjust="spacingAndGlyphs">0.92680</text>
<text transform="translate(1585,356) skewX(0.05)" font-family="Liberation Sans, sans-serif" font-size="10.0" fill="#000" stroke="#000" stroke-width="0.2" textLength="32.4" lengthAdjust="spacingAndGlyphs">0.91920</text>
<text transform="translate(1585,389) skewX(0.05)" font-family="Liberation Sans, sans-serif" font-size="10.0" fill="#000" stroke="#000" stroke-width="0.2" textLength="32.4" lengthAdjust="spacingAndGlyphs">0.91160</text>
<text transform="translate(1585,422) skewX(0.05)" font-family="Liberation Sans, sans-serif" font-size="10.0" fill="#000" stroke="#000" stroke-width="0.2" textLength="32.4" lengthAdjust="spacingAndGlyphs">0.90400</text>
<text transform="translate(1585,455) skewX(0.05)" font-family="Liberation Sans, sans-serif" font-size="10.0" fill="#000" stroke="#000" stroke-width="0.2" textLength="32.4" lengthAdjust="spacingAndGlyphs">0.89620</text>
<text transform="translate(1585,488) skewX(0.05)" font-family="Liberation Sans, sans-serif" font-size="10.0" fill="#000" stroke="#000" stroke-width="0.2" textLength="32.4" lengthAdjust="spacingAndGlyphs">0.88860</text>
<text transform="translate(1585,521) skewX(0.05)" font-family="Liberation Sans, sans-serif" font-size="10.0" fill="#000" stroke="#000" stroke-width="0.2" textLength="32.4" lengthAdjust="spacingAndGlyphs">0.88100</text>
<text transform="translate(1585,554) skewX(0.05)" font-family="Liberation Sans, sans-serif" font-size="10.0" fill="#000" stroke="#000" stroke-width="0.2" textLength="32.4" lengthAdjust="spacingAndGlyphs">0.87340</text>
<rect x="1581" y="228" width="41" height="11" fill="#ff0000" shape-rendering="crispEdges"/>
<text transform="translate(1585,237) skewX(0.05)" font-family="Liberation Sans, sans-serif" font-size="10.0" fill="#fff" stroke="#fff" stroke-width="0.2" textLength="32.4" lengthAdjust="spacingAndGlyphs">0.94651</text>
<rect x="1581" y="275" width="41" height="11" fill="#000" shape-rendering="crispEdges"/>
<text transform="translate(1585,284) skewX(0.05)" font-family="Liberation Sans, sans-serif" font-size="10.0" fill="#fff" stroke="#fff" stroke-width="0.2" textLength="32.4" lengthAdjust="spacingAndGlyphs">0.93582</text>
<rect x="1581" y="300" width="41" height="11" fill="#ff0000" shape-rendering="crispEdges"/>
<text transform="translate(1585,309) skewX(0.05)" font-family="Liberation Sans, sans-serif" font-size="10.0" fill="#fff" stroke="#fff" stroke-width="0.2" textLength="32.4" lengthAdjust="spacingAndGlyphs">0.93001</text>
<rect x="1581" y="355" width="41" height="11" fill="#00ff00" shape-rendering="crispEdges"/>
<text transform="translate(1585,364) skewX(0.05)" font-family="Liberation Sans, sans-serif" font-size="10.0" fill="#fff" stroke="#fff" stroke-width="0.2" textLength="32.4" lengthAdjust="spacingAndGlyphs">0.91709</text>
<rect x="1581" y="427" width="41" height="11" fill="#0000ff" shape-rendering="crispEdges"/>
<text transform="translate(1585,436) skewX(0.05)" font-family="Liberation Sans, sans-serif" font-size="10.0" fill="#fff" stroke="#fff" stroke-width="0.2" textLength="32.4" lengthAdjust="spacingAndGlyphs">0.90055</text>
<rect x="1581" y="485" width="41" height="11" fill="#0000ff" shape-rendering="crispEdges"/>
<text transform="translate(1585,494) skewX(0.05)" font-family="Liberation Sans, sans-serif" font-size="10.0" fill="#fff" stroke="#fff" stroke-width="0.2" textLength="32.4" lengthAdjust="spacingAndGlyphs">0.88703</text>
<rect x="1581" y="536" width="41" height="11" fill="#0000ff" shape-rendering="crispEdges"/>
<text transform="translate(1585,545) skewX(0.05)" font-family="Liberation Sans, sans-serif" font-size="10.0" fill="#fff" stroke="#fff" stroke-width="0.2" textLength="32.4" lengthAdjust="spacingAndGlyphs">0.87513</text>
<text transform="translate(1583,566) skewX(0.05)" font-family="Liberation Sans, sans-serif" font-size="10.0" fill="#000" stroke="#000" stroke-width="0.2" textLength="14.3" lengthAdjust="spacingAndGlyphs">100</text>
<text transform="translate(1583,588.4) skewX(0.05)" font-family="Liberation Sans, sans-serif" font-size="10.0" fill="#000" stroke="#000" stroke-width="0.2" textLength="9.3" lengthAdjust="spacingAndGlyphs">70</text>
<text transform="translate(1583,625.7) skewX(0.05)" font-family="Liberation Sans, sans-serif" font-size="10.0" fill="#000" stroke="#000" stroke-width="0.2" textLength="9.3" lengthAdjust="spacingAndGlyphs">30</text>
<text transform="translate(1583,647.5) skewX(0.05)" font-family="Liberation Sans, sans-serif" font-size="10.0" fill="#000" stroke="#000" stroke-width="0.2" textLength="4.8" lengthAdjust="spacingAndGlyphs">0</text>
<text transform="translate(1583,663.3) skewX(0.05)" font-family="Liberation Sans, sans-serif" font-size="10.0" fill="#000" stroke="#000" stroke-width="0.2" textLength="38" lengthAdjust="spacingAndGlyphs">0.010933</text>
<text transform="translate(1583,707.4) skewX(0.05)" font-family="Liberation Sans, sans-serif" font-size="10.0" fill="#000" stroke="#000" stroke-width="0.2" textLength="17.7" lengthAdjust="spacingAndGlyphs">0.00</text>
<text transform="translate(1583,745.5) skewX(0.05)" font-family="Liberation Sans, sans-serif" font-size="10.0" fill="#000" stroke="#000" stroke-width="0.2" textLength="41" lengthAdjust="spacingAndGlyphs">-0.009653</text>
<g shape-rendering="crispEdges"><rect x="1258" y="27" width="9" height="1" fill="#c0c0c0"/><rect x="1259" y="28" width="7" height="1" fill="#c0c0c0"/><rect x="1260" y="29" width="5" height="1" fill="#c0c0c0"/><rect x="1261" y="30" width="3" height="1" fill="#c0c0c0"/><rect x="1262" y="31" width="1" height="1" fill="#c0c0c0"/></g>
<g shape-rendering="crispEdges">
<rect x="6" y="33" width="7" height="1" fill="#000"/>
<rect x="7" y="34" width="5" height="1" fill="#000"/>
<rect x="8" y="35" width="3" height="1" fill="#000"/>
<rect x="9" y="36" width="1" height="1" fill="#000"/>
</g>
<text transform="translate(18.5,38) skewX(0.05)" font-family="Liberation Sans, sans-serif" font-size="10.0" fill="#000" stroke="#000" stroke-width="0.2" textLength="64.3" lengthAdjust="spacingAndGlyphs">USDCHF,Daily</text>
<text transform="translate(89.3,38) skewX(0.05)" font-family="Liberation Sans, sans-serif" font-size="10.0" fill="#000" stroke="#000" stroke-width="0.2" textLength="140" lengthAdjust="spacingAndGlyphs">0.93541 0.93650 0.93461 0.93582</text>
<text transform="translate(7.1,568) skewX(0.05)" font-family="Liberation Sans, sans-serif" font-size="10.0" fill="#000" stroke="#000" stroke-width="0.2" textLength="67.7" lengthAdjust="spacingAndGlyphs">RSI(14) 66.3119</text>
<text transform="translate(7.1,666) skewX(0.05)" font-family="Liberation Sans, sans-serif" font-size="10.0" fill="#000" stroke="#000" stroke-width="0.2" textLength="147.5" lengthAdjust="spacingAndGlyphs">MACD(12,26,9) 0.006335 0.006861</text>
<g shape-rendering="crispEdges" fill="#000">
<rect x="3" y="750" width="1" height="3"/>
<rect x="67" y="750" width="1" height="3"/>
<rect x="131" y="750" width="1" height="3"/>
<rect x="195" y="750" width="1" height="3"/>
<rect x="259" y="750" width="1" height="3"/>
<rect x="323" y="750" width="1" height="3"/>
<rect x="387" y="750" width="1" height="3"/>
<rect x="451" y="750" width="1" height="3"/>
<rect x="515" y="750" width="1" height="3"/>
<rect x="579" y="750" width="1" height="3"/>
<rect x="643" y="750" width="1" height="3"/>
<rect x="707" y="750" width="1" height="3"/>
<rect x="771" y="750" width="1" height="3"/>
<rect x="835" y="750" width="1" height="3"/>
<rect x="899" y="750" width="1" height="3"/>
<rect x="963" y="750" width="1" height="3"/>
<rect x="1027" y="750" width="1" height="3"/>
<rect x="1091" y="750" width="1" height="3"/>
<rect x="1155" y="750" width="1" height="3"/>
<rect x="1219" y="750" width="1" height="3"/>
</g>
<text transform="translate(2.6,762) skewX(0.05)" font-family="Liberation Sans, sans-serif" font-size="10.0" fill="#000" stroke="#000" stroke-width="0.2" textLength="51.2" lengthAdjust="spacingAndGlyphs">23 Mar 2020</text>
<text transform="translate(66.6,762) skewX(0.05)" font-family="Liberation Sans, sans-serif" font-size="10.0" fill="#000" stroke="#000" stroke-width="0.2" textLength="50.6" lengthAdjust="spacingAndGlyphs">10 Apr 2020</text>
<text transform="translate(130.6,762) skewX(0.05)" font-family="Liberation Sans, sans-serif" font-size="10.0" fill="#000" stroke="#000" stroke-width="0.2" textLength="50.9" lengthAdjust="spacingAndGlyphs">29 Apr 2020</text>
<text transform="translate(194.6,762) skewX(0.05)" font-family="Liberation Sans, sans-serif" font-size="10.0" fill="#000" stroke="#000" stroke-width="0.2" textLength="54.3" lengthAdjust="spacingAndGlyphs">18 May 2020</text>
<text transform="translate(258.6,762) skewX(0.05)" font-family="Liberation Sans, sans-serif" font-size="10.0" fill="#000" stroke="#000" stroke-width="0.2" textLength="44" lengthAdjust="spacingAndGlyphs">5 Jun 2020</text>
<text transform="translate(322.6,762) skewX(0.05)" font-family="Liberation Sans, sans-serif" font-size="10.0" fill="#000" stroke="#000" stroke-width="0.2" textLength="49.3" lengthAdjust="spacingAndGlyphs">24 Jun 2020</text>
<text transform="translate(386.6,762) skewX(0.05)" font-family="Liberation Sans, sans-serif" font-size="10.0" fill="#000" stroke="#000" stroke-width="0.2" textLength="46.6" lengthAdjust="spacingAndGlyphs">13 Jul 2020</text>
<text transform="translate(450.6,762) skewX(0.05)" font-family="Liberation Sans, sans-serif" font-size="10.0" fill="#000" stroke="#000" stroke-width="0.2" textLength="46.7" lengthAdjust="spacingAndGlyphs">31 Jul 2020</text>
<text transform="translate(514.6,762) skewX(0.05)" font-family="Liberation Sans, sans-serif" font-size="10.0" fill="#000" stroke="#000" stroke-width="0.2" textLength="52" lengthAdjust="spacingAndGlyphs">19 Aug 2020</text>
<text transform="translate(578.6,762) skewX(0.05)" font-family="Liberation Sans, sans-serif" font-size="10.0" fill="#000" stroke="#000" stroke-width="0.2" textLength="46.6" lengthAdjust="spacingAndGlyphs">7 Sep 2020</text>
<text transform="translate(642.6,762) skewX(0.05)" font-family="Liberation Sans, sans-serif" font-size="10.0" fill="#000" stroke="#000" stroke-width="0.2" textLength="51.3" lengthAdjust="spacingAndGlyphs">25 Sep 2020</text>
<text transform="translate(706.6,762) skewX(0.05)" font-family="Liberation Sans, sans-serif" font-size="10.0" fill="#000" stroke="#000" stroke-width="0.2" textLength="50.6" lengthAdjust="spacingAndGlyphs">14 Oct 2020</text>
<text transform="translate(770.6,762) skewX(0.05)" font-family="Liberation Sans, sans-serif" font-size="10.0" fill="#000" stroke="#000" stroke-width="0.2" textLength="48.6" lengthAdjust="spacingAndGlyphs">2 Nov 2020</text>
<text transform="translate(834.6,762) skewX(0.05)" font-family="Liberation Sans, sans-serif" font-size="10.0" fill="#000" stroke="#000" stroke-width="0.2" textLength="53.3" lengthAdjust="spacingAndGlyphs">20 Nov 2020</text>
<text transform="translate(898.6,762) skewX(0.05)" font-family="Liberation Sans, sans-serif" font-size="10.0" fill="#000" stroke="#000" stroke-width="0.2" textLength="45.9" lengthAdjust="spacingAndGlyphs">9 Dec 2020</text>
<text transform="translate(962.6,762) skewX(0.05)" font-family="Liberation Sans, sans-serif" font-size="10.0" fill="#000" stroke="#000" stroke-width="0.2" textLength="50.9" lengthAdjust="spacingAndGlyphs">29 Dec 2020</text>
<text transform="translate(1026.6,762) skewX(0.05)" font-family="Liberation Sans, sans-serif" font-size="10.0" fill="#000" stroke="#000" stroke-width="0.2" textLength="48.6" lengthAdjust="spacingAndGlyphs">18 Jan 2021</text>
<text transform="translate(1090.6,762) skewX(0.05)" font-family="Liberation Sans, sans-serif" font-size="10.0" fill="#000" stroke="#000" stroke-width="0.2" textLength="46.8" lengthAdjust="spacingAndGlyphs">5 Feb 2021</text>
<text transform="translate(1154.6,762) skewX(0.05)" font-family="Liberation Sans, sans-serif" font-size="10.0" fill="#000" stroke="#000" stroke-width="0.2" textLength="51.4" lengthAdjust="spacingAndGlyphs">24 Feb 2021</text>
<text transform="translate(1218.6,762) skewX(0.05)" font-family="Liberation Sans, sans-serif" font-size="10.0" fill="#000" stroke="#000" stroke-width="0.2" textLength="50.7" lengthAdjust="spacingAndGlyphs">15 Mar 2021</text>
<g shape-rendering="crispEdges">
<rect x="0" y="770" width="1622" height="1" fill="#e3e3e3"/>
<rect x="0" y="772" width="1622" height="24" fill="#f0f0f0"/>
<rect x="0" y="772" width="1622" height="1" fill="#000"/>
<rect x="0" y="773" width="1622" height="1" fill="#fbfbfb"/>
<rect x="0" y="795" width="1622" height="1" fill="#e6e6e6"/>
<rect x="0" y="796" width="1622" height="1" fill="#a0a0a0"/>
<rect x="0" y="797" width="1622" height="1" fill="#f4f4f4"/>
<rect x="107" y="773" width="1" height="19" fill="#fff"/>
<rect x="108" y="772" width="100" height="20" fill="#fff"/>
<rect x="108" y="772" width="1" height="19" fill="#000"/><rect x="108" y="790" width="100" height="1" fill="#000"/><rect x="207" y="772" width="1" height="19" fill="#000"/>
<rect x="208" y="773" width="1" height="19" fill="#a0a0a0"/><rect x="109" y="791" width="100" height="1" fill="#d8d8d8"/>
</g>
<text transform="translate(16,787) skewX(0.05)" font-family="Liberation Sans, sans-serif" font-size="12.4" fill="#7d7d7d" stroke="#7d7d7d" stroke-width="0.08" textLength="80.5" lengthAdjust="spacingAndGlyphs">EURUSD,Daily</text>
<text transform="translate(118.2,787) skewX(0.05)" font-family="Liberation Sans, sans-serif" font-size="12.4" fill="#000" stroke="#000" stroke-width="0.08" textLength="78.8" lengthAdjust="spacingAndGlyphs">USDCHF,Daily</text>
<text transform="translate(219,787) skewX(0.05)" font-family="Liberation Sans, sans-serif" font-size="12.4" fill="#7d7d7d" stroke="#7d7d7d" stroke-width="0.08" textLength="82.3" lengthAdjust="spacingAndGlyphs">AUDUSD,Daily</text>
<text transform="translate(322.9,787) skewX(0.05)" font-family="Liberation Sans, sans-serif" font-size="12.4" fill="#7d7d7d" stroke="#7d7d7d" stroke-width="0.08" textLength="81.6" lengthAdjust="spacingAndGlyphs">USDCAD,Daily</text>
<text transform="translate(426,787) skewX(0.05)" font-family="Liberation Sans, sans-serif" font-size="12.4" fill="#7d7d7d" stroke="#7d7d7d" stroke-width="0.08" textLength="83.3" lengthAdjust="spacingAndGlyphs">USDCNH,Daily</text>
<text transform="translate(532,787) skewX(0.05)" font-family="Liberation Sans, sans-serif" font-size="12.4" fill="#7d7d7d" stroke="#7d7d7d" stroke-width="0.08" textLength="80.2" lengthAdjust="spacingAndGlyphs">EURUSD,Daily</text>
<text transform="translate(635.9,787) skewX(0.05)" font-family="Liberation Sans, sans-serif" font-size="12.4" fill="#7d7d7d" stroke="#7d7d7d" stroke-width="0.08" textLength="79.9" lengthAdjust="spacingAndGlyphs">GBPUSD,Daily</text>
<text transform="translate(739,787) skewX(0.05)" font-family="Liberation Sans, sans-serif" font-size="12.4" fill="#7d7d7d" stroke="#7d7d7d" stroke-width="0.08" textLength="81.3" lengthAdjust="spacingAndGlyphs">XAUUSD,Daily</text>
<text transform="translate(844.6,787) skewX(0.05)" font-family="Liberation Sans, sans-serif" font-size="12.4" fill="#7d7d7d" stroke="#7d7d7d" stroke-width="0.08" textLength="58.9" lengthAdjust="spacingAndGlyphs">HK50,M15</text>
<text transform="translate(926.8,787) skewX(0.05)" font-family="Liberation Sans, sans-serif" font-size="12.4" fill="#7d7d7d" stroke="#7d7d7d" stroke-width="0.08" textLength="56.9" lengthAdjust="spacingAndGlyphs">UK100,H1</text>
<text transform="translate(1007,787) skewX(0.05)" font-family="Liberation Sans, sans-serif" font-size="12.4" fill="#7d7d7d" stroke="#7d7d7d" stroke-width="0.08" textLength="56.6" lengthAdjust="spacingAndGlyphs">UK100,H1</text>
<text transform="translate(1086.7,787) skewX(0.05)" font-family="Liberation Sans, sans-serif" font-size="12.4" fill="#7d7d7d" stroke="#7d7d7d" stroke-width="0.08" textLength="56.8" lengthAdjust="spacingAndGlyphs">GER30,H1</text>
<text transform="translate(1166.2,787) skewX(0.05)" font-family="Liberation Sans, sans-serif" font-size="12.4" fill="#7d7d7d" stroke="#7d7d7d" stroke-width="0.08" textLength="54.8" lengthAdjust="spacingAndGlyphs">FRA40,H1</text>
<text transform="translate(1242,787) skewX(0.05)" font-family="Liberation Sans, sans-serif" font-size="12.4" fill="#7d7d7d" stroke="#7d7d7d" stroke-width="0.08" textLength="50.8" lengthAdjust="spacingAndGlyphs">USOil,H1</text>
<text transform="translate(1313.9,787) skewX(0.05)" font-family="Liberation Sans, sans-serif" font-size="12.4" fill="#7d7d7d" stroke="#7d7d7d" stroke-width="0.08" textLength="62.8" lengthAdjust="spacingAndGlyphs">USDJPY,H1</text>
<text transform="translate(1399,787) skewX(0.05)" font-family="Liberation Sans, sans-serif" font-size="12.4" fill="#7d7d7d" stroke="#7d7d7d" stroke-width="0.08" textLength="73" lengthAdjust="spacingAndGlyphs">DJ30,Weekly</text>
<text transform="translate(1493.6,787) skewX(0.05)" font-family="Liberation Sans, sans-serif" font-size="12.4" fill="#7d7d7d" stroke="#7d7d7d" stroke-width="0.08" textLength="79.2" lengthAdjust="spacingAndGlyphs">CHINA300,H1</text>
<g shape-rendering="crispEdges">
<rect x="312" y="775" width="1" height="13" fill="#505050"/>
<rect x="416" y="775" width="1" height="13" fill="#505050"/>
<rect x="520" y="775" width="1" height="13" fill="#505050"/>
<rect x="624" y="775" width="1" height="13" fill="#505050"/>
<rect x="728" y="775" width="1" height="13" fill="#505050"/>
<rect x="832" y="775" width="1" height="13" fill="#505050"/>
<rect x="916" y="775" width="1" height="13" fill="#505050"/>
<rect x="996" y="775" width="1" height="13" fill="#505050"/>
<rect x="1076" y="775" width="1" height="13" fill="#505050"/>
<rect x="1156" y="775" width="1" height="13" fill="#505050"/>
<rect x="1232" y="775" width="1" height="13" fill="#505050"/>
<rect x="1304" y="775" width="1" height="13" fill="#505050"/>
<rect x="1388" y="775" width="1" height="13" fill="#505050"/>
<rect x="1484" y="775" width="1" height="13" fill="#505050"/>
<rect x="1584" y="775" width="1" height="13" fill="#505050"/>
</g>
<path d="M1599 779.5 L1599 786.5 L1595.5 783 Z" fill="#a0a0a0"/><path d="M1613.5 779 L1613.5 787 L1617.5 783 Z" fill="#000"/>
</svg>
</body></html>
